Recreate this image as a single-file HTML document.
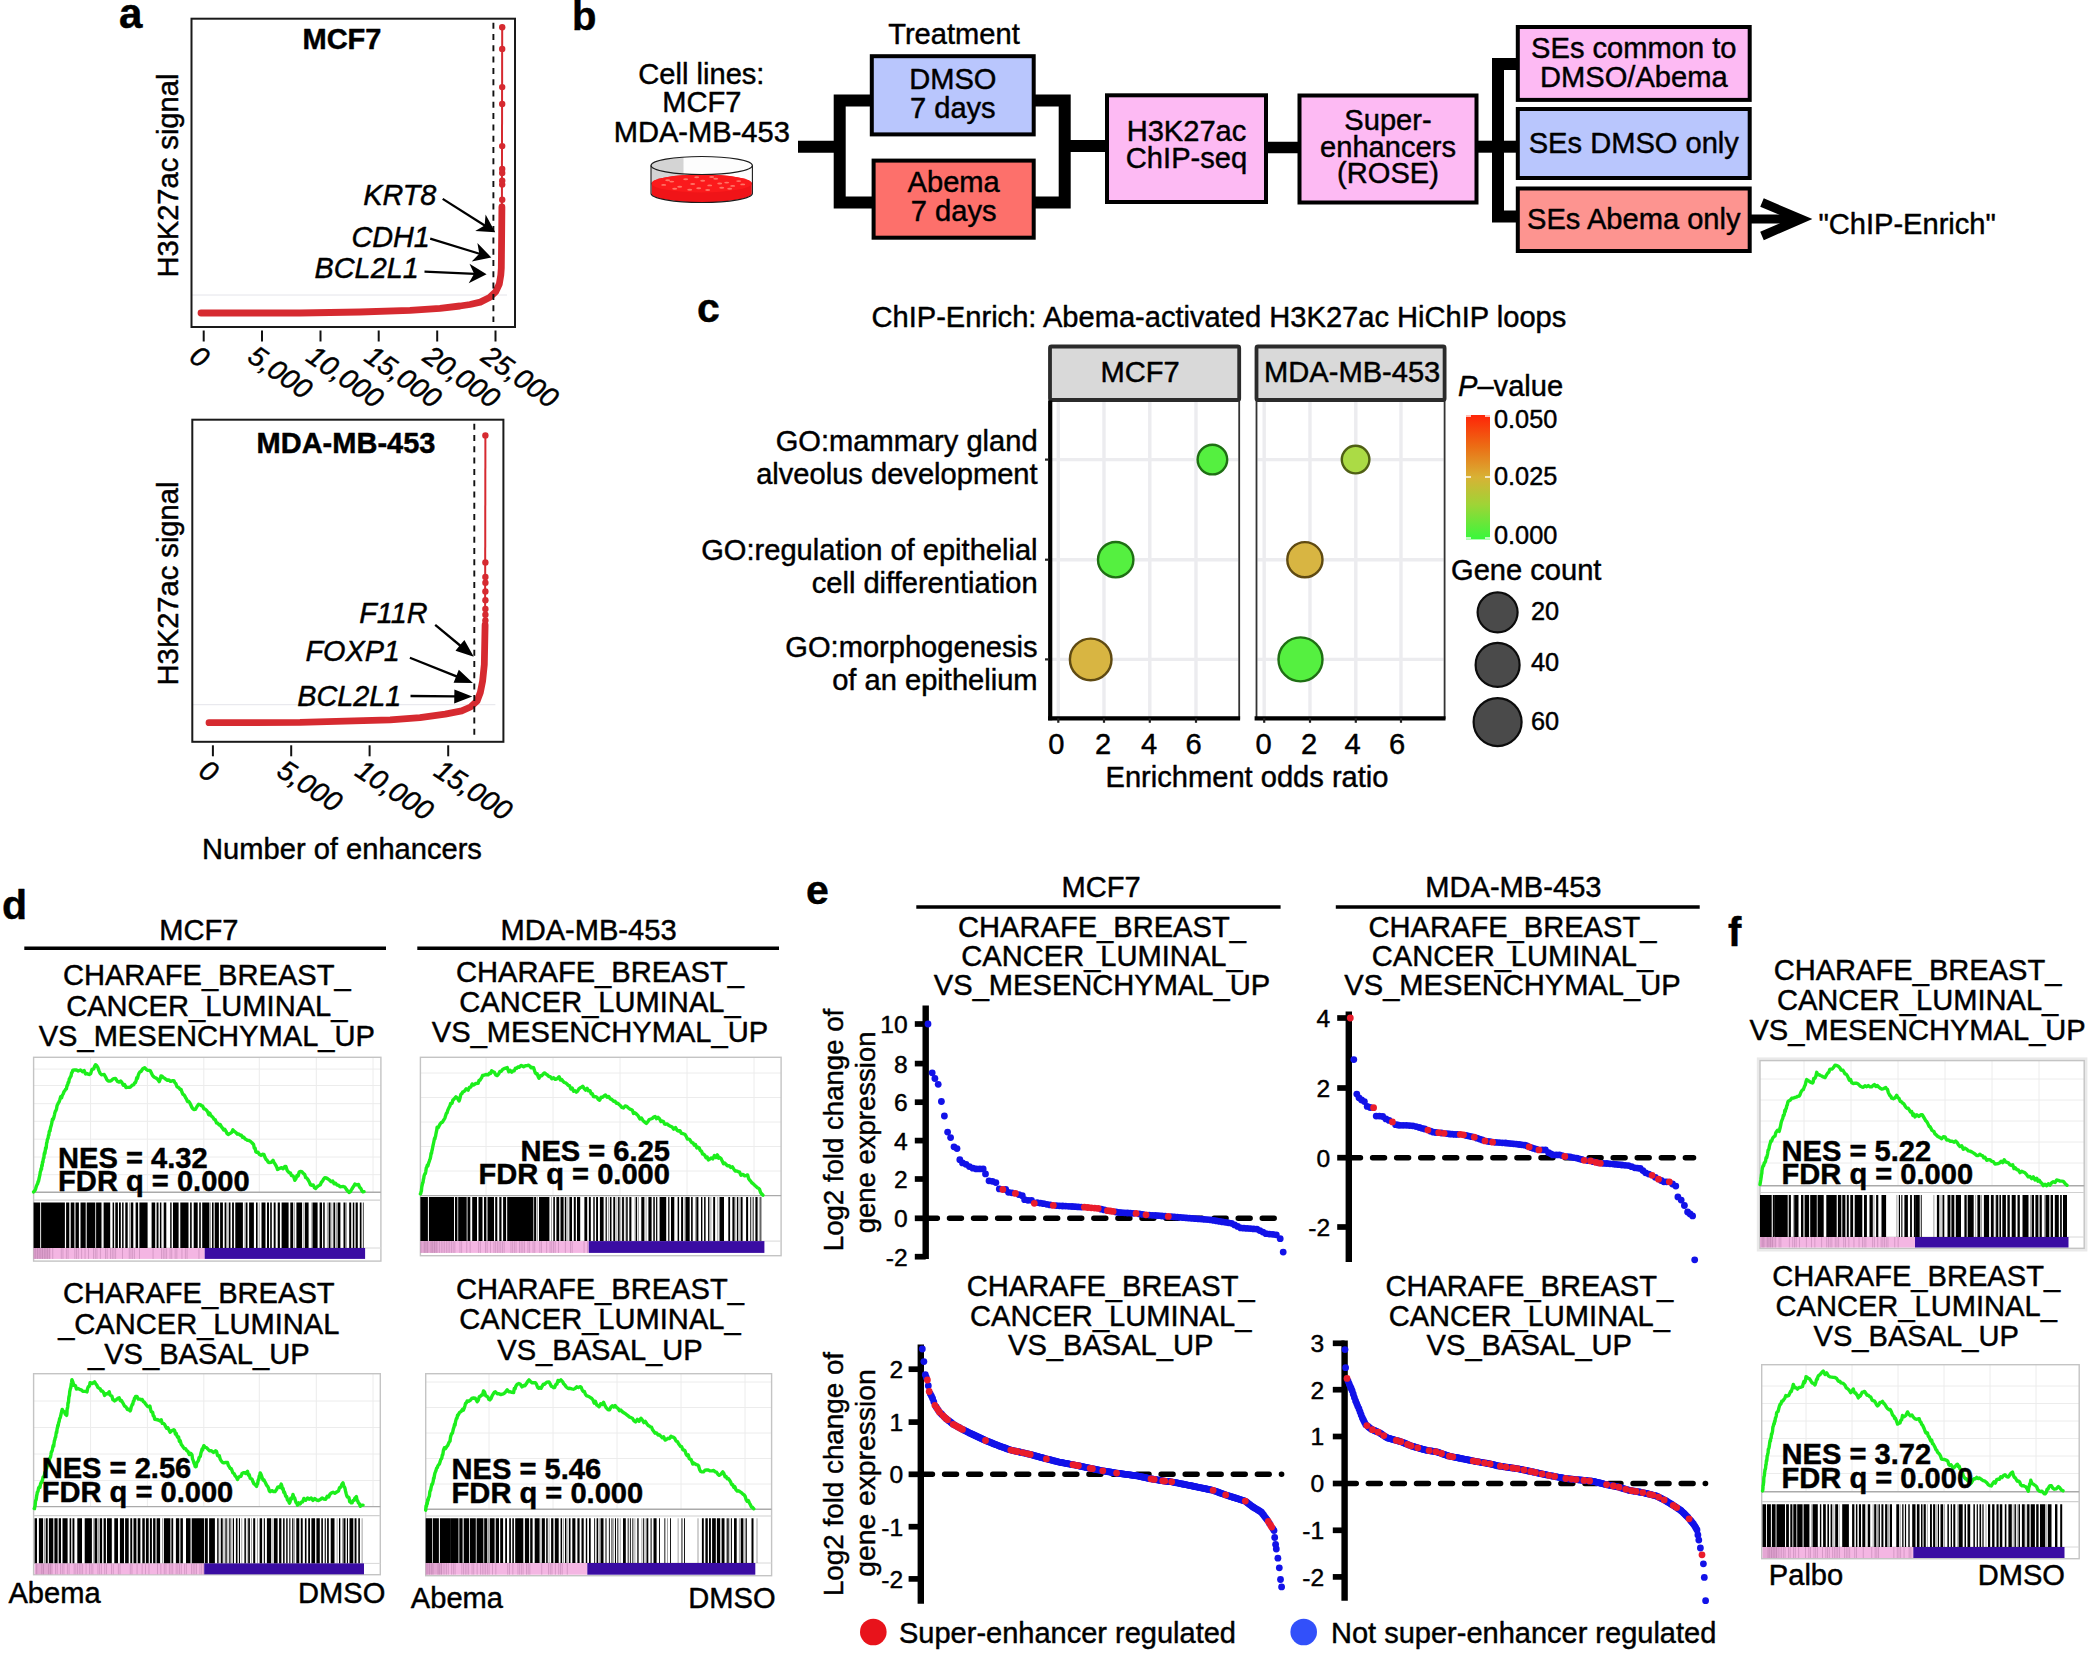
<!DOCTYPE html>
<html><head><meta charset="utf-8"><title>Figure</title>
<style>
html,body{margin:0;padding:0;background:#fff;}
svg{display:block;font-family:"Liberation Sans",sans-serif;}
svg text{fill:#000;stroke:#000;stroke-width:0.45px;stroke-linejoin:round;}
</style></head><body>
<svg width="2088" height="1654" viewBox="0 0 2088 1654">
<rect width="2088" height="1654" fill="#fff"/>
<text x="119.0" y="27.7" font-size="42" font-weight="bold">a</text>
<line x1="191.5" y1="295.0" x2="507.0" y2="295.0" stroke="#e4e4ea" stroke-width="1" />
<polyline points="201.0,313.0 300.0,313.0 360.0,312.0 410.0,310.3 440.0,308.3 460.0,306.0 470.0,304.5 480.3,302.1 489.5,297.5 495.7,291.8 499.3,284.0 500.8,275.0 501.3,268.2 501.5,250.0 501.7,230.0 501.9,207.0" fill="none" stroke="#d62a30" stroke-width="6.8" stroke-linecap="round" stroke-linejoin="round"/>
<line x1="501.9" y1="207.0" x2="502.2" y2="27.3" stroke="#d62a30" stroke-width="2" />
<circle cx="502.2" cy="27.3" r="3.2" fill="#d62a30" />
<circle cx="502.2" cy="48.9" r="3.2" fill="#d62a30" />
<circle cx="502.2" cy="87.1" r="3.2" fill="#d62a30" />
<circle cx="502.2" cy="104.0" r="3.2" fill="#d62a30" />
<circle cx="502.2" cy="146.1" r="3.2" fill="#d62a30" />
<circle cx="502.2" cy="169.0" r="3.2" fill="#d62a30" />
<circle cx="502.2" cy="172.9" r="3.2" fill="#d62a30" />
<circle cx="502.2" cy="180.7" r="3.2" fill="#d62a30" />
<circle cx="502.2" cy="184.6" r="3.2" fill="#d62a30" />
<circle cx="502.2" cy="199.7" r="3.2" fill="#d62a30" />
<line x1="493.4" y1="22.7" x2="493.4" y2="322.0" stroke="#111" stroke-width="1.9" stroke-dasharray="6 5.3"/>
<rect x="191.5" y="18.7" width="323.5" height="308.3" fill="none" stroke="#1a1a1a" stroke-width="2" />
<text x="342.0" y="49.4" font-size="29" text-anchor="middle" font-weight="bold">MCF7</text>
<line x1="203.7" y1="330.5" x2="203.7" y2="341.5" stroke="#111" stroke-width="2" />
<text x="187.7" y="360.0" font-size="28" font-style="italic" transform="rotate(35 187.7 360.0)">0</text>
<line x1="262.0" y1="330.5" x2="262.0" y2="341.5" stroke="#111" stroke-width="2" />
<text x="246.0" y="360.0" font-size="28" font-style="italic" transform="rotate(35 246.0 360.0)">5,000</text>
<line x1="320.5" y1="330.5" x2="320.5" y2="341.5" stroke="#111" stroke-width="2" />
<text x="304.5" y="360.0" font-size="28" font-style="italic" transform="rotate(35 304.5 360.0)">10,000</text>
<line x1="378.7" y1="330.5" x2="378.7" y2="341.5" stroke="#111" stroke-width="2" />
<text x="362.7" y="360.0" font-size="28" font-style="italic" transform="rotate(35 362.7 360.0)">15,000</text>
<line x1="437.2" y1="330.5" x2="437.2" y2="341.5" stroke="#111" stroke-width="2" />
<text x="421.2" y="360.0" font-size="28" font-style="italic" transform="rotate(35 421.2 360.0)">20,000</text>
<line x1="495.5" y1="330.5" x2="495.5" y2="341.5" stroke="#111" stroke-width="2" />
<text x="479.5" y="360.0" font-size="28" font-style="italic" transform="rotate(35 479.5 360.0)">25,000</text>
<text x="436.4" y="205.4" font-size="28.8" text-anchor="end" font-style="italic">KRT8</text>
<line x1="442.7" y1="198.9" x2="485.5" y2="226.0" stroke="#000" stroke-width="2.3" />
<polygon points="495.2,232.2 475.2,231.1 484.6,225.5 485.6,214.6" fill="#000"/>
<text x="429.9" y="247.0" font-size="28.8" text-anchor="end" font-style="italic">CDH1</text>
<line x1="430.2" y1="238.7" x2="480.3" y2="254.0" stroke="#000" stroke-width="2.3" />
<polygon points="491.3,257.4 471.7,261.6 479.3,253.7 477.4,243.0" fill="#000"/>
<text x="418.7" y="278.2" font-size="28.8" text-anchor="end" font-style="italic">BCL2L1</text>
<line x1="424.5" y1="271.7" x2="475.1" y2="273.8" stroke="#000" stroke-width="2.3" />
<polygon points="486.6,274.3 468.7,283.3 474.1,273.8 469.5,263.8" fill="#000"/>
<text x="178.0" y="175.5" font-size="29.1" text-anchor="middle" transform="rotate(-90 178.0 175.5)">H3K27ac signal</text>
<line x1="192.3" y1="704.7" x2="495.4" y2="704.7" stroke="#e4e4ea" stroke-width="1" />
<polyline points="209.0,722.7 300.0,722.4 390.2,719.8 420.0,717.6 445.2,714.2 461.7,710.9 470.5,707.0 477.1,701.0 480.4,692.2 482.6,681.1 484.3,664.6 484.8,640.0 485.1,625.0" fill="none" stroke="#d62a30" stroke-width="6.8" stroke-linecap="round" stroke-linejoin="round"/>
<line x1="485.1" y1="625.0" x2="485.4" y2="435.4" stroke="#d62a30" stroke-width="2" />
<circle cx="485.4" cy="435.4" r="3.2" fill="#d62a30" />
<circle cx="485.4" cy="562.5" r="3.2" fill="#d62a30" />
<circle cx="485.4" cy="577.0" r="3.2" fill="#d62a30" />
<circle cx="485.4" cy="582.8" r="3.2" fill="#d62a30" />
<circle cx="485.4" cy="591.5" r="3.2" fill="#d62a30" />
<circle cx="485.4" cy="600.2" r="3.2" fill="#d62a30" />
<circle cx="485.4" cy="608.9" r="3.2" fill="#d62a30" />
<circle cx="485.4" cy="614.7" r="3.2" fill="#d62a30" />
<circle cx="485.4" cy="620.5" r="3.2" fill="#d62a30" />
<line x1="474.3" y1="423.7" x2="474.3" y2="736.8" stroke="#111" stroke-width="1.9" stroke-dasharray="6 5.3"/>
<rect x="192.3" y="419.7" width="311.1" height="322.1" fill="none" stroke="#1a1a1a" stroke-width="2" />
<text x="346.0" y="453.0" font-size="29" text-anchor="middle" font-weight="bold">MDA-MB-453</text>
<line x1="212.9" y1="745.3" x2="212.9" y2="756.3" stroke="#111" stroke-width="2" />
<text x="196.9" y="774.8" font-size="28" font-style="italic" transform="rotate(33 196.9 774.8)">0</text>
<line x1="291.2" y1="745.3" x2="291.2" y2="756.3" stroke="#111" stroke-width="2" />
<text x="275.2" y="774.8" font-size="28" font-style="italic" transform="rotate(33 275.2 774.8)">5,000</text>
<line x1="369.6" y1="745.3" x2="369.6" y2="756.3" stroke="#111" stroke-width="2" />
<text x="353.6" y="774.8" font-size="28" font-style="italic" transform="rotate(33 353.6 774.8)">10,000</text>
<line x1="448.2" y1="745.3" x2="448.2" y2="756.3" stroke="#111" stroke-width="2" />
<text x="432.2" y="774.8" font-size="28" font-style="italic" transform="rotate(33 432.2 774.8)">15,000</text>
<text x="427.5" y="622.9" font-size="28.8" text-anchor="end" font-style="italic">F11R</text>
<line x1="435.2" y1="624.9" x2="460.7" y2="646.0" stroke="#000" stroke-width="2.3" />
<polygon points="473.8,656.8 455.5,650.7 459.9,645.3 464.4,639.9" fill="#000"/>
<text x="399.9" y="661.2" font-size="28.8" text-anchor="end" font-style="italic">FOXP1</text>
<line x1="409.9" y1="657.7" x2="457.1" y2="676.6" stroke="#000" stroke-width="2.3" />
<polygon points="472.9,682.9 453.6,682.7 456.2,676.2 458.8,669.7" fill="#000"/>
<text x="401.3" y="706.1" font-size="28.8" text-anchor="end" font-style="italic">BCL2L1</text>
<line x1="410.5" y1="696.0" x2="455.3" y2="696.4" stroke="#000" stroke-width="2.3" />
<polygon points="472.3,696.6 454.2,703.4 454.3,696.4 454.4,689.4" fill="#000"/>
<text x="178.0" y="583.5" font-size="29.1" text-anchor="middle" transform="rotate(-90 178.0 583.5)">H3K27ac signal</text>
<text x="342.0" y="858.5" font-size="29.1" text-anchor="middle">Number of enhancers</text>
<text x="572.0" y="29.5" font-size="40" font-weight="bold">b</text>
<text x="954.0" y="43.5" font-size="29.1" text-anchor="middle">Treatment</text>
<text x="701.4" y="83.6" font-size="29.1" text-anchor="middle">Cell lines:</text>
<text x="701.8" y="112.3" font-size="29.1" text-anchor="middle">MCF7</text>
<text x="701.8" y="141.5" font-size="29.1" text-anchor="middle">MDA-MB-453</text>
<g>
<path d="M651.0,165.5 L651.0,193.5 A50.7,9 0 0 0 752.4000000000001,193.5 L752.4000000000001,165.5 A50.7,9 0 0 0 651.0,165.5 Z" fill="#fdfdfd"/>
<path d="M651.0,165.5 A50.7,9 0 0 1 683.5,157.1 L683.5,183.5 L651.0,185.5 Z" fill="#d4d4d4"/>
<path d="M651.6,183.5 L651.6,193.5 A50.1,9 0 0 0 751.8000000000001,193.5 L751.8000000000001,183.5 A50.1,9 0 0 0 651.6,183.5 Z" fill="#f01418"/>
<ellipse cx="701.7" cy="183.5" rx="50.1" ry="9" fill="#fb1a1c"/>
<ellipse cx="663.7" cy="184.9" rx="2.5" ry="0.95" fill="#ff7466"/>
<ellipse cx="671.7" cy="181.6" rx="2.5" ry="0.95" fill="#ff7466"/>
<ellipse cx="679.7" cy="186.8" rx="2.5" ry="0.95" fill="#ff7466"/>
<ellipse cx="685.7" cy="179.2" rx="2.5" ry="0.95" fill="#ff7466"/>
<ellipse cx="692.7" cy="184.0" rx="2.5" ry="0.95" fill="#ff7466"/>
<ellipse cx="698.7" cy="188.2" rx="2.5" ry="0.95" fill="#ff7466"/>
<ellipse cx="702.7" cy="180.7" rx="2.5" ry="0.95" fill="#ff7466"/>
<ellipse cx="709.7" cy="185.4" rx="2.5" ry="0.95" fill="#ff7466"/>
<ellipse cx="715.7" cy="178.8" rx="2.5" ry="0.95" fill="#ff7466"/>
<ellipse cx="721.7" cy="187.8" rx="2.5" ry="0.95" fill="#ff7466"/>
<ellipse cx="726.7" cy="182.6" rx="2.5" ry="0.95" fill="#ff7466"/>
<ellipse cx="732.7" cy="185.9" rx="2.5" ry="0.95" fill="#ff7466"/>
<ellipse cx="738.7" cy="181.1" rx="2.5" ry="0.95" fill="#ff7466"/>
<ellipse cx="674.7" cy="188.7" rx="2.5" ry="0.95" fill="#ff7466"/>
<ellipse cx="689.7" cy="189.7" rx="2.5" ry="0.95" fill="#ff7466"/>
<ellipse cx="707.7" cy="190.0" rx="2.5" ry="0.95" fill="#ff7466"/>
<ellipse cx="719.7" cy="183.5" rx="2.5" ry="0.95" fill="#ff7466"/>
<ellipse cx="667.7" cy="180.2" rx="2.5" ry="0.95" fill="#ff7466"/>
<ellipse cx="696.7" cy="177.3" rx="2.5" ry="0.95" fill="#ff7466"/>
<ellipse cx="729.7" cy="188.7" rx="2.5" ry="0.95" fill="#ff7466"/>
<ellipse cx="711.7" cy="177.0" rx="2.5" ry="0.95" fill="#ff7466"/>
<ellipse cx="742.7" cy="184.4" rx="2.5" ry="0.95" fill="#ff7466"/>
<ellipse cx="701.7" cy="165.5" rx="50.7" ry="9" fill="none" stroke="#1c1c1c" stroke-width="1.1"/>
<path d="M651.0,165.5 L651.0,193.5 A50.7,9 0 0 0 752.4000000000001,193.5 L752.4000000000001,165.5" fill="none" stroke="#1c1c1c" stroke-width="1.1"/>
</g>
<line x1="798.0" y1="146.8" x2="840.0" y2="146.8" stroke="#000" stroke-width="12" />
<path d="M872,100.5 L839.7,100.5 L839.7,202.4 L874,202.4" fill="none" stroke="#000" stroke-width="12"/>
<path d="M1034,100.5 L1064.7,100.5 L1064.7,202.4 L1034,202.4" fill="none" stroke="#000" stroke-width="12"/>
<line x1="1064.0" y1="146.0" x2="1107.0" y2="146.0" stroke="#000" stroke-width="12" />
<line x1="1267.0" y1="147.5" x2="1299.0" y2="147.5" stroke="#000" stroke-width="11.5" />
<line x1="1477.0" y1="146.7" x2="1500.0" y2="146.7" stroke="#000" stroke-width="12" />
<path d="M1518,64 L1498,64 L1498,216.5 L1518,216.5" fill="none" stroke="#000" stroke-width="12"/>
<line x1="1498.0" y1="146.7" x2="1518.0" y2="146.7" stroke="#000" stroke-width="12" />
<line x1="1750.0" y1="219.0" x2="1796.0" y2="219.0" stroke="#000" stroke-width="9" />
<path d="M1762,202.5 L1801,219 L1762,236" fill="none" stroke="#000" stroke-width="9" stroke-linejoin="miter"/>
<rect x="871.8" y="56.2" width="161.9" height="78.2" fill="#b9c6fd" stroke="#000" stroke-width="4" />
<text x="952.8" y="88.5" font-size="29.1" text-anchor="middle">DMSO</text>
<text x="952.8" y="118.0" font-size="29.1" text-anchor="middle">7 days</text>
<rect x="873.6" y="160.6" width="160.1" height="77.1" fill="#fd706b" stroke="#000" stroke-width="4" />
<text x="953.7" y="191.8" font-size="29.1" text-anchor="middle">Abema</text>
<text x="953.7" y="221.3" font-size="29.1" text-anchor="middle">7 days</text>
<rect x="1107.0" y="95.3" width="159.0" height="106.7" fill="#fdbaf3" stroke="#000" stroke-width="4" />
<text x="1186.5" y="141.2" font-size="29.1" text-anchor="middle">H3K27ac</text>
<text x="1186.5" y="167.8" font-size="29.1" text-anchor="middle">ChIP-seq</text>
<rect x="1299.5" y="95.5" width="177.0" height="107.0" fill="#fdbaf3" stroke="#000" stroke-width="4" />
<text x="1388.0" y="130.1" font-size="29.1" text-anchor="middle">Super-</text>
<text x="1388.0" y="156.6" font-size="29.1" text-anchor="middle">enhancers</text>
<text x="1388.0" y="183.2" font-size="29.1" text-anchor="middle">(ROSE)</text>
<rect x="1517.8" y="27.0" width="231.9" height="72.9" fill="#fdbaf3" stroke="#000" stroke-width="4" />
<text x="1633.8" y="57.5" font-size="29.1" text-anchor="middle">SEs common to</text>
<text x="1633.8" y="87.2" font-size="29.1" text-anchor="middle">DMSO/Abema</text>
<rect x="1517.8" y="109.0" width="231.9" height="69.0" fill="#b9c6fd" stroke="#000" stroke-width="4" />
<text x="1633.8" y="152.7" font-size="29.1" text-anchor="middle">SEs DMSO only</text>
<rect x="1517.8" y="188.5" width="231.9" height="62.5" fill="#fd9490" stroke="#000" stroke-width="4" />
<text x="1633.8" y="228.8" font-size="29.1" text-anchor="middle">SEs Abema only</text>
<text x="1818.4" y="234.0" font-size="29.1">"ChIP-Enrich"</text>
<text x="697.0" y="321.8" font-size="41" font-weight="bold">c</text>
<text x="871.5" y="327.0" font-size="29.1">ChIP-Enrich: Abema-activated H3K27ac HiChIP loops</text>
<rect x="1050.0" y="400.5" width="189.2" height="317.8" fill="#fff" />
<line x1="1058.3" y1="400.5" x2="1058.3" y2="718.3" stroke="#ececef" stroke-width="3.4" />
<line x1="1104.0" y1="400.5" x2="1104.0" y2="718.3" stroke="#ececef" stroke-width="3.4" />
<line x1="1149.8" y1="400.5" x2="1149.8" y2="718.3" stroke="#ececef" stroke-width="3.4" />
<line x1="1196.0" y1="400.5" x2="1196.0" y2="718.3" stroke="#ececef" stroke-width="3.4" />
<line x1="1051.0" y1="459.6" x2="1238.2" y2="459.6" stroke="#ececef" stroke-width="3.4" />
<line x1="1051.0" y1="559.7" x2="1238.2" y2="559.7" stroke="#ececef" stroke-width="3.4" />
<line x1="1051.0" y1="659.4" x2="1238.2" y2="659.4" stroke="#ececef" stroke-width="3.4" />
<rect x="1050.0" y="400.5" width="189.2" height="317.8" fill="none" stroke="#333" stroke-width="1.8" />
<rect x="1050.0" y="346.5" width="189.2" height="53.5" fill="#d9d9d9" stroke="#2b2b2b" stroke-width="3.8" rx="1.5"/>
<text x="1140.2" y="382.2" font-size="29.1" text-anchor="middle">MCF7</text>
<line x1="1050.2" y1="400.5" x2="1050.2" y2="720.3" stroke="#000" stroke-width="4.2" />
<line x1="1048.1" y1="718.3" x2="1240.1" y2="718.3" stroke="#000" stroke-width="4.2" />
<line x1="1058.3" y1="718.3" x2="1058.3" y2="722.8" stroke="#222" stroke-width="2.2" />
<text x="1056.4" y="754.4" font-size="29.1" text-anchor="middle">0</text>
<line x1="1104.0" y1="718.3" x2="1104.0" y2="722.8" stroke="#222" stroke-width="2.2" />
<text x="1103.2" y="754.4" font-size="29.1" text-anchor="middle">2</text>
<line x1="1149.8" y1="718.3" x2="1149.8" y2="722.8" stroke="#222" stroke-width="2.2" />
<text x="1149.2" y="754.4" font-size="29.1" text-anchor="middle">4</text>
<line x1="1196.0" y1="718.3" x2="1196.0" y2="722.8" stroke="#222" stroke-width="2.2" />
<text x="1193.7" y="754.4" font-size="29.1" text-anchor="middle">6</text>
<rect x="1256.5" y="400.5" width="188.1" height="317.8" fill="#fff" />
<line x1="1264.2" y1="400.5" x2="1264.2" y2="718.3" stroke="#ececef" stroke-width="3.4" />
<line x1="1310.0" y1="400.5" x2="1310.0" y2="718.3" stroke="#ececef" stroke-width="3.4" />
<line x1="1355.8" y1="400.5" x2="1355.8" y2="718.3" stroke="#ececef" stroke-width="3.4" />
<line x1="1401.0" y1="400.5" x2="1401.0" y2="718.3" stroke="#ececef" stroke-width="3.4" />
<line x1="1257.5" y1="459.6" x2="1443.6" y2="459.6" stroke="#ececef" stroke-width="3.4" />
<line x1="1257.5" y1="559.7" x2="1443.6" y2="559.7" stroke="#ececef" stroke-width="3.4" />
<line x1="1257.5" y1="659.4" x2="1443.6" y2="659.4" stroke="#ececef" stroke-width="3.4" />
<rect x="1256.5" y="400.5" width="188.1" height="317.8" fill="none" stroke="#333" stroke-width="1.8" />
<rect x="1256.5" y="346.5" width="188.1" height="53.5" fill="#d9d9d9" stroke="#2b2b2b" stroke-width="3.8" rx="1.5"/>
<text x="1352.2" y="382.2" font-size="29.1" text-anchor="middle">MDA-MB-453</text>
<line x1="1254.6" y1="718.3" x2="1445.5" y2="718.3" stroke="#000" stroke-width="4.2" />
<line x1="1264.2" y1="718.3" x2="1264.2" y2="722.8" stroke="#222" stroke-width="2.2" />
<text x="1263.6" y="754.4" font-size="29.1" text-anchor="middle">0</text>
<line x1="1310.0" y1="718.3" x2="1310.0" y2="722.8" stroke="#222" stroke-width="2.2" />
<text x="1309.1" y="754.4" font-size="29.1" text-anchor="middle">2</text>
<line x1="1355.8" y1="718.3" x2="1355.8" y2="722.8" stroke="#222" stroke-width="2.2" />
<text x="1352.5" y="754.4" font-size="29.1" text-anchor="middle">4</text>
<line x1="1401.0" y1="718.3" x2="1401.0" y2="722.8" stroke="#222" stroke-width="2.2" />
<text x="1397.0" y="754.4" font-size="29.1" text-anchor="middle">6</text>
<line x1="1045.0" y1="459.6" x2="1048.5" y2="459.6" stroke="#222" stroke-width="2.2" />
<line x1="1045.0" y1="559.7" x2="1048.5" y2="559.7" stroke="#222" stroke-width="2.2" />
<line x1="1045.0" y1="659.4" x2="1048.5" y2="659.4" stroke="#222" stroke-width="2.2" />
<text x="1247.0" y="787.0" font-size="29.1" text-anchor="middle">Enrichment odds ratio</text>
<text x="1037.6" y="451.3" font-size="29.1" text-anchor="end">GO:mammary gland</text>
<text x="1037.6" y="484.3" font-size="29.1" text-anchor="end">alveolus development</text>
<text x="1037.6" y="560.3" font-size="29.1" text-anchor="end">GO:regulation of epithelial</text>
<text x="1037.6" y="593.3" font-size="29.1" text-anchor="end">cell differentiation</text>
<text x="1037.6" y="656.8" font-size="29.1" text-anchor="end">GO:morphogenesis</text>
<text x="1037.6" y="690.3" font-size="29.1" text-anchor="end">of an epithelium</text>
<circle cx="1212.4" cy="459.6" r="14.8" fill="#55f040" stroke="#1f6f14" stroke-width="2.4" />
<circle cx="1115.7" cy="559.7" r="17.7" fill="#55f040" stroke="#1f6f14" stroke-width="2.4" />
<circle cx="1090.7" cy="659.4" r="20.8" fill="#d8b542" stroke="#5f4a12" stroke-width="2.4" />
<circle cx="1355.6" cy="459.6" r="13.8" fill="#abdb45" stroke="#4f5f14" stroke-width="2.4" />
<circle cx="1304.9" cy="559.7" r="17.6" fill="#d8b542" stroke="#5f4a12" stroke-width="2.4" />
<circle cx="1300.5" cy="659.4" r="22" fill="#55f040" stroke="#1f6f14" stroke-width="2.4" />
<defs><linearGradient id="pv" x1="0" y1="0" x2="0" y2="1"><stop offset="0" stop-color="#ff2408"/><stop offset="0.25" stop-color="#ec6c14"/><stop offset="0.5" stop-color="#d8b235"/><stop offset="0.72" stop-color="#9fd436"/><stop offset="1" stop-color="#38f83c"/></linearGradient></defs>
<rect x="1466.0" y="415.0" width="24.0" height="124.4" fill="url(#pv)" />
<line x1="1466.0" y1="416.0" x2="1471.0" y2="416.0" stroke="#fff" stroke-width="1.4" />
<line x1="1485.0" y1="416.0" x2="1490.0" y2="416.0" stroke="#fff" stroke-width="1.4" />
<line x1="1466.0" y1="477.0" x2="1471.0" y2="477.0" stroke="#fff" stroke-width="1.4" />
<line x1="1485.0" y1="477.0" x2="1490.0" y2="477.0" stroke="#fff" stroke-width="1.4" />
<line x1="1466.0" y1="538.0" x2="1471.0" y2="538.0" stroke="#fff" stroke-width="1.4" />
<line x1="1485.0" y1="538.0" x2="1490.0" y2="538.0" stroke="#fff" stroke-width="1.4" />
<text x="1458" y="396.4" font-size="29.1"><tspan font-style="italic">P</tspan>–value</text>
<text x="1494.0" y="428.0" font-size="25.3">0.050</text>
<text x="1494.0" y="485.0" font-size="25.3">0.025</text>
<text x="1494.0" y="544.0" font-size="25.3">0.000</text>
<text x="1451.0" y="580.0" font-size="29.1">Gene count</text>
<circle cx="1497.6" cy="612.3" r="20" fill="#4a4a4a" stroke="#0c0c0c" stroke-width="2.2" />
<text x="1531.0" y="620.0" font-size="25.3">20</text>
<circle cx="1497.6" cy="664.9" r="22" fill="#4a4a4a" stroke="#0c0c0c" stroke-width="2.2" />
<text x="1531.0" y="671.0" font-size="25.3">40</text>
<circle cx="1497.6" cy="722.1" r="24" fill="#4a4a4a" stroke="#0c0c0c" stroke-width="2.2" />
<text x="1531.0" y="729.6" font-size="25.3">60</text>
<text x="2.0" y="919.4" font-size="41" font-weight="bold">d</text>
<text x="198.8" y="939.9" font-size="29.1" text-anchor="middle">MCF7</text>
<line x1="24.3" y1="948.3" x2="386.0" y2="948.3" stroke="#000" stroke-width="3.6" />
<text x="588.5" y="939.9" font-size="29.1" text-anchor="middle">MDA-MB-453</text>
<line x1="417.3" y1="948.3" x2="779.0" y2="948.3" stroke="#000" stroke-width="3.6" />
<text x="206.8" y="985.3" font-size="29.1" text-anchor="middle">CHARAFE_BREAST_</text>
<text x="206.8" y="1015.7" font-size="29.1" text-anchor="middle">CANCER_LUMINAL_</text>
<text x="206.8" y="1046.0" font-size="29.1" text-anchor="middle">VS_MESENCHYMAL_UP</text>
<text x="600.0" y="982.0" font-size="29.1" text-anchor="middle">CHARAFE_BREAST_</text>
<text x="600.0" y="1012.4" font-size="29.1" text-anchor="middle">CANCER_LUMINAL_</text>
<text x="600.0" y="1042.3" font-size="29.1" text-anchor="middle">VS_MESENCHYMAL_UP</text>
<text x="198.8" y="1303.4" font-size="29.1" text-anchor="middle">CHARAFE_BREAST</text>
<text x="198.8" y="1333.8" font-size="29.1" text-anchor="middle">_CANCER_LUMINAL</text>
<text x="198.8" y="1364.2" font-size="29.1" text-anchor="middle">_VS_BASAL_UP</text>
<text x="600.0" y="1298.7" font-size="29.1" text-anchor="middle">CHARAFE_BREAST_</text>
<text x="600.0" y="1329.1" font-size="29.1" text-anchor="middle">CANCER_LUMINAL_</text>
<text x="600.0" y="1359.5" font-size="29.1" text-anchor="middle">VS_BASAL_UP</text>
<line x1="90.6" y1="1057.3" x2="90.6" y2="1192.3" stroke="#ececec" stroke-width="1" />
<line x1="147.4" y1="1057.3" x2="147.4" y2="1192.3" stroke="#ececec" stroke-width="1" />
<line x1="203.8" y1="1057.3" x2="203.8" y2="1192.3" stroke="#ececec" stroke-width="1" />
<line x1="259.3" y1="1057.3" x2="259.3" y2="1192.3" stroke="#ececec" stroke-width="1" />
<line x1="316.3" y1="1057.3" x2="316.3" y2="1192.3" stroke="#ececec" stroke-width="1" />
<line x1="373.0" y1="1057.3" x2="373.0" y2="1192.3" stroke="#ececec" stroke-width="1" />
<line x1="33.6" y1="1069.1" x2="380.9" y2="1069.1" stroke="#ececec" stroke-width="1" />
<line x1="33.6" y1="1085.5" x2="380.9" y2="1085.5" stroke="#ececec" stroke-width="1" />
<line x1="33.6" y1="1103.7" x2="380.9" y2="1103.7" stroke="#ececec" stroke-width="1" />
<line x1="33.6" y1="1121.3" x2="380.9" y2="1121.3" stroke="#ececec" stroke-width="1" />
<line x1="33.6" y1="1139.2" x2="380.9" y2="1139.2" stroke="#ececec" stroke-width="1" />
<line x1="33.6" y1="1157.0" x2="380.9" y2="1157.0" stroke="#ececec" stroke-width="1" />
<line x1="33.6" y1="1174.7" x2="380.9" y2="1174.7" stroke="#ececec" stroke-width="1" />
<rect x="33.6" y="1057.3" width="347.3" height="203.8" fill="none" stroke="#c4c4c4" stroke-width="1.4" />
<line x1="33.6" y1="1192.3" x2="380.9" y2="1192.3" stroke="#aaa" stroke-width="1.4" />
<line x1="33.6" y1="1200.1" x2="380.9" y2="1200.1" stroke="#d0d0d0" stroke-width="1.2" />
<line x1="33.6" y1="1248.0" x2="380.9" y2="1248.0" stroke="#d8d8d8" stroke-width="1" />
<path d="M33.6,1202.5h6.6v45.5h-6.6zM41.1,1202.5h3.6v45.5h-3.6zM44.7,1202.5h20.2v45.5h-20.2zM66.1,1202.5h3.2v45.5h-3.2zM70.7,1202.5h3.7v45.5h-3.7zM75.5,1202.5h3.4v45.5h-3.4zM80.5,1202.5h5.2v45.5h-5.2zM86.7,1202.5h2.6v45.5h-2.6zM89.3,1202.5h6.0v45.5h-6.0zM96.1,1202.5h5.4v45.5h-5.4zM103.9,1202.5h6.3v45.5h-6.3zM112.6,1202.5h1.5v45.5h-1.5zM115.3,1202.5h2.6v45.5h-2.6zM119.0,1202.5h1.8v45.5h-1.8zM122.1,1202.5h1.5v45.5h-1.5zM125.3,1202.5h2.4v45.5h-2.4zM130.7,1202.5h2.6v45.5h-2.6zM135.6,1202.5h2.5v45.5h-2.5zM139.4,1202.5h8.2v45.5h-8.2zM151.6,1202.5h3.6v45.5h-3.6zM156.6,1202.5h1.9v45.5h-1.9zM159.9,1202.5h1.5v45.5h-1.5zM164.0,1202.5h2.3v45.5h-2.3zM170.2,1202.5h1.4v45.5h-1.4zM173.0,1202.5h5.6v45.5h-5.6zM180.3,1202.5h8.2v45.5h-8.2zM190.1,1202.5h1.6v45.5h-1.6zM193.7,1202.5h4.0v45.5h-4.0zM199.2,1202.5h1.6v45.5h-1.6zM202.2,1202.5h7.2v45.5h-7.2zM212.0,1202.5h1.6v45.5h-1.6zM214.7,1202.5h4.2v45.5h-4.2zM220.1,1202.5h2.8v45.5h-2.8zM224.6,1202.5h1.8v45.5h-1.8zM228.9,1202.5h1.6v45.5h-1.6zM232.1,1202.5h1.8v45.5h-1.8zM235.3,1202.5h7.6v45.5h-7.6zM245.7,1202.5h1.8v45.5h-1.8zM249.1,1202.5h4.8v45.5h-4.8zM256.0,1202.5h1.6v45.5h-1.6zM261.5,1202.5h4.0v45.5h-4.0zM267.0,1202.5h2.0v45.5h-2.0zM270.2,1202.5h1.6v45.5h-1.6zM273.7,1202.5h1.9v45.5h-1.9zM277.7,1202.5h2.2v45.5h-2.2zM281.6,1202.5h7.0v45.5h-7.0zM290.3,1202.5h2.9v45.5h-2.9zM296.4,1202.5h5.6v45.5h-5.6zM304.8,1202.5h3.8v45.5h-3.8zM312.5,1202.5h5.1v45.5h-5.1zM319.6,1202.5h2.4v45.5h-2.4zM323.2,1202.5h1.5v45.5h-1.5zM328.6,1202.5h1.9v45.5h-1.9zM333.4,1202.5h1.8v45.5h-1.8zM337.6,1202.5h2.8v45.5h-2.8zM343.5,1202.5h2.0v45.5h-2.0zM349.2,1202.5h2.0v45.5h-2.0zM352.8,1202.5h1.5v45.5h-1.5zM355.6,1202.5h2.2v45.5h-2.2zM359.8,1202.5h1.7v45.5h-1.7zM362.9,1202.5h0.7v45.5h-0.7z" fill="#000"/>
<path d="M102.9,1202.5h0.8v45.5h-0.8zM129.2,1202.5h0.8v45.5h-0.8zM162.9,1202.5h0.8v45.5h-0.8zM210.2,1202.5h0.8v45.5h-0.8zM227.6,1202.5h0.8v45.5h-0.8zM244.5,1202.5h0.8v45.5h-0.8zM258.8,1202.5h0.8v45.5h-0.8zM294.0,1202.5h0.8v45.5h-0.8zM302.8,1202.5h0.8v45.5h-0.8zM311.4,1202.5h0.8v45.5h-0.8zM326.9,1202.5h0.8v45.5h-0.8zM331.5,1202.5h0.8v45.5h-0.8zM336.0,1202.5h0.8v45.5h-0.8zM346.1,1202.5h0.8v45.5h-0.8z" fill="#000" opacity="0.45"/>
<rect x="33.6" y="1248.0" width="171.1" height="10.9" fill="#f4b6e3" />
<rect x="204.7" y="1248.0" width="160.4" height="10.9" fill="#3a0ca3" />
<path d="M33.6,1248.0h0.9v10.9h-0.9zM35.3,1248.0h0.9v10.9h-0.9zM37.0,1248.0h0.9v10.9h-0.9zM38.7,1248.0h0.9v10.9h-0.9zM40.4,1248.0h0.9v10.9h-0.9zM42.1,1248.0h0.9v10.9h-0.9zM43.8,1248.0h0.9v10.9h-0.9zM45.5,1248.0h0.9v10.9h-0.9zM47.2,1248.0h0.9v10.9h-0.9zM48.9,1248.0h0.9v10.9h-0.9zM52.3,1248.0h0.9v10.9h-0.9zM60.8,1248.0h0.9v10.9h-0.9zM62.5,1248.0h0.9v10.9h-0.9zM65.9,1248.0h0.9v10.9h-0.9zM67.6,1248.0h0.9v10.9h-0.9zM74.4,1248.0h0.9v10.9h-0.9zM76.1,1248.0h0.9v10.9h-0.9zM77.8,1248.0h0.9v10.9h-0.9zM81.2,1248.0h0.9v10.9h-0.9zM84.6,1248.0h0.9v10.9h-0.9zM88.0,1248.0h0.9v10.9h-0.9zM93.1,1248.0h0.9v10.9h-0.9zM94.8,1248.0h0.9v10.9h-0.9zM96.5,1248.0h0.9v10.9h-0.9zM99.9,1248.0h0.9v10.9h-0.9zM105.0,1248.0h0.9v10.9h-0.9zM106.7,1248.0h0.9v10.9h-0.9zM110.1,1248.0h0.9v10.9h-0.9zM111.8,1248.0h0.9v10.9h-0.9zM113.5,1248.0h0.9v10.9h-0.9zM115.2,1248.0h0.9v10.9h-0.9zM122.0,1248.0h0.9v10.9h-0.9zM128.8,1248.0h0.9v10.9h-0.9zM130.5,1248.0h0.9v10.9h-0.9zM132.2,1248.0h0.9v10.9h-0.9zM133.9,1248.0h0.9v10.9h-0.9zM139.0,1248.0h0.9v10.9h-0.9zM152.6,1248.0h0.9v10.9h-0.9zM161.1,1248.0h0.9v10.9h-0.9zM162.8,1248.0h0.9v10.9h-0.9zM164.5,1248.0h0.9v10.9h-0.9zM166.2,1248.0h0.9v10.9h-0.9zM169.6,1248.0h0.9v10.9h-0.9zM171.3,1248.0h0.9v10.9h-0.9zM174.7,1248.0h0.9v10.9h-0.9zM176.4,1248.0h0.9v10.9h-0.9zM181.5,1248.0h0.9v10.9h-0.9zM184.9,1248.0h0.9v10.9h-0.9zM186.6,1248.0h0.9v10.9h-0.9zM198.5,1248.0h0.9v10.9h-0.9z" fill="#5a2a55" opacity="0.22"/>
<rect x="33.6" y="1248.0" width="17.1" height="10.9" fill="#7a3a6a" opacity="0.13"/>
<polyline points="33.6,1191.9 34.6,1190.8 35.5,1189.3 36.4,1186.1 37.3,1184.1 37.7,1183.6 38.0,1181.7 38.4,1181.7 38.8,1179.8 39.2,1177.9 39.6,1176.2 39.9,1174.9 40.3,1171.8 40.7,1171.1 41.1,1168.6 41.5,1169.3 41.8,1165.2 42.2,1165.8 42.5,1162.0 42.9,1162.3 43.2,1159.6 43.5,1158.2 43.9,1157.9 44.2,1153.9 44.6,1152.4 44.9,1153.4 45.3,1150.6 45.6,1147.7 45.9,1148.8 46.3,1147.1 46.6,1143.0 47.0,1142.4 47.3,1139.9 47.7,1138.9 48.1,1138.2 48.5,1135.3 48.9,1135.3 49.2,1131.9 49.6,1130.7 50.0,1131.0 50.4,1128.2 50.8,1126.7 51.2,1125.7 51.6,1123.8 52.0,1121.9 52.4,1119.3 52.8,1119.8 53.3,1119.0 53.8,1117.6 54.4,1115.1 54.9,1112.7 55.4,1111.2 55.9,1110.6 56.5,1109.1 57.0,1105.9 57.5,1104.7 58.1,1103.6 58.6,1102.5 59.1,1101.9 59.9,1099.5 60.7,1096.7 61.6,1097.7 62.4,1095.1 63.2,1093.9 64.0,1091.6 64.8,1090.8 65.6,1089.3 66.4,1089.0 67.0,1085.5 67.6,1085.2 68.1,1082.5 68.7,1082.5 69.3,1079.0 69.9,1078.1 70.5,1076.7 71.0,1076.1 71.6,1072.7 72.2,1072.4 72.8,1070.1 74.6,1069.9 76.4,1070.0 78.2,1071.0 80.5,1070.0 82.8,1071.8 84.2,1070.6 85.5,1074.0 86.9,1073.5 88.2,1074.2 89.5,1074.5 90.7,1073.6 91.9,1069.4 92.8,1068.9 93.7,1069.0 94.6,1066.4 95.5,1064.7 96.7,1065.6 97.8,1067.3 98.9,1070.6 100.1,1073.3 101.4,1074.7 102.8,1074.6 104.2,1074.5 105.5,1076.8 106.7,1079.3 107.8,1080.6 108.9,1081.1 110.1,1081.0 111.3,1080.7 112.5,1079.4 113.7,1078.6 115.5,1078.4 117.4,1081.4 119.2,1082.1 120.6,1081.0 121.9,1082.4 123.3,1085.2 124.6,1084.5 126.0,1087.6 127.4,1087.4 129.0,1087.4 130.6,1087.0 132.2,1085.1 133.7,1084.8 134.5,1083.1 135.3,1082.7 136.0,1081.1 136.8,1077.7 137.5,1078.3 138.3,1075.2 139.2,1072.9 140.1,1071.6 141.0,1071.5 142.8,1068.8 144.7,1067.7 146.2,1069.3 147.7,1070.3 149.2,1070.4 150.3,1070.9 151.4,1073.0 152.5,1075.4 153.6,1076.6 154.7,1077.5 156.2,1078.1 157.7,1079.3 159.2,1081.6 160.1,1079.3 161.0,1075.9 162.0,1076.1 163.3,1077.6 164.7,1078.2 166.0,1079.4 167.4,1080.4 169.0,1079.9 170.6,1081.4 172.2,1080.8 173.8,1080.6 174.8,1082.6 175.9,1083.7 177.0,1086.8 178.0,1087.3 179.1,1088.0 180.2,1089.5 181.1,1089.5 182.0,1092.2 182.9,1094.2 183.8,1094.7 184.7,1095.8 185.6,1097.7 186.5,1099.0 187.4,1101.5 188.5,1101.2 189.6,1102.5 190.6,1104.5 191.7,1107.0 192.7,1108.6 193.8,1109.6 195.4,1109.3 197.0,1106.5 198.6,1104.3 200.2,1104.6 201.4,1105.7 202.7,1106.2 204.0,1108.9 205.3,1109.2 206.5,1110.2 207.6,1111.7 208.7,1114.7 209.7,1113.1 210.8,1115.4 211.9,1116.4 212.9,1117.4 214.1,1119.3 215.3,1119.8 216.6,1123.1 217.8,1123.1 219.0,1124.9 220.2,1124.5 221.3,1126.6 222.5,1128.1 223.6,1130.0 224.7,1129.3 225.9,1131.1 227.0,1133.4 228.2,1134.5 229.3,1133.8 230.5,1133.2 231.7,1132.4 232.9,1129.8 234.4,1131.5 235.8,1132.4 237.3,1134.2 238.8,1133.9 240.2,1135.2 241.4,1135.2 242.6,1137.4 243.9,1137.3 245.1,1138.9 246.3,1139.5 247.5,1140.4 249.0,1140.5 250.5,1141.4 252.0,1142.9 252.8,1143.6 253.6,1144.5 254.3,1148.3 255.1,1148.2 255.8,1151.7 256.6,1152.2 258.0,1152.3 259.5,1154.5 261.0,1155.3 262.4,1154.3 263.9,1154.4 265.0,1157.4 266.1,1159.5 267.1,1160.2 268.2,1162.2 269.3,1162.6 271.2,1162.3 273.0,1160.3 273.9,1162.3 274.8,1163.7 275.7,1165.2 276.6,1166.8 277.5,1169.5 278.4,1169.1 280.0,1168.3 281.6,1167.6 283.2,1168.8 284.8,1166.5 285.9,1166.5 287.1,1170.2 288.2,1171.7 289.4,1172.9 290.4,1173.0 291.5,1175.6 292.6,1175.7 293.7,1176.7 294.8,1180.3 295.9,1178.8 297.0,1175.4 298.1,1176.0 299.2,1172.0 300.3,1171.4 301.8,1171.7 303.3,1173.4 304.8,1174.6 305.7,1177.7 306.6,1177.9 307.5,1179.0 308.5,1180.5 309.4,1182.3 310.6,1185.0 311.9,1185.4 313.2,1184.9 314.5,1187.8 315.7,1188.4 316.9,1187.0 318.0,1186.1 319.2,1185.4 320.3,1184.7 321.4,1182.2 322.6,1181.0 323.7,1178.9 324.8,1177.8 326.4,1178.0 328.0,1179.0 329.6,1180.2 331.2,1181.7 332.7,1181.1 334.1,1183.8 335.6,1183.2 337.0,1185.0 338.5,1185.2 340.1,1186.7 341.7,1186.6 343.3,1186.5 344.9,1187.1 346.2,1189.1 347.6,1190.9 349.0,1192.5 350.3,1191.8 351.2,1190.1 352.1,1188.8 353.0,1187.2 354.0,1185.7 354.9,1184.1 356.7,1184.8 358.5,1184.4 359.6,1187.3 360.7,1188.3 361.8,1190.6 362.9,1191.8 364.0,1191.6" fill="none" stroke="#1cee1c" stroke-width="3.4" stroke-linejoin="round" stroke-linecap="round"/>
<text x="58.1" y="1167.9" font-size="29.1" font-weight="bold">NES = 4.32</text>
<text x="58.1" y="1191.0" font-size="29.1" font-weight="bold">FDR q = 0.000</text>
<line x1="486.0" y1="1057.3" x2="486.0" y2="1195.6" stroke="#ececec" stroke-width="1" />
<line x1="553.0" y1="1057.3" x2="553.0" y2="1195.6" stroke="#ececec" stroke-width="1" />
<line x1="620.0" y1="1057.3" x2="620.0" y2="1195.6" stroke="#ececec" stroke-width="1" />
<line x1="687.0" y1="1057.3" x2="687.0" y2="1195.6" stroke="#ececec" stroke-width="1" />
<line x1="754.0" y1="1057.3" x2="754.0" y2="1195.6" stroke="#ececec" stroke-width="1" />
<line x1="420.4" y1="1073.0" x2="781.1" y2="1073.0" stroke="#ececec" stroke-width="1" />
<line x1="420.4" y1="1097.5" x2="781.1" y2="1097.5" stroke="#ececec" stroke-width="1" />
<line x1="420.4" y1="1122.0" x2="781.1" y2="1122.0" stroke="#ececec" stroke-width="1" />
<line x1="420.4" y1="1146.5" x2="781.1" y2="1146.5" stroke="#ececec" stroke-width="1" />
<line x1="420.4" y1="1171.0" x2="781.1" y2="1171.0" stroke="#ececec" stroke-width="1" />
<rect x="420.4" y="1057.3" width="360.7" height="198.4" fill="none" stroke="#c4c4c4" stroke-width="1.4" />
<line x1="420.4" y1="1195.6" x2="781.1" y2="1195.6" stroke="#aaa" stroke-width="1.4" />
<line x1="420.4" y1="1241.1" x2="781.1" y2="1241.1" stroke="#d8d8d8" stroke-width="1" />
<path d="M420.4,1197.0h7.5v44.1h-7.5zM428.9,1197.0h4.6v44.1h-4.6zM433.5,1197.0h20.5v44.1h-20.5zM455.0,1197.0h2.4v44.1h-2.4zM458.2,1197.0h8.5v44.1h-8.5zM467.5,1197.0h2.8v44.1h-2.8zM472.2,1197.0h4.8v44.1h-4.8zM478.5,1197.0h4.0v44.1h-4.0zM484.0,1197.0h2.4v44.1h-2.4zM487.5,1197.0h2.4v44.1h-2.4zM489.9,1197.0h4.1v44.1h-4.1zM495.2,1197.0h2.1v44.1h-2.1zM499.3,1197.0h2.2v44.1h-2.2zM503.1,1197.0h3.0v44.1h-3.0zM507.2,1197.0h6.5v44.1h-6.5zM513.6,1197.0h19.8v44.1h-19.8zM534.1,1197.0h2.1v44.1h-2.1zM539.0,1197.0h10.4v44.1h-10.4zM553.3,1197.0h1.6v44.1h-1.6zM556.4,1197.0h2.8v44.1h-2.8zM560.5,1197.0h3.1v44.1h-3.1zM564.8,1197.0h1.5v44.1h-1.5zM569.4,1197.0h2.6v44.1h-2.6zM573.8,1197.0h2.0v44.1h-2.0zM577.0,1197.0h3.2v44.1h-3.2zM584.4,1197.0h2.8v44.1h-2.8zM588.9,1197.0h1.9v44.1h-1.9zM593.3,1197.0h1.4v44.1h-1.4zM596.1,1197.0h1.9v44.1h-1.9zM599.9,1197.0h3.7v44.1h-3.7zM605.6,1197.0h1.2v44.1h-1.2zM609.9,1197.0h1.6v44.1h-1.6zM613.3,1197.0h1.9v44.1h-1.9zM618.1,1197.0h1.5v44.1h-1.5zM622.1,1197.0h1.8v44.1h-1.8zM626.2,1197.0h1.5v44.1h-1.5zM629.3,1197.0h2.1v44.1h-2.1zM635.7,1197.0h1.4v44.1h-1.4zM641.3,1197.0h3.1v44.1h-3.1zM648.4,1197.0h3.2v44.1h-3.2zM653.3,1197.0h1.5v44.1h-1.5zM656.1,1197.0h1.2v44.1h-1.2zM659.6,1197.0h6.6v44.1h-6.6zM668.2,1197.0h1.2v44.1h-1.2zM671.0,1197.0h3.3v44.1h-3.3zM677.6,1197.0h1.5v44.1h-1.5zM681.1,1197.0h2.0v44.1h-2.0zM685.5,1197.0h4.2v44.1h-4.2zM691.1,1197.0h1.6v44.1h-1.6zM696.3,1197.0h2.1v44.1h-2.1zM701.0,1197.0h1.4v44.1h-1.4zM704.1,1197.0h1.5v44.1h-1.5zM708.1,1197.0h1.3v44.1h-1.3zM713.2,1197.0h1.9v44.1h-1.9zM719.5,1197.0h4.5v44.1h-4.5zM728.3,1197.0h1.8v44.1h-1.8zM732.4,1197.0h2.2v44.1h-2.2zM737.0,1197.0h1.3v44.1h-1.3zM740.7,1197.0h1.9v44.1h-1.9zM746.1,1197.0h2.0v44.1h-2.0zM750.3,1197.0h0.9v44.1h-0.9zM752.7,1197.0h0.9v44.1h-0.9zM755.4,1197.0h2.2v44.1h-2.2zM760.4,1197.0h0.9v44.1h-0.9z" fill="#000"/>
<path d="M537.0,1197.0h0.8v44.1h-0.8zM551.0,1197.0h0.8v44.1h-0.8zM567.5,1197.0h0.8v44.1h-0.8zM608.2,1197.0h0.8v44.1h-0.8zM616.5,1197.0h0.8v44.1h-0.8zM620.4,1197.0h0.8v44.1h-0.8zM624.8,1197.0h0.8v44.1h-0.8zM634.6,1197.0h0.8v44.1h-0.8zM638.2,1197.0h0.8v44.1h-0.8zM645.7,1197.0h0.8v44.1h-0.8zM684.5,1197.0h0.8v44.1h-0.8zM695.2,1197.0h0.8v44.1h-0.8zM710.5,1197.0h0.8v44.1h-0.8zM717.4,1197.0h0.8v44.1h-0.8zM735.5,1197.0h0.8v44.1h-0.8zM739.5,1197.0h0.8v44.1h-0.8zM758.9,1197.0h0.8v44.1h-0.8z" fill="#000" opacity="0.45"/>
<rect x="420.4" y="1241.1" width="168.3" height="11.8" fill="#f4b6e3" />
<rect x="588.7" y="1241.1" width="175.7" height="11.8" fill="#3a0ca3" />
<path d="M420.4,1241.1h0.9v11.8h-0.9zM423.8,1241.1h0.9v11.8h-0.9zM425.5,1241.1h0.9v11.8h-0.9zM427.2,1241.1h0.9v11.8h-0.9zM430.6,1241.1h0.9v11.8h-0.9zM432.3,1241.1h0.9v11.8h-0.9zM434.0,1241.1h0.9v11.8h-0.9zM435.7,1241.1h0.9v11.8h-0.9zM437.4,1241.1h0.9v11.8h-0.9zM439.1,1241.1h0.9v11.8h-0.9zM440.8,1241.1h0.9v11.8h-0.9zM442.5,1241.1h0.9v11.8h-0.9zM444.2,1241.1h0.9v11.8h-0.9zM445.9,1241.1h0.9v11.8h-0.9zM447.6,1241.1h0.9v11.8h-0.9zM449.3,1241.1h0.9v11.8h-0.9zM451.0,1241.1h0.9v11.8h-0.9zM452.7,1241.1h0.9v11.8h-0.9zM454.4,1241.1h0.9v11.8h-0.9zM459.5,1241.1h0.9v11.8h-0.9zM461.2,1241.1h0.9v11.8h-0.9zM466.3,1241.1h0.9v11.8h-0.9zM469.7,1241.1h0.9v11.8h-0.9zM478.2,1241.1h0.9v11.8h-0.9zM479.9,1241.1h0.9v11.8h-0.9zM485.0,1241.1h0.9v11.8h-0.9zM486.7,1241.1h0.9v11.8h-0.9zM490.1,1241.1h0.9v11.8h-0.9zM493.5,1241.1h0.9v11.8h-0.9zM495.2,1241.1h0.9v11.8h-0.9zM496.9,1241.1h0.9v11.8h-0.9zM498.6,1241.1h0.9v11.8h-0.9zM500.3,1241.1h0.9v11.8h-0.9zM502.0,1241.1h0.9v11.8h-0.9zM503.7,1241.1h0.9v11.8h-0.9zM510.5,1241.1h0.9v11.8h-0.9zM512.2,1241.1h0.9v11.8h-0.9zM513.9,1241.1h0.9v11.8h-0.9zM515.6,1241.1h0.9v11.8h-0.9zM519.0,1241.1h0.9v11.8h-0.9zM520.7,1241.1h0.9v11.8h-0.9zM522.4,1241.1h0.9v11.8h-0.9zM524.1,1241.1h0.9v11.8h-0.9zM527.5,1241.1h0.9v11.8h-0.9zM529.2,1241.1h0.9v11.8h-0.9zM532.6,1241.1h0.9v11.8h-0.9zM534.3,1241.1h0.9v11.8h-0.9zM539.4,1241.1h0.9v11.8h-0.9zM541.1,1241.1h0.9v11.8h-0.9zM546.2,1241.1h0.9v11.8h-0.9zM549.6,1241.1h0.9v11.8h-0.9zM551.3,1241.1h0.9v11.8h-0.9zM553.0,1241.1h0.9v11.8h-0.9zM554.7,1241.1h0.9v11.8h-0.9zM558.1,1241.1h0.9v11.8h-0.9zM564.9,1241.1h0.9v11.8h-0.9zM570.0,1241.1h0.9v11.8h-0.9zM571.7,1241.1h0.9v11.8h-0.9zM583.6,1241.1h0.9v11.8h-0.9zM587.0,1241.1h0.9v11.8h-0.9z" fill="#5a2a55" opacity="0.22"/>
<rect x="420.4" y="1241.1" width="16.8" height="11.8" fill="#7a3a6a" opacity="0.13"/>
<polyline points="420.4,1194.0 420.7,1193.6 421.0,1192.1 421.4,1191.0 421.7,1187.4 422.0,1185.9 422.4,1184.1 422.7,1182.7 423.0,1182.6 423.4,1179.2 423.7,1178.9 424.0,1176.3 424.4,1175.0 424.9,1173.8 425.4,1173.5 425.8,1171.3 426.3,1168.0 426.8,1167.2 427.3,1165.3 427.8,1165.9 428.3,1164.2 428.8,1162.6 429.3,1161.2 429.8,1159.4 430.3,1158.4 430.7,1156.4 431.1,1153.2 431.5,1153.4 431.9,1150.7 432.2,1149.9 432.6,1147.7 433.0,1145.7 433.4,1143.9 433.7,1142.5 434.1,1140.5 434.5,1138.4 434.9,1138.9 435.2,1137.2 435.6,1136.1 436.0,1133.6 436.4,1131.6 436.7,1130.6 437.1,1127.2 438.2,1127.6 439.2,1125.7 440.3,1123.6 441.4,1122.5 442.4,1122.3 443.5,1120.2 444.2,1119.2 444.9,1118.1 445.6,1115.8 446.3,1113.4 447.0,1112.9 447.7,1110.5 448.4,1108.9 449.2,1107.1 449.9,1106.0 450.6,1103.6 451.4,1103.8 452.1,1103.2 452.9,1100.0 453.7,1099.5 454.4,1098.6 455.9,1096.9 457.4,1098.1 459.0,1101.0 459.6,1099.5 460.2,1097.4 460.8,1094.5 461.4,1093.7 462.0,1093.6 462.6,1092.1 464.4,1091.3 466.2,1088.8 468.1,1090.2 469.4,1087.4 470.8,1087.0 472.2,1083.9 473.5,1085.1 475.8,1083.5 478.1,1083.4 479.0,1080.5 479.9,1080.4 480.8,1078.9 481.7,1077.6 482.6,1075.5 483.5,1075.3 485.8,1074.5 488.1,1074.9 489.3,1073.3 490.5,1073.6 491.7,1070.7 493.1,1071.9 494.4,1072.4 495.8,1075.0 497.2,1075.6 498.5,1074.2 499.9,1071.4 501.3,1071.2 502.6,1069.5 504.9,1068.3 507.2,1067.6 508.7,1071.8 510.2,1070.4 511.7,1072.2 512.9,1071.0 514.2,1070.9 515.4,1068.3 516.6,1068.4 517.8,1067.0 519.0,1067.4 521.3,1065.4 523.6,1066.8 525.4,1065.7 527.2,1065.6 528.5,1065.2 529.8,1066.1 531.0,1067.7 532.3,1067.5 533.6,1067.7 534.5,1070.5 535.4,1073.1 536.3,1073.9 537.2,1073.8 538.1,1076.5 539.0,1078.3 540.4,1075.7 541.8,1075.7 543.1,1074.1 544.5,1072.9 546.0,1074.1 547.4,1075.0 548.9,1076.5 550.3,1076.6 551.8,1078.8 553.6,1077.7 555.4,1079.4 557.2,1078.7 559.1,1076.7 560.4,1080.1 561.7,1079.4 563.0,1081.3 564.3,1082.5 565.6,1082.9 566.9,1083.8 568.2,1085.3 569.5,1085.6 570.9,1089.0 572.2,1088.0 573.6,1091.3 575.0,1090.7 576.3,1092.2 577.6,1091.2 578.9,1088.8 580.2,1087.8 581.4,1087.3 582.7,1086.2 584.2,1088.6 585.6,1090.1 587.1,1088.3 588.5,1090.9 590.0,1090.7 591.2,1093.9 592.3,1093.7 593.5,1096.5 594.7,1096.7 595.8,1096.6 597.0,1097.4 598.2,1099.3 599.6,1100.2 601.1,1097.2 602.6,1097.3 604.0,1096.0 605.5,1095.0 607.1,1097.3 608.7,1096.5 610.4,1098.9 612.0,1099.6 613.7,1101.4 615.0,1101.2 616.4,1103.4 617.7,1103.1 619.1,1104.5 620.5,1105.7 621.8,1107.4 623.5,1108.0 625.1,1106.0 626.8,1106.4 628.4,1108.0 630.0,1109.2 631.2,1109.6 632.4,1110.2 633.5,1113.5 634.7,1112.8 635.9,1113.5 637.1,1114.7 638.2,1115.9 639.9,1118.9 641.5,1118.0 643.1,1120.7 644.8,1122.1 646.4,1123.4 647.9,1121.7 649.3,1119.5 650.8,1119.0 652.2,1118.5 653.7,1117.1 655.1,1116.5 656.6,1118.7 658.1,1117.4 659.5,1118.8 661.0,1121.6 662.2,1121.0 663.4,1121.5 664.6,1124.1 665.8,1124.2 667.0,1123.9 668.3,1125.0 670.1,1126.2 671.9,1126.8 673.7,1129.1 675.5,1127.5 677.0,1130.2 678.4,1131.1 679.9,1130.7 681.4,1133.4 682.8,1133.6 683.9,1134.0 685.1,1134.6 686.2,1136.4 687.4,1139.0 688.5,1139.2 689.6,1139.4 690.8,1141.2 691.9,1142.7 693.1,1143.0 694.3,1145.2 695.5,1144.6 696.8,1148.0 698.0,1147.2 699.2,1148.0 700.3,1150.7 701.5,1151.1 702.6,1154.1 703.7,1154.2 704.9,1155.5 706.0,1157.7 707.2,1157.1 708.3,1159.9 709.8,1159.1 711.3,1157.9 712.8,1158.9 714.4,1155.6 715.9,1157.6 717.4,1154.9 718.6,1158.2 719.8,1157.5 721.0,1158.5 722.2,1161.1 723.5,1163.7 724.7,1163.0 726.2,1164.6 727.7,1165.9 729.2,1165.7 730.7,1167.5 732.3,1166.8 733.8,1169.1 735.2,1171.1 736.7,1170.9 738.1,1171.6 739.6,1172.2 741.0,1175.3 742.9,1174.4 744.7,1175.9 746.5,1175.4 747.6,1174.9 748.7,1178.8 749.8,1180.3 750.9,1181.4 752.0,1182.9 753.3,1183.9 754.7,1185.3 756.1,1186.5 757.4,1187.7 758.5,1188.2 759.6,1189.4 760.7,1192.8 761.8,1194.0 762.9,1195.2" fill="none" stroke="#1cee1c" stroke-width="3.4" stroke-linejoin="round" stroke-linecap="round"/>
<text x="670.0" y="1160.5" font-size="29.1" text-anchor="end" font-weight="bold">NES = 6.25</text>
<text x="670.0" y="1184.3" font-size="29.1" text-anchor="end" font-weight="bold">FDR q = 0.000</text>
<line x1="90.6" y1="1373.7" x2="90.6" y2="1506.6" stroke="#ececec" stroke-width="1" />
<line x1="147.4" y1="1373.7" x2="147.4" y2="1506.6" stroke="#ececec" stroke-width="1" />
<line x1="203.8" y1="1373.7" x2="203.8" y2="1506.6" stroke="#ececec" stroke-width="1" />
<line x1="259.3" y1="1373.7" x2="259.3" y2="1506.6" stroke="#ececec" stroke-width="1" />
<line x1="316.3" y1="1373.7" x2="316.3" y2="1506.6" stroke="#ececec" stroke-width="1" />
<line x1="373.0" y1="1373.7" x2="373.0" y2="1506.6" stroke="#ececec" stroke-width="1" />
<line x1="33.6" y1="1401.0" x2="380.3" y2="1401.0" stroke="#ececec" stroke-width="1" />
<line x1="33.6" y1="1427.5" x2="380.3" y2="1427.5" stroke="#ececec" stroke-width="1" />
<line x1="33.6" y1="1454.0" x2="380.3" y2="1454.0" stroke="#ececec" stroke-width="1" />
<line x1="33.6" y1="1480.5" x2="380.3" y2="1480.5" stroke="#ececec" stroke-width="1" />
<rect x="33.6" y="1373.7" width="346.7" height="201.0" fill="none" stroke="#c4c4c4" stroke-width="1.4" />
<line x1="33.6" y1="1506.6" x2="380.3" y2="1506.6" stroke="#aaa" stroke-width="1.4" />
<line x1="33.6" y1="1515.7" x2="380.3" y2="1515.7" stroke="#d0d0d0" stroke-width="1.2" />
<line x1="33.6" y1="1563.4" x2="380.3" y2="1563.4" stroke="#d8d8d8" stroke-width="1" />
<path d="M34.6,1518.2h2.4v45.2h-2.4zM38.9,1518.2h4.2v45.2h-4.2zM45.7,1518.2h2.0v45.2h-2.0zM48.9,1518.2h4.4v45.2h-4.4zM54.4,1518.2h3.2v45.2h-3.2zM58.7,1518.2h2.3v45.2h-2.3zM62.5,1518.2h5.1v45.2h-5.1zM69.6,1518.2h1.6v45.2h-1.6zM72.5,1518.2h1.9v45.2h-1.9zM77.3,1518.2h4.7v45.2h-4.7zM84.7,1518.2h7.2v45.2h-7.2zM94.5,1518.2h2.8v45.2h-2.8zM99.7,1518.2h2.4v45.2h-2.4zM103.6,1518.2h2.3v45.2h-2.3zM107.0,1518.2h4.8v45.2h-4.8zM114.3,1518.2h3.7v45.2h-3.7zM119.9,1518.2h4.1v45.2h-4.1zM125.1,1518.2h3.6v45.2h-3.6zM130.3,1518.2h1.9v45.2h-1.9zM133.5,1518.2h2.9v45.2h-2.9zM137.7,1518.2h2.7v45.2h-2.7zM142.3,1518.2h2.5v45.2h-2.5zM145.9,1518.2h2.8v45.2h-2.8zM149.9,1518.2h2.0v45.2h-2.0zM153.1,1518.2h2.4v45.2h-2.4zM156.6,1518.2h3.5v45.2h-3.5zM163.9,1518.2h6.5v45.2h-6.5zM171.4,1518.2h1.8v45.2h-1.8zM175.9,1518.2h3.4v45.2h-3.4zM180.4,1518.2h2.5v45.2h-2.5zM186.0,1518.2h4.5v45.2h-4.5zM191.7,1518.2h5.0v45.2h-5.0zM196.7,1518.2h7.5v45.2h-7.5zM205.0,1518.2h2.8v45.2h-2.8zM209.1,1518.2h5.8v45.2h-5.8zM217.2,1518.2h1.4v45.2h-1.4zM221.0,1518.2h1.7v45.2h-1.7zM225.4,1518.2h1.3v45.2h-1.3zM229.3,1518.2h1.2v45.2h-1.2zM232.9,1518.2h1.1v45.2h-1.1zM235.9,1518.2h1.6v45.2h-1.6zM238.9,1518.2h1.1v45.2h-1.1zM244.4,1518.2h1.5v45.2h-1.5zM248.2,1518.2h1.7v45.2h-1.7zM253.2,1518.2h2.0v45.2h-2.0zM259.6,1518.2h2.5v45.2h-2.5zM263.8,1518.2h1.1v45.2h-1.1zM266.9,1518.2h4.3v45.2h-4.3zM274.0,1518.2h3.6v45.2h-3.6zM279.1,1518.2h2.3v45.2h-2.3zM283.1,1518.2h1.5v45.2h-1.5zM286.2,1518.2h1.4v45.2h-1.4zM289.3,1518.2h1.1v45.2h-1.1zM292.2,1518.2h1.2v45.2h-1.2zM296.3,1518.2h3.0v45.2h-3.0zM300.8,1518.2h1.9v45.2h-1.9zM304.9,1518.2h1.6v45.2h-1.6zM308.2,1518.2h1.8v45.2h-1.8zM311.4,1518.2h3.7v45.2h-3.7zM316.4,1518.2h3.4v45.2h-3.4zM321.3,1518.2h1.6v45.2h-1.6zM324.7,1518.2h1.1v45.2h-1.1zM327.1,1518.2h1.7v45.2h-1.7zM330.7,1518.2h3.8v45.2h-3.8zM339.0,1518.2h1.3v45.2h-1.3zM343.4,1518.2h2.1v45.2h-2.1zM346.9,1518.2h1.1v45.2h-1.1zM349.5,1518.2h3.8v45.2h-3.8zM354.6,1518.2h1.9v45.2h-1.9zM358.3,1518.2h1.6v45.2h-1.6z" fill="#000"/>
<path d="M44.0,1518.2h0.8v45.2h-0.8zM93.3,1518.2h0.8v45.2h-0.8zM98.2,1518.2h0.8v45.2h-0.8zM162.2,1518.2h0.8v45.2h-0.8zM219.7,1518.2h0.8v45.2h-0.8zM223.6,1518.2h0.8v45.2h-0.8zM227.5,1518.2h0.8v45.2h-0.8zM231.5,1518.2h0.8v45.2h-0.8zM241.4,1518.2h0.8v45.2h-0.8zM246.8,1518.2h0.8v45.2h-0.8zM251.0,1518.2h0.8v45.2h-0.8zM257.1,1518.2h0.8v45.2h-0.8zM272.6,1518.2h0.8v45.2h-0.8zM294.0,1518.2h0.8v45.2h-0.8zM336.7,1518.2h0.8v45.2h-0.8zM342.2,1518.2h0.8v45.2h-0.8zM361.7,1518.2h0.8v45.2h-0.8z" fill="#000" opacity="0.45"/>
<rect x="34.6" y="1563.4" width="169.6" height="10.9" fill="#f4b6e3" />
<rect x="204.2" y="1563.4" width="159.8" height="10.9" fill="#3a0ca3" />
<path d="M36.3,1563.4h0.9v10.9h-0.9zM41.4,1563.4h0.9v10.9h-0.9zM43.1,1563.4h0.9v10.9h-0.9zM48.2,1563.4h0.9v10.9h-0.9zM49.9,1563.4h0.9v10.9h-0.9zM51.6,1563.4h0.9v10.9h-0.9zM55.0,1563.4h0.9v10.9h-0.9zM56.7,1563.4h0.9v10.9h-0.9zM60.1,1563.4h0.9v10.9h-0.9zM61.8,1563.4h0.9v10.9h-0.9zM63.5,1563.4h0.9v10.9h-0.9zM66.9,1563.4h0.9v10.9h-0.9zM68.6,1563.4h0.9v10.9h-0.9zM73.7,1563.4h0.9v10.9h-0.9zM75.4,1563.4h0.9v10.9h-0.9zM77.1,1563.4h0.9v10.9h-0.9zM78.8,1563.4h0.9v10.9h-0.9zM80.5,1563.4h0.9v10.9h-0.9zM82.2,1563.4h0.9v10.9h-0.9zM85.6,1563.4h0.9v10.9h-0.9zM89.0,1563.4h0.9v10.9h-0.9zM90.7,1563.4h0.9v10.9h-0.9zM92.4,1563.4h0.9v10.9h-0.9zM97.5,1563.4h0.9v10.9h-0.9zM99.2,1563.4h0.9v10.9h-0.9zM100.9,1563.4h0.9v10.9h-0.9zM104.3,1563.4h0.9v10.9h-0.9zM106.0,1563.4h0.9v10.9h-0.9zM111.1,1563.4h0.9v10.9h-0.9zM112.8,1563.4h0.9v10.9h-0.9zM117.9,1563.4h0.9v10.9h-0.9zM119.6,1563.4h0.9v10.9h-0.9zM129.8,1563.4h0.9v10.9h-0.9zM131.5,1563.4h0.9v10.9h-0.9zM136.6,1563.4h0.9v10.9h-0.9zM141.7,1563.4h0.9v10.9h-0.9zM145.1,1563.4h0.9v10.9h-0.9zM148.5,1563.4h0.9v10.9h-0.9zM157.0,1563.4h0.9v10.9h-0.9zM160.4,1563.4h0.9v10.9h-0.9zM163.8,1563.4h0.9v10.9h-0.9zM165.5,1563.4h0.9v10.9h-0.9zM168.9,1563.4h0.9v10.9h-0.9zM170.6,1563.4h0.9v10.9h-0.9zM172.3,1563.4h0.9v10.9h-0.9zM175.7,1563.4h0.9v10.9h-0.9zM177.4,1563.4h0.9v10.9h-0.9zM179.1,1563.4h0.9v10.9h-0.9zM180.8,1563.4h0.9v10.9h-0.9zM184.2,1563.4h0.9v10.9h-0.9zM185.9,1563.4h0.9v10.9h-0.9zM191.0,1563.4h0.9v10.9h-0.9zM192.7,1563.4h0.9v10.9h-0.9zM194.4,1563.4h0.9v10.9h-0.9zM196.1,1563.4h0.9v10.9h-0.9zM199.5,1563.4h0.9v10.9h-0.9zM201.2,1563.4h0.9v10.9h-0.9zM202.9,1563.4h0.9v10.9h-0.9z" fill="#5a2a55" opacity="0.22"/>
<rect x="34.6" y="1563.4" width="17.0" height="10.9" fill="#7a3a6a" opacity="0.13"/>
<polyline points="34.2,1508.5 34.5,1508.6 34.8,1506.7 35.1,1505.8 35.4,1502.1 35.7,1500.3 36.1,1500.0 36.4,1498.1 36.7,1495.3 37.0,1494.7 37.3,1492.1 37.9,1491.7 38.6,1488.1 39.2,1486.9 39.9,1487.4 40.5,1484.2 41.2,1482.3 41.8,1482.4 42.4,1480.3 43.1,1477.2 43.7,1476.8 44.3,1475.5 44.9,1472.4 45.5,1472.2 46.1,1469.0 46.7,1468.0 47.3,1465.7 47.8,1464.5 48.2,1465.2 48.7,1461.9 49.1,1462.1 49.6,1458.9 50.0,1457.9 50.5,1457.1 50.9,1455.0 51.4,1451.7 51.8,1451.6 52.3,1450.2 52.8,1447.2 53.2,1445.4 53.7,1446.2 54.0,1443.5 54.4,1440.8 54.8,1439.9 55.2,1437.6 55.6,1437.6 55.9,1435.1 56.3,1432.2 56.7,1432.7 57.1,1428.8 57.5,1427.7 57.8,1425.3 58.2,1425.8 58.7,1422.2 59.1,1421.7 59.6,1418.7 60.0,1418.1 60.4,1417.0 60.9,1414.8 61.3,1412.9 61.8,1411.3 62.2,1409.4 63.3,1411.5 64.3,1411.6 65.4,1414.3 66.4,1415.2 66.6,1415.4 66.9,1413.9 67.1,1409.7 67.3,1408.2 67.5,1408.2 67.8,1406.2 68.0,1402.8 68.2,1403.2 68.5,1402.3 68.7,1399.0 68.9,1397.1 69.1,1396.1 69.4,1395.6 69.7,1391.9 70.0,1390.4 70.4,1388.4 70.7,1388.0 71.0,1385.9 71.3,1383.6 71.6,1382.3 71.9,1379.6 72.8,1381.8 73.7,1385.2 74.6,1385.3 75.5,1385.8 76.4,1389.1 78.0,1388.5 79.6,1389.3 81.2,1389.8 82.8,1391.2 84.6,1391.4 86.4,1391.5 87.0,1391.9 87.6,1388.6 88.2,1387.0 88.9,1386.5 89.5,1386.0 90.1,1382.6 92.3,1383.5 94.6,1381.9 95.7,1383.7 96.8,1385.1 97.9,1387.4 99.0,1388.2 100.1,1388.7 101.2,1391.0 102.4,1391.0 103.5,1392.4 104.6,1395.5 106.1,1393.7 107.7,1393.7 109.2,1391.7 110.1,1395.1 111.0,1395.7 111.9,1396.1 112.8,1399.7 113.7,1399.8 114.6,1400.9 116.2,1399.8 117.7,1398.4 119.2,1397.8 120.3,1400.7 121.4,1400.5 122.5,1402.3 123.6,1404.3 124.6,1406.1 126.0,1407.0 127.4,1409.5 128.7,1409.3 130.1,1411.0 130.7,1409.6 131.2,1407.2 131.7,1405.9 132.3,1404.2 132.8,1404.3 133.4,1401.1 133.9,1401.1 134.5,1398.2 135.0,1397.9 135.6,1396.4 136.9,1396.4 138.3,1399.1 139.7,1399.1 141.0,1399.8 142.2,1399.4 143.3,1401.6 144.4,1402.3 145.6,1404.0 147.4,1406.3 149.2,1407.0 149.9,1406.1 150.6,1409.4 151.3,1411.7 151.9,1412.0 152.6,1412.1 153.3,1415.9 154.0,1416.1 154.7,1419.2 156.5,1419.5 158.3,1420.0 160.1,1420.9 161.2,1419.8 162.3,1423.4 163.4,1423.4 164.5,1424.3 165.6,1426.5 166.7,1428.3 167.9,1427.7 169.0,1430.1 170.1,1432.3 172.0,1430.5 173.8,1429.7 174.6,1430.5 175.4,1434.0 176.2,1433.3 177.0,1436.1 177.8,1437.4 178.6,1437.0 179.4,1441.4 180.2,1440.6 181.2,1444.4 182.3,1445.8 183.3,1447.2 184.4,1448.6 185.5,1448.7 186.5,1450.4 187.9,1451.4 189.3,1454.6 190.6,1453.2 192.0,1454.9 192.5,1458.9 193.0,1460.0 193.5,1461.3 194.1,1463.6 194.6,1463.9 195.1,1466.4 195.6,1466.7 196.2,1466.6 196.8,1462.6 197.4,1462.2 198.0,1461.2 198.5,1460.3 199.1,1457.7 199.7,1457.0 200.3,1456.4 200.9,1453.2 201.5,1451.1 202.1,1449.1 202.6,1450.1 203.2,1447.4 203.8,1445.7 205.2,1447.4 206.5,1447.6 207.9,1449.2 209.3,1450.7 211.4,1450.7 213.5,1452.5 215.6,1450.7 216.6,1451.6 217.5,1455.4 218.4,1455.9 219.3,1455.8 220.2,1459.1 221.1,1460.6 222.0,1461.9 223.8,1462.9 225.7,1462.4 227.5,1462.5 228.4,1465.5 229.3,1466.7 230.2,1468.4 231.1,1468.4 232.0,1470.5 232.9,1472.9 234.1,1473.6 235.2,1475.9 236.3,1477.1 237.5,1479.5 238.6,1477.2 239.8,1476.5 240.9,1476.3 242.0,1473.6 243.9,1472.6 245.7,1473.4 247.5,1471.3 248.4,1475.0 249.3,1474.8 250.2,1478.3 251.1,1478.7 252.0,1479.1 253.0,1481.8 253.9,1483.8 255.2,1484.6 256.6,1486.4 257.1,1483.9 257.6,1484.0 258.2,1480.0 258.7,1480.2 259.2,1476.1 259.7,1475.9 260.2,1472.9 261.1,1474.6 262.1,1477.5 263.0,1480.0 263.9,1479.7 264.8,1481.5 265.7,1483.2 266.6,1485.2 267.5,1486.1 268.4,1487.8 269.3,1490.9 270.2,1491.7 271.8,1490.6 273.4,1491.5 275.0,1491.6 276.6,1489.5 277.7,1487.1 278.9,1486.8 280.0,1487.4 281.2,1484.1 281.8,1485.8 282.5,1489.1 283.1,1488.6 283.8,1492.4 284.4,1492.1 285.1,1494.1 285.7,1496.3 286.6,1496.5 287.5,1500.0 288.4,1500.6 289.4,1503.2 290.1,1501.7 290.8,1498.2 291.5,1499.0 292.3,1497.5 293.0,1494.4 293.7,1497.1 294.5,1497.6 295.3,1500.2 296.0,1502.6 296.8,1503.1 297.5,1505.2 298.8,1502.9 300.1,1504.0 301.4,1502.2 302.6,1501.8 303.9,1498.4 305.7,1500.2 307.5,1498.0 309.4,1499.2 311.2,1498.0 313.0,1500.4 314.8,1498.5 316.6,1500.0 318.5,1500.5 320.3,1499.6 322.1,1497.9 323.9,1499.0 325.7,1499.3 327.2,1496.3 328.7,1496.9 330.1,1494.1 331.6,1492.8 333.0,1492.3 334.8,1493.2 336.7,1492.0 338.5,1491.0 339.6,1487.6 340.8,1487.2 341.9,1484.3 343.0,1482.9 343.6,1485.5 344.3,1486.8 344.9,1488.0 345.5,1490.9 346.1,1493.4 346.7,1495.5 347.4,1497.0 348.2,1497.0 349.0,1497.8 349.7,1501.7 350.5,1501.6 351.2,1502.8 352.1,1502.8 353.0,1500.6 354.0,1500.3 354.9,1498.1 355.8,1497.4 356.4,1496.6 357.1,1500.5 357.7,1500.8 358.4,1502.9 359.0,1503.2 359.7,1504.6 360.3,1506.3 361.7,1505.1 363.1,1505.1" fill="none" stroke="#1cee1c" stroke-width="3.4" stroke-linejoin="round" stroke-linecap="round"/>
<text x="41.7" y="1477.8" font-size="29.1" font-weight="bold">NES = 2.56</text>
<text x="41.7" y="1501.5" font-size="29.1" font-weight="bold">FDR q = 0.000</text>
<line x1="489.0" y1="1373.7" x2="489.0" y2="1509.3" stroke="#ececec" stroke-width="1" />
<line x1="553.0" y1="1373.7" x2="553.0" y2="1509.3" stroke="#ececec" stroke-width="1" />
<line x1="617.0" y1="1373.7" x2="617.0" y2="1509.3" stroke="#ececec" stroke-width="1" />
<line x1="681.0" y1="1373.7" x2="681.0" y2="1509.3" stroke="#ececec" stroke-width="1" />
<line x1="745.0" y1="1373.7" x2="745.0" y2="1509.3" stroke="#ececec" stroke-width="1" />
<line x1="425.7" y1="1382.0" x2="771.6" y2="1382.0" stroke="#ececec" stroke-width="1" />
<line x1="425.7" y1="1407.5" x2="771.6" y2="1407.5" stroke="#ececec" stroke-width="1" />
<line x1="425.7" y1="1433.0" x2="771.6" y2="1433.0" stroke="#ececec" stroke-width="1" />
<line x1="425.7" y1="1458.5" x2="771.6" y2="1458.5" stroke="#ececec" stroke-width="1" />
<line x1="425.7" y1="1484.0" x2="771.6" y2="1484.0" stroke="#ececec" stroke-width="1" />
<rect x="425.7" y="1373.7" width="345.9" height="202.0" fill="none" stroke="#c4c4c4" stroke-width="1.4" />
<line x1="425.7" y1="1509.3" x2="771.6" y2="1509.3" stroke="#aaa" stroke-width="1.4" />
<line x1="425.7" y1="1516.0" x2="771.6" y2="1516.0" stroke="#d0d0d0" stroke-width="1.2" />
<line x1="425.7" y1="1563.0" x2="771.6" y2="1563.0" stroke="#d8d8d8" stroke-width="1" />
<path d="M425.7,1518.2h6.6v44.8h-6.6zM433.0,1518.2h5.9v44.8h-5.9zM439.9,1518.2h10.6v44.8h-10.6zM450.6,1518.2h7.9v44.8h-7.9zM459.3,1518.2h3.3v44.8h-3.3zM463.7,1518.2h5.5v44.8h-5.5zM470.0,1518.2h5.8v44.8h-5.8zM476.6,1518.2h6.8v44.8h-6.8zM484.2,1518.2h3.1v44.8h-3.1zM489.7,1518.2h4.9v44.8h-4.9zM495.7,1518.2h3.3v44.8h-3.3zM500.2,1518.2h2.9v44.8h-2.9zM505.2,1518.2h1.8v44.8h-1.8zM509.2,1518.2h1.7v44.8h-1.7zM512.3,1518.2h1.6v44.8h-1.6zM515.2,1518.2h8.1v44.8h-8.1zM524.9,1518.2h4.2v44.8h-4.2zM530.2,1518.2h2.4v44.8h-2.4zM534.7,1518.2h4.9v44.8h-4.9zM541.9,1518.2h3.0v44.8h-3.0zM546.2,1518.2h1.5v44.8h-1.5zM551.1,1518.2h2.3v44.8h-2.3zM554.8,1518.2h3.9v44.8h-3.9zM560.6,1518.2h1.5v44.8h-1.5zM565.0,1518.2h1.4v44.8h-1.4zM569.0,1518.2h1.5v44.8h-1.5zM572.3,1518.2h3.1v44.8h-3.1zM577.4,1518.2h2.2v44.8h-2.2zM581.5,1518.2h2.2v44.8h-2.2zM585.8,1518.2h1.4v44.8h-1.4zM589.0,1518.2h1.7v44.8h-1.7zM594.2,1518.2h0.9v44.8h-0.9zM596.6,1518.2h1.6v44.8h-1.6zM600.6,1518.2h2.9v44.8h-2.9zM605.5,1518.2h1.0v44.8h-1.0zM608.9,1518.2h0.9v44.8h-0.9zM611.5,1518.2h0.9v44.8h-0.9zM615.0,1518.2h1.0v44.8h-1.0zM617.4,1518.2h0.9v44.8h-0.9zM623.0,1518.2h2.8v44.8h-2.8zM627.7,1518.2h0.9v44.8h-0.9zM629.9,1518.2h0.9v44.8h-0.9zM632.4,1518.2h0.9v44.8h-0.9zM637.3,1518.2h1.3v44.8h-1.3zM643.2,1518.2h1.0v44.8h-1.0zM646.6,1518.2h1.7v44.8h-1.7zM650.6,1518.2h1.0v44.8h-1.0zM653.5,1518.2h3.1v44.8h-3.1zM659.0,1518.2h0.9v44.8h-0.9zM664.4,1518.2h0.9v44.8h-0.9zM670.0,1518.2h0.9v44.8h-0.9zM681.5,1518.2h0.9v44.8h-0.9zM684.1,1518.2h0.9v44.8h-0.9zM701.9,1518.2h1.9v44.8h-1.9zM705.4,1518.2h2.4v44.8h-2.4zM709.0,1518.2h1.9v44.8h-1.9zM712.1,1518.2h3.7v44.8h-3.7zM716.9,1518.2h3.3v44.8h-3.3zM721.6,1518.2h2.9v44.8h-2.9zM727.2,1518.2h1.5v44.8h-1.5zM731.0,1518.2h0.9v44.8h-0.9zM734.0,1518.2h2.7v44.8h-2.7zM740.7,1518.2h2.7v44.8h-2.7zM745.7,1518.2h1.1v44.8h-1.1zM751.5,1518.2h2.0v44.8h-2.0z" fill="#000"/>
<path d="M488.1,1518.2h0.8v44.8h-0.8zM540.6,1518.2h0.8v44.8h-0.8zM548.7,1518.2h0.8v44.8h-0.8zM563.1,1518.2h0.8v44.8h-0.8zM567.5,1518.2h0.8v44.8h-0.8zM599.4,1518.2h0.8v44.8h-0.8zM613.3,1518.2h0.8v44.8h-0.8zM619.8,1518.2h0.8v44.8h-0.8zM634.5,1518.2h0.8v44.8h-0.8zM641.5,1518.2h0.8v44.8h-0.8zM645.6,1518.2h0.8v44.8h-0.8zM667.0,1518.2h0.8v44.8h-0.8zM677.7,1518.2h0.8v44.8h-0.8zM697.6,1518.2h0.8v44.8h-0.8zM726.1,1518.2h0.8v44.8h-0.8zM729.5,1518.2h0.8v44.8h-0.8zM738.9,1518.2h0.8v44.8h-0.8zM744.6,1518.2h0.8v44.8h-0.8zM756.6,1518.2h0.8v44.8h-0.8z" fill="#000" opacity="0.45"/>
<rect x="425.7" y="1563.0" width="161.6" height="11.7" fill="#f4b6e3" />
<rect x="587.3" y="1563.0" width="168.0" height="11.7" fill="#3a0ca3" />
<path d="M425.7,1563.0h0.9v11.7h-0.9zM427.4,1563.0h0.9v11.7h-0.9zM429.1,1563.0h0.9v11.7h-0.9zM430.8,1563.0h0.9v11.7h-0.9zM432.5,1563.0h0.9v11.7h-0.9zM437.6,1563.0h0.9v11.7h-0.9zM439.3,1563.0h0.9v11.7h-0.9zM441.0,1563.0h0.9v11.7h-0.9zM442.7,1563.0h0.9v11.7h-0.9zM444.4,1563.0h0.9v11.7h-0.9zM446.1,1563.0h0.9v11.7h-0.9zM447.8,1563.0h0.9v11.7h-0.9zM451.2,1563.0h0.9v11.7h-0.9zM452.9,1563.0h0.9v11.7h-0.9zM454.6,1563.0h0.9v11.7h-0.9zM461.4,1563.0h0.9v11.7h-0.9zM463.1,1563.0h0.9v11.7h-0.9zM464.8,1563.0h0.9v11.7h-0.9zM466.5,1563.0h0.9v11.7h-0.9zM468.2,1563.0h0.9v11.7h-0.9zM471.6,1563.0h0.9v11.7h-0.9zM473.3,1563.0h0.9v11.7h-0.9zM476.7,1563.0h0.9v11.7h-0.9zM480.1,1563.0h0.9v11.7h-0.9zM481.8,1563.0h0.9v11.7h-0.9zM483.5,1563.0h0.9v11.7h-0.9zM485.2,1563.0h0.9v11.7h-0.9zM486.9,1563.0h0.9v11.7h-0.9zM488.6,1563.0h0.9v11.7h-0.9zM492.0,1563.0h0.9v11.7h-0.9zM495.4,1563.0h0.9v11.7h-0.9zM507.3,1563.0h0.9v11.7h-0.9zM509.0,1563.0h0.9v11.7h-0.9zM512.4,1563.0h0.9v11.7h-0.9zM517.5,1563.0h0.9v11.7h-0.9zM519.2,1563.0h0.9v11.7h-0.9zM520.9,1563.0h0.9v11.7h-0.9zM522.6,1563.0h0.9v11.7h-0.9zM526.0,1563.0h0.9v11.7h-0.9zM527.7,1563.0h0.9v11.7h-0.9zM529.4,1563.0h0.9v11.7h-0.9zM541.3,1563.0h0.9v11.7h-0.9zM548.1,1563.0h0.9v11.7h-0.9zM549.8,1563.0h0.9v11.7h-0.9zM551.5,1563.0h0.9v11.7h-0.9zM554.9,1563.0h0.9v11.7h-0.9zM558.3,1563.0h0.9v11.7h-0.9zM560.0,1563.0h0.9v11.7h-0.9zM561.7,1563.0h0.9v11.7h-0.9zM566.8,1563.0h0.9v11.7h-0.9z" fill="#5a2a55" opacity="0.22"/>
<rect x="425.7" y="1563.0" width="16.2" height="11.7" fill="#7a3a6a" opacity="0.13"/>
<polyline points="425.7,1510.2 426.1,1505.7 426.5,1506.3 426.9,1503.0 427.3,1503.9 427.7,1499.4 428.1,1500.4 428.5,1498.2 428.9,1497.1 429.4,1496.0 429.8,1492.1 430.2,1490.8 430.6,1490.4 431.1,1487.5 431.5,1485.9 431.9,1484.2 432.3,1484.5 432.8,1483.0 433.2,1481.2 433.6,1477.9 434.0,1478.4 434.4,1475.6 434.9,1473.1 435.3,1472.2 436.0,1470.5 436.7,1467.9 437.3,1467.8 438.0,1465.6 438.7,1464.6 439.4,1464.1 440.1,1461.7 440.8,1459.4 441.3,1459.2 441.8,1458.0 442.3,1454.9 442.8,1454.7 443.4,1450.4 443.9,1449.2 444.4,1447.7 445.5,1448.7 446.7,1446.6 447.8,1445.3 448.9,1442.6 449.5,1441.6 450.0,1441.2 450.5,1437.2 451.0,1435.6 451.5,1433.8 452.0,1433.5 452.5,1433.0 453.0,1430.5 453.5,1428.4 454.0,1427.1 454.5,1424.5 455.0,1425.2 455.5,1421.8 456.0,1419.8 456.5,1418.4 457.0,1418.3 457.5,1415.2 458.0,1415.4 459.6,1412.4 461.1,1411.5 462.6,1409.2 463.4,1410.2 464.1,1408.4 464.9,1405.9 465.6,1403.3 466.4,1402.9 467.1,1401.0 468.7,1401.2 470.2,1400.3 471.7,1398.5 473.5,1398.0 475.3,1398.2 477.2,1401.7 478.2,1400.5 479.3,1396.7 480.3,1396.4 481.4,1395.0 482.5,1395.1 483.5,1390.9 484.6,1392.2 485.7,1395.8 486.7,1396.1 487.8,1397.0 488.8,1399.2 489.9,1399.9 491.0,1398.7 492.1,1395.9 493.2,1394.0 494.3,1392.3 495.4,1391.8 497.2,1393.7 499.0,1393.8 500.8,1394.6 502.4,1394.2 504.0,1393.4 505.6,1391.9 507.2,1389.9 508.8,1391.7 510.4,1391.8 512.0,1392.3 513.6,1392.6 514.3,1388.5 515.0,1389.0 515.7,1386.6 516.5,1385.2 517.2,1384.2 518.8,1383.5 520.4,1384.3 522.0,1386.9 523.6,1385.4 524.9,1385.8 526.3,1383.8 527.7,1381.3 529.0,1379.9 530.6,1381.7 532.2,1382.9 533.8,1382.7 535.4,1382.8 536.5,1384.3 537.7,1387.5 538.8,1388.2 539.9,1387.5 541.1,1388.3 542.2,1386.2 543.4,1384.1 544.5,1384.4 546.8,1382.1 549.0,1382.0 550.2,1383.9 551.3,1386.2 552.5,1386.8 553.6,1387.7 554.7,1387.5 555.8,1384.5 556.9,1384.2 558.0,1380.4 559.1,1381.3 560.9,1379.9 562.7,1381.8 563.6,1383.8 564.5,1384.6 565.4,1385.7 566.3,1387.0 568.2,1388.5 570.0,1388.3 571.8,1388.8 573.4,1389.2 575.1,1388.5 576.7,1386.8 578.3,1387.5 580.0,1386.7 581.1,1387.1 582.2,1390.0 583.3,1391.5 584.4,1391.5 585.4,1394.3 586.7,1395.9 588.0,1396.2 589.3,1396.8 590.5,1397.6 591.8,1398.5 593.0,1400.0 594.2,1403.2 595.5,1401.4 596.7,1405.1 597.9,1405.5 599.1,1406.8 600.6,1403.8 602.1,1404.6 603.6,1402.3 604.8,1405.3 605.9,1407.3 607.1,1408.7 608.2,1409.7 609.6,1409.8 610.9,1407.0 612.3,1405.8 613.7,1407.0 615.1,1405.5 616.6,1407.5 618.0,1408.4 619.5,1410.7 620.9,1410.1 622.4,1411.8 623.8,1412.7 625.3,1413.7 626.8,1414.8 628.2,1415.9 629.7,1417.2 631.1,1417.6 632.6,1418.5 634.0,1420.9 635.5,1421.9 637.3,1419.4 639.1,1421.2 641.0,1418.2 642.4,1420.0 643.9,1422.6 645.3,1421.3 646.8,1423.7 648.2,1425.6 649.3,1425.9 650.4,1426.9 651.5,1427.1 652.6,1429.8 653.7,1431.3 655.1,1433.2 656.6,1432.9 658.1,1435.1 659.5,1434.8 661.0,1436.4 662.3,1437.7 663.7,1436.8 665.1,1440.1 666.4,1439.5 667.9,1438.3 669.5,1438.6 671.0,1436.2 672.3,1437.1 673.5,1437.3 674.8,1438.4 676.1,1441.1 677.4,1441.5 678.4,1443.4 679.5,1444.9 680.6,1446.4 681.7,1446.7 682.8,1449.8 683.9,1450.0 685.0,1450.7 686.1,1454.2 687.2,1455.7 688.3,1454.9 689.2,1458.5 690.1,1459.3 691.0,1459.4 691.9,1461.7 692.8,1464.1 693.7,1463.1 696.5,1464.7 697.6,1464.9 698.6,1466.0 699.7,1469.9 700.8,1471.5 701.9,1471.9 703.5,1471.9 705.1,1470.2 706.7,1469.9 708.3,1470.0 710.1,1470.9 711.9,1470.9 713.7,1470.5 715.1,1471.8 716.5,1472.1 717.8,1474.2 719.2,1475.3 721.0,1474.1 722.8,1471.8 723.9,1473.5 725.0,1476.7 726.1,1476.4 727.2,1478.7 728.3,1478.4 729.4,1480.0 730.5,1481.7 731.6,1484.5 732.7,1484.7 733.8,1487.4 734.9,1486.8 736.0,1489.8 737.2,1491.0 738.3,1490.8 739.8,1491.6 741.4,1492.6 742.9,1494.2 744.0,1494.7 745.1,1496.3 746.1,1499.5 747.2,1501.3 748.3,1500.5 749.4,1503.0 750.5,1504.9 751.6,1507.2 752.7,1507.5 753.8,1508.8" fill="none" stroke="#1cee1c" stroke-width="3.4" stroke-linejoin="round" stroke-linecap="round"/>
<text x="451.6" y="1479.3" font-size="29.1" font-weight="bold">NES = 5.46</text>
<text x="451.6" y="1502.8" font-size="29.1" font-weight="bold">FDR q = 0.000</text>
<text x="8.4" y="1602.8" font-size="29.1">Abema</text>
<text x="385.4" y="1602.8" font-size="29.1" text-anchor="end">DMSO</text>
<text x="410.8" y="1607.5" font-size="29.1">Abema</text>
<text x="775.6" y="1607.5" font-size="29.1" text-anchor="end">DMSO</text>
<text x="806.0" y="904.2" font-size="41" font-weight="bold">e</text>
<text x="1101.0" y="897.4" font-size="29.1" text-anchor="middle">MCF7</text>
<line x1="916.3" y1="907.0" x2="1280.6" y2="907.0" stroke="#000" stroke-width="3.6" />
<text x="1513.4" y="897.4" font-size="29.1" text-anchor="middle">MDA-MB-453</text>
<line x1="1335.8" y1="907.0" x2="1699.7" y2="907.0" stroke="#000" stroke-width="3.6" />
<text x="1102.0" y="936.8" font-size="29.1" text-anchor="middle">CHARAFE_BREAST_</text>
<text x="1102.0" y="965.6" font-size="29.1" text-anchor="middle">CANCER_LUMINAL_</text>
<text x="1102.0" y="995.4" font-size="29.1" text-anchor="middle">VS_MESENCHYMAL_UP</text>
<text x="1512.5" y="936.8" font-size="29.1" text-anchor="middle">CHARAFE_BREAST_</text>
<text x="1512.5" y="965.6" font-size="29.1" text-anchor="middle">CANCER_LUMINAL_</text>
<text x="1512.5" y="995.4" font-size="29.1" text-anchor="middle">VS_MESENCHYMAL_UP</text>
<text x="1110.7" y="1295.9" font-size="29.1" text-anchor="middle">CHARAFE_BREAST_</text>
<text x="1110.7" y="1325.7" font-size="29.1" text-anchor="middle">CANCER_LUMINAL_</text>
<text x="1110.7" y="1355.4" font-size="29.1" text-anchor="middle">VS_BASAL_UP</text>
<text x="1529.3" y="1295.9" font-size="29.1" text-anchor="middle">CHARAFE_BREAST_</text>
<text x="1529.3" y="1325.7" font-size="29.1" text-anchor="middle">CANCER_LUMINAL_</text>
<text x="1529.3" y="1355.4" font-size="29.1" text-anchor="middle">VS_BASAL_UP</text>
<text x="843.0" y="1130.0" font-size="27.6" text-anchor="middle" transform="rotate(-90 843.0 1130.0)">Log2 fold change of</text>
<text x="875.0" y="1132.4" font-size="27.5" text-anchor="middle" transform="rotate(-90 875.0 1132.4)">gene expression</text>
<text x="843.0" y="1474.0" font-size="27.8" text-anchor="middle" transform="rotate(-90 843.0 1474.0)">Log2 fold change of</text>
<text x="875.0" y="1473.0" font-size="28.3" text-anchor="middle" transform="rotate(-90 875.0 1473.0)">gene expression</text>
<line x1="925.7" y1="1005.6" x2="925.7" y2="1259.0" stroke="#000" stroke-width="6.4" />
<line x1="914.8" y1="1024.0" x2="925.7" y2="1024.0" stroke="#000" stroke-width="5.7" />
<text x="907.7" y="1032.9" font-size="24.6" text-anchor="end">10</text>
<line x1="914.8" y1="1063.6" x2="925.7" y2="1063.6" stroke="#000" stroke-width="5.7" />
<text x="907.7" y="1072.5" font-size="24.6" text-anchor="end">8</text>
<line x1="914.8" y1="1102.2" x2="925.7" y2="1102.2" stroke="#000" stroke-width="5.7" />
<text x="907.7" y="1111.1" font-size="24.6" text-anchor="end">6</text>
<line x1="914.8" y1="1140.6" x2="925.7" y2="1140.6" stroke="#000" stroke-width="5.7" />
<text x="907.7" y="1149.5" font-size="24.6" text-anchor="end">4</text>
<line x1="914.8" y1="1179.0" x2="925.7" y2="1179.0" stroke="#000" stroke-width="5.7" />
<text x="907.7" y="1187.9" font-size="24.6" text-anchor="end">2</text>
<line x1="914.8" y1="1218.3" x2="925.7" y2="1218.3" stroke="#000" stroke-width="5.7" />
<text x="907.7" y="1227.2" font-size="24.6" text-anchor="end">0</text>
<line x1="914.8" y1="1256.7" x2="925.7" y2="1256.7" stroke="#000" stroke-width="5.7" />
<text x="907.7" y="1265.6" font-size="24.6" text-anchor="end">-2</text>
<line x1="925.4" y1="1218.3" x2="1276.3" y2="1218.3" stroke="#000" stroke-width="5.4" stroke-dasharray="12 12.06" stroke-linecap="round"/>
<line x1="1348.8" y1="1011.6" x2="1348.8" y2="1262.0" stroke="#000" stroke-width="6.4" />
<line x1="1337.2" y1="1018.0" x2="1348.8" y2="1018.0" stroke="#000" stroke-width="5.7" />
<text x="1330.2" y="1026.9" font-size="24.6" text-anchor="end">4</text>
<line x1="1337.2" y1="1088.0" x2="1348.8" y2="1088.0" stroke="#000" stroke-width="5.7" />
<text x="1330.2" y="1096.9" font-size="24.6" text-anchor="end">2</text>
<line x1="1337.2" y1="1157.7" x2="1348.8" y2="1157.7" stroke="#000" stroke-width="5.7" />
<text x="1330.2" y="1166.6" font-size="24.6" text-anchor="end">0</text>
<line x1="1337.2" y1="1227.0" x2="1348.8" y2="1227.0" stroke="#000" stroke-width="5.7" />
<text x="1330.2" y="1235.9" font-size="24.6" text-anchor="end">-2</text>
<line x1="1348.5" y1="1157.7" x2="1693.6" y2="1157.7" stroke="#000" stroke-width="5.4" stroke-dasharray="12 12.06" stroke-linecap="round"/>
<line x1="920.8" y1="1344.4" x2="920.8" y2="1603.7" stroke="#000" stroke-width="6.4" />
<line x1="908.6" y1="1369.2" x2="920.8" y2="1369.2" stroke="#000" stroke-width="5.7" />
<text x="903.1" y="1378.1" font-size="24.6" text-anchor="end">2</text>
<line x1="908.6" y1="1422.1" x2="920.8" y2="1422.1" stroke="#000" stroke-width="5.7" />
<text x="903.1" y="1431.0" font-size="24.6" text-anchor="end">1</text>
<line x1="908.6" y1="1474.3" x2="920.8" y2="1474.3" stroke="#000" stroke-width="5.7" />
<text x="903.1" y="1483.2" font-size="24.6" text-anchor="end">0</text>
<line x1="908.6" y1="1526.7" x2="920.8" y2="1526.7" stroke="#000" stroke-width="5.7" />
<text x="903.1" y="1535.6" font-size="24.6" text-anchor="end">-1</text>
<line x1="908.6" y1="1578.9" x2="920.8" y2="1578.9" stroke="#000" stroke-width="5.7" />
<text x="903.1" y="1587.8" font-size="24.6" text-anchor="end">-2</text>
<line x1="920.5" y1="1474.3" x2="1281.7" y2="1474.3" stroke="#000" stroke-width="5.4" stroke-dasharray="12 12.06" stroke-linecap="round"/>
<line x1="1344.6" y1="1340.6" x2="1344.6" y2="1600.7" stroke="#000" stroke-width="6.4" />
<line x1="1332.8" y1="1343.3" x2="1344.6" y2="1343.3" stroke="#000" stroke-width="5.7" />
<text x="1324.2" y="1352.2" font-size="24.6" text-anchor="end">3</text>
<line x1="1332.8" y1="1389.7" x2="1344.6" y2="1389.7" stroke="#000" stroke-width="5.7" />
<text x="1324.2" y="1398.6" font-size="24.6" text-anchor="end">2</text>
<line x1="1332.8" y1="1436.5" x2="1344.6" y2="1436.5" stroke="#000" stroke-width="5.7" />
<text x="1324.2" y="1445.4" font-size="24.6" text-anchor="end">1</text>
<line x1="1332.8" y1="1483.5" x2="1344.6" y2="1483.5" stroke="#000" stroke-width="5.7" />
<text x="1324.2" y="1492.4" font-size="24.6" text-anchor="end">0</text>
<line x1="1332.8" y1="1530.3" x2="1344.6" y2="1530.3" stroke="#000" stroke-width="5.7" />
<text x="1324.2" y="1539.2" font-size="24.6" text-anchor="end">-1</text>
<line x1="1332.8" y1="1576.9" x2="1344.6" y2="1576.9" stroke="#000" stroke-width="5.7" />
<text x="1324.2" y="1585.8" font-size="24.6" text-anchor="end">-2</text>
<line x1="1344.3" y1="1483.5" x2="1705.6" y2="1483.5" stroke="#000" stroke-width="5.4" stroke-dasharray="12 12.06" stroke-linecap="round"/>
<g fill="#1212e8"><circle cx="928.0" cy="1024.0" r="3.4"/><circle cx="932.2" cy="1072.8" r="3.4"/><circle cx="934.9" cy="1078.5" r="3.4"/><circle cx="938.2" cy="1084.3" r="3.4"/><circle cx="941.4" cy="1101.5" r="3.4"/><circle cx="944.4" cy="1116.0" r="3.4"/><circle cx="947.6" cy="1132.1" r="3.4"/><circle cx="950.6" cy="1137.6" r="3.4"/><circle cx="954.0" cy="1146.8" r="3.4"/><circle cx="957.0" cy="1148.6" r="3.4"/><circle cx="959.8" cy="1159.7" r="3.4"/><circle cx="962.5" cy="1162.9" r="3.4"/><circle cx="966.0" cy="1164.3" r="3.4"/><circle cx="969.4" cy="1166.6" r="3.4"/><circle cx="972.9" cy="1168.2" r="3.4"/><circle cx="976.3" cy="1168.9" r="3.4"/><circle cx="979.8" cy="1168.9" r="3.4"/><circle cx="983.2" cy="1168.9" r="3.4"/><circle cx="985.5" cy="1173.9" r="3.4"/><circle cx="989.0" cy="1180.8" r="3.4"/><circle cx="992.4" cy="1181.3" r="3.4"/><circle cx="995.9" cy="1182.6" r="3.4"/><circle cx="999.3" cy="1188.9" r="3.4"/><circle cx="1005.7" cy="1189.5" r="3.4"/><circle cx="1008.5" cy="1192.3" r="3.4"/><circle cx="1012.0" cy="1192.8" r="3.4"/><circle cx="1018.9" cy="1194.6" r="3.4"/><circle cx="1022.3" cy="1195.7" r="3.4"/><circle cx="1024.6" cy="1199.7" r="3.4"/><circle cx="1028.0" cy="1200.3" r="3.4"/><circle cx="1031.5" cy="1200.3" r="3.4"/><circle cx="1037.2" cy="1202.6" r="3.4"/><circle cx="1040.5" cy="1203.2" r="3.4"/><circle cx="1043.7" cy="1203.7" r="3.4"/><circle cx="1046.9" cy="1204.3" r="3.4"/><circle cx="1050.1" cy="1204.9" r="3.4"/><circle cx="1056.4" cy="1205.6" r="3.4"/><circle cx="1059.5" cy="1205.8" r="3.4"/><circle cx="1062.6" cy="1206.0" r="3.4"/><circle cx="1065.7" cy="1206.1" r="3.4"/><circle cx="1068.9" cy="1206.3" r="3.4"/><circle cx="1072.0" cy="1206.5" r="3.4"/><circle cx="1075.1" cy="1206.7" r="3.4"/><circle cx="1078.2" cy="1206.9" r="3.4"/><circle cx="1081.3" cy="1207.1" r="3.4"/><circle cx="1101.2" cy="1209.2" r="3.4"/><circle cx="1104.3" cy="1209.9" r="3.4"/><circle cx="1116.0" cy="1212.0" r="3.4"/><circle cx="1118.9" cy="1212.5" r="3.4"/><circle cx="1121.7" cy="1212.7" r="3.4"/><circle cx="1124.6" cy="1212.8" r="3.4"/><circle cx="1127.5" cy="1213.0" r="3.4"/><circle cx="1130.3" cy="1213.1" r="3.4"/><circle cx="1133.2" cy="1213.3" r="3.4"/><circle cx="1139.4" cy="1213.9" r="3.4"/><circle cx="1142.7" cy="1214.4" r="3.4"/><circle cx="1149.2" cy="1215.1" r="3.4"/><circle cx="1152.3" cy="1215.3" r="3.4"/><circle cx="1155.5" cy="1215.5" r="3.4"/><circle cx="1158.7" cy="1215.7" r="3.4"/><circle cx="1161.9" cy="1216.0" r="3.4"/><circle cx="1165.1" cy="1216.2" r="3.4"/><circle cx="1171.3" cy="1216.7" r="3.4"/><circle cx="1174.4" cy="1216.9" r="3.4"/><circle cx="1177.4" cy="1217.2" r="3.4"/><circle cx="1180.4" cy="1217.4" r="3.4"/><circle cx="1183.5" cy="1217.7" r="3.4"/><circle cx="1186.5" cy="1217.9" r="3.4"/><circle cx="1189.5" cy="1218.2" r="3.4"/><circle cx="1192.6" cy="1218.4" r="3.4"/><circle cx="1195.6" cy="1218.7" r="3.4"/><circle cx="1198.7" cy="1218.9" r="3.4"/><circle cx="1201.7" cy="1219.1" r="3.4"/><circle cx="1204.7" cy="1219.4" r="3.4"/><circle cx="1207.8" cy="1219.6" r="3.4"/><circle cx="1210.8" cy="1219.9" r="3.4"/><circle cx="1213.8" cy="1220.4" r="3.4"/><circle cx="1216.7" cy="1220.9" r="3.4"/><circle cx="1219.7" cy="1221.4" r="3.4"/><circle cx="1222.6" cy="1221.9" r="3.4"/><circle cx="1225.6" cy="1222.3" r="3.4"/><circle cx="1228.5" cy="1222.8" r="3.4"/><circle cx="1231.5" cy="1223.3" r="3.4"/><circle cx="1234.6" cy="1224.9" r="3.4"/><circle cx="1237.6" cy="1226.4" r="3.4"/><circle cx="1240.7" cy="1227.9" r="3.4"/><circle cx="1243.9" cy="1228.2" r="3.4"/><circle cx="1247.1" cy="1228.4" r="3.4"/><circle cx="1250.3" cy="1228.6" r="3.4"/><circle cx="1253.6" cy="1228.9" r="3.4"/><circle cx="1256.8" cy="1229.1" r="3.4"/><circle cx="1259.8" cy="1230.6" r="3.4"/><circle cx="1262.9" cy="1232.1" r="3.4"/><circle cx="1266.0" cy="1233.7" r="3.4"/><circle cx="1269.4" cy="1234.1" r="3.4"/><circle cx="1272.9" cy="1234.4" r="3.4"/><circle cx="1276.3" cy="1234.8" r="3.4"/><circle cx="1280.2" cy="1238.7" r="3.4"/><circle cx="1283.2" cy="1252.1" r="3.4"/></g>
<g fill="#ea1c2c"><circle cx="1002.8" cy="1189.5" r="3.4"/><circle cx="1015.4" cy="1193.4" r="3.4"/><circle cx="1034.3" cy="1203.3" r="3.4"/><circle cx="1053.3" cy="1205.4" r="3.4"/><circle cx="1084.4" cy="1207.2" r="3.4"/><circle cx="1087.8" cy="1207.5" r="3.4"/><circle cx="1091.3" cy="1207.8" r="3.4"/><circle cx="1094.7" cy="1208.1" r="3.4"/><circle cx="1098.2" cy="1208.4" r="3.4"/><circle cx="1107.4" cy="1210.7" r="3.4"/><circle cx="1110.2" cy="1211.0" r="3.4"/><circle cx="1113.1" cy="1211.4" r="3.4"/><circle cx="1136.1" cy="1213.4" r="3.4"/><circle cx="1146.0" cy="1214.8" r="3.4"/><circle cx="1168.3" cy="1216.4" r="3.4"/></g>
<g fill="#1212e8"><circle cx="1353.8" cy="1059.6" r="3.4"/><circle cx="1356.8" cy="1094.1" r="3.4"/><circle cx="1359.0" cy="1097.8" r="3.4"/><circle cx="1361.6" cy="1099.9" r="3.4"/><circle cx="1364.4" cy="1101.6" r="3.4"/><circle cx="1367.2" cy="1106.4" r="3.4"/><circle cx="1370.2" cy="1107.5" r="3.4"/><circle cx="1376.2" cy="1116.1" r="3.4"/><circle cx="1379.4" cy="1116.1" r="3.4"/><circle cx="1382.7" cy="1116.5" r="3.4"/><circle cx="1385.9" cy="1118.9" r="3.4"/><circle cx="1389.1" cy="1120.4" r="3.4"/><circle cx="1395.6" cy="1124.7" r="3.4"/><circle cx="1397.8" cy="1125.0" r="3.4"/><circle cx="1399.9" cy="1125.3" r="3.4"/><circle cx="1403.1" cy="1125.3" r="3.4"/><circle cx="1406.4" cy="1125.3" r="3.4"/><circle cx="1409.6" cy="1125.6" r="3.4"/><circle cx="1412.8" cy="1125.8" r="3.4"/><circle cx="1416.1" cy="1126.6" r="3.4"/><circle cx="1419.3" cy="1127.5" r="3.4"/><circle cx="1422.0" cy="1128.3" r="3.4"/><circle cx="1424.7" cy="1129.0" r="3.4"/><circle cx="1430.6" cy="1131.2" r="3.4"/><circle cx="1433.3" cy="1132.2" r="3.4"/><circle cx="1436.0" cy="1132.5" r="3.4"/><circle cx="1441.4" cy="1133.0" r="3.4"/><circle cx="1446.8" cy="1133.6" r="3.4"/><circle cx="1449.5" cy="1134.0" r="3.4"/><circle cx="1452.2" cy="1134.2" r="3.4"/><circle cx="1454.9" cy="1134.4" r="3.4"/><circle cx="1457.6" cy="1134.4" r="3.4"/><circle cx="1466.2" cy="1135.5" r="3.4"/><circle cx="1468.9" cy="1136.1" r="3.4"/><circle cx="1471.6" cy="1136.7" r="3.4"/><circle cx="1477.0" cy="1138.2" r="3.4"/><circle cx="1479.7" cy="1139.1" r="3.4"/><circle cx="1482.3" cy="1140.0" r="3.4"/><circle cx="1487.6" cy="1141.3" r="3.4"/><circle cx="1490.1" cy="1141.7" r="3.4"/><circle cx="1495.8" cy="1142.4" r="3.4"/><circle cx="1499.1" cy="1142.6" r="3.4"/><circle cx="1502.3" cy="1142.8" r="3.4"/><circle cx="1505.5" cy="1143.0" r="3.4"/><circle cx="1508.2" cy="1143.3" r="3.4"/><circle cx="1510.9" cy="1143.6" r="3.4"/><circle cx="1513.6" cy="1143.8" r="3.4"/><circle cx="1516.3" cy="1144.1" r="3.4"/><circle cx="1519.2" cy="1144.5" r="3.4"/><circle cx="1522.0" cy="1144.8" r="3.4"/><circle cx="1524.9" cy="1145.2" r="3.4"/><circle cx="1527.1" cy="1146.0" r="3.4"/><circle cx="1531.4" cy="1147.7" r="3.4"/><circle cx="1533.5" cy="1148.4" r="3.4"/><circle cx="1536.2" cy="1149.2" r="3.4"/><circle cx="1542.2" cy="1149.9" r="3.4"/><circle cx="1545.4" cy="1149.9" r="3.4"/><circle cx="1548.6" cy="1152.7" r="3.4"/><circle cx="1550.8" cy="1153.8" r="3.4"/><circle cx="1552.9" cy="1154.9" r="3.4"/><circle cx="1556.2" cy="1154.9" r="3.4"/><circle cx="1559.4" cy="1154.9" r="3.4"/><circle cx="1562.1" cy="1155.6" r="3.4"/><circle cx="1567.5" cy="1156.7" r="3.4"/><circle cx="1570.2" cy="1157.0" r="3.4"/><circle cx="1573.4" cy="1157.6" r="3.4"/><circle cx="1576.6" cy="1158.1" r="3.4"/><circle cx="1579.2" cy="1158.8" r="3.4"/><circle cx="1581.7" cy="1159.5" r="3.4"/><circle cx="1587.4" cy="1160.6" r="3.4"/><circle cx="1593.3" cy="1161.7" r="3.4"/><circle cx="1598.2" cy="1162.8" r="3.4"/><circle cx="1603.6" cy="1163.4" r="3.4"/><circle cx="1606.8" cy="1163.5" r="3.4"/><circle cx="1610.0" cy="1163.8" r="3.4"/><circle cx="1613.3" cy="1164.1" r="3.4"/><circle cx="1616.1" cy="1164.4" r="3.4"/><circle cx="1619.0" cy="1164.7" r="3.4"/><circle cx="1621.9" cy="1165.0" r="3.4"/><circle cx="1625.1" cy="1165.3" r="3.4"/><circle cx="1628.4" cy="1165.6" r="3.4"/><circle cx="1631.6" cy="1166.7" r="3.4"/><circle cx="1634.8" cy="1167.8" r="3.4"/><circle cx="1637.5" cy="1168.1" r="3.4"/><circle cx="1640.2" cy="1168.4" r="3.4"/><circle cx="1642.9" cy="1170.6" r="3.4"/><circle cx="1645.6" cy="1172.8" r="3.4"/><circle cx="1648.8" cy="1174.1" r="3.4"/><circle cx="1655.3" cy="1177.3" r="3.4"/><circle cx="1661.2" cy="1180.5" r="3.4"/><circle cx="1663.9" cy="1181.8" r="3.4"/><circle cx="1666.6" cy="1181.8" r="3.4"/><circle cx="1672.5" cy="1184.0" r="3.4"/><circle cx="1675.8" cy="1186.1" r="3.4"/><circle cx="1677.9" cy="1196.9" r="3.4"/><circle cx="1681.2" cy="1200.1" r="3.4"/><circle cx="1684.4" cy="1205.5" r="3.4"/><circle cx="1687.6" cy="1212.0" r="3.4"/><circle cx="1690.1" cy="1213.9" r="3.4"/><circle cx="1692.6" cy="1215.9" r="3.4"/><circle cx="1694.7" cy="1259.8" r="3.4"/></g>
<g fill="#ea1c2c"><circle cx="1350.3" cy="1018.0" r="3.4"/><circle cx="1373.6" cy="1107.7" r="3.4"/><circle cx="1392.4" cy="1121.9" r="3.4"/><circle cx="1427.9" cy="1130.1" r="3.4"/><circle cx="1438.7" cy="1132.7" r="3.4"/><circle cx="1444.1" cy="1133.3" r="3.4"/><circle cx="1460.3" cy="1134.4" r="3.4"/><circle cx="1463.5" cy="1134.8" r="3.4"/><circle cx="1474.3" cy="1137.2" r="3.4"/><circle cx="1485.0" cy="1140.9" r="3.4"/><circle cx="1492.6" cy="1142.2" r="3.4"/><circle cx="1529.2" cy="1146.9" r="3.4"/><circle cx="1538.9" cy="1149.9" r="3.4"/><circle cx="1564.8" cy="1156.4" r="3.4"/><circle cx="1584.2" cy="1160.3" r="3.4"/><circle cx="1590.6" cy="1160.9" r="3.4"/><circle cx="1596.0" cy="1162.4" r="3.4"/><circle cx="1600.3" cy="1163.3" r="3.4"/><circle cx="1652.1" cy="1175.3" r="3.4"/><circle cx="1658.5" cy="1179.2" r="3.4"/><circle cx="1669.3" cy="1181.8" r="3.4"/></g>
<g fill="#1212e8"><circle cx="922.3" cy="1349.0" r="3.4"/><circle cx="923.9" cy="1361.6" r="3.4"/><circle cx="925.3" cy="1374.7" r="3.4"/><circle cx="926.3" cy="1377.4" r="3.4"/><circle cx="928.3" cy="1385.7" r="3.4"/><circle cx="930.3" cy="1393.8" r="3.4"/><circle cx="931.5" cy="1396.1" r="3.4"/><circle cx="932.6" cy="1398.4" r="3.4"/><circle cx="933.8" cy="1401.8" r="3.4"/><circle cx="936.1" cy="1407.0" r="3.4"/><circle cx="938.4" cy="1410.5" r="3.4"/><circle cx="940.7" cy="1413.3" r="3.4"/><circle cx="941.8" cy="1414.5" r="3.4"/><circle cx="944.1" cy="1416.8" r="3.4"/><circle cx="946.4" cy="1418.9" r="3.4"/><circle cx="948.7" cy="1420.7" r="3.4"/><circle cx="949.9" cy="1421.6" r="3.4"/><circle cx="951.0" cy="1422.5" r="3.4"/><circle cx="952.2" cy="1423.4" r="3.4"/><circle cx="954.5" cy="1425.0" r="3.4"/><circle cx="956.8" cy="1426.3" r="3.4"/><circle cx="959.1" cy="1427.5" r="3.4"/><circle cx="961.4" cy="1428.8" r="3.4"/><circle cx="963.7" cy="1430.0" r="3.4"/><circle cx="964.8" cy="1430.6" r="3.4"/><circle cx="966.0" cy="1431.1" r="3.4"/><circle cx="967.1" cy="1431.7" r="3.4"/><circle cx="968.3" cy="1432.3" r="3.4"/><circle cx="969.4" cy="1432.9" r="3.4"/><circle cx="970.6" cy="1433.4" r="3.4"/><circle cx="971.7" cy="1434.0" r="3.4"/><circle cx="972.8" cy="1434.5" r="3.4"/><circle cx="973.8" cy="1435.0" r="3.4"/><circle cx="974.9" cy="1435.5" r="3.4"/><circle cx="976.0" cy="1436.0" r="3.4"/><circle cx="977.0" cy="1436.5" r="3.4"/><circle cx="978.1" cy="1437.0" r="3.4"/><circle cx="979.2" cy="1437.5" r="3.4"/><circle cx="980.2" cy="1438.0" r="3.4"/><circle cx="981.3" cy="1438.5" r="3.4"/><circle cx="982.3" cy="1439.0" r="3.4"/><circle cx="983.4" cy="1439.5" r="3.4"/><circle cx="984.5" cy="1440.0" r="3.4"/><circle cx="986.6" cy="1440.9" r="3.4"/><circle cx="987.6" cy="1441.3" r="3.4"/><circle cx="988.7" cy="1441.7" r="3.4"/><circle cx="989.8" cy="1442.2" r="3.4"/><circle cx="990.8" cy="1442.6" r="3.4"/><circle cx="991.9" cy="1443.0" r="3.4"/><circle cx="992.9" cy="1443.4" r="3.4"/><circle cx="994.0" cy="1443.9" r="3.4"/><circle cx="995.1" cy="1444.3" r="3.4"/><circle cx="996.1" cy="1444.7" r="3.4"/><circle cx="997.2" cy="1445.1" r="3.4"/><circle cx="998.2" cy="1445.6" r="3.4"/><circle cx="999.3" cy="1446.0" r="3.4"/><circle cx="1000.5" cy="1446.4" r="3.4"/><circle cx="1001.6" cy="1446.8" r="3.4"/><circle cx="1002.8" cy="1447.2" r="3.4"/><circle cx="1003.9" cy="1447.6" r="3.4"/><circle cx="1005.1" cy="1448.0" r="3.4"/><circle cx="1006.2" cy="1448.5" r="3.4"/><circle cx="1007.4" cy="1448.9" r="3.4"/><circle cx="1008.5" cy="1449.3" r="3.4"/><circle cx="1009.7" cy="1449.7" r="3.4"/><circle cx="1011.9" cy="1450.3" r="3.4"/><circle cx="1013.0" cy="1450.6" r="3.4"/><circle cx="1015.1" cy="1451.0" r="3.4"/><circle cx="1016.2" cy="1451.3" r="3.4"/><circle cx="1018.3" cy="1451.7" r="3.4"/><circle cx="1019.4" cy="1452.0" r="3.4"/><circle cx="1020.5" cy="1452.2" r="3.4"/><circle cx="1021.5" cy="1452.4" r="3.4"/><circle cx="1023.7" cy="1452.9" r="3.4"/><circle cx="1024.8" cy="1453.1" r="3.4"/><circle cx="1025.8" cy="1453.3" r="3.4"/><circle cx="1028.0" cy="1453.9" r="3.4"/><circle cx="1029.1" cy="1454.2" r="3.4"/><circle cx="1031.2" cy="1454.7" r="3.4"/><circle cx="1032.3" cy="1455.0" r="3.4"/><circle cx="1033.4" cy="1455.3" r="3.4"/><circle cx="1034.5" cy="1455.6" r="3.4"/><circle cx="1035.6" cy="1455.9" r="3.4"/><circle cx="1036.7" cy="1456.2" r="3.4"/><circle cx="1037.8" cy="1456.5" r="3.4"/><circle cx="1038.8" cy="1456.8" r="3.4"/><circle cx="1039.9" cy="1457.1" r="3.4"/><circle cx="1041.0" cy="1457.4" r="3.4"/><circle cx="1042.1" cy="1457.7" r="3.4"/><circle cx="1043.2" cy="1458.0" r="3.4"/><circle cx="1044.3" cy="1458.3" r="3.4"/><circle cx="1045.4" cy="1458.6" r="3.4"/><circle cx="1047.6" cy="1459.1" r="3.4"/><circle cx="1048.7" cy="1459.4" r="3.4"/><circle cx="1049.9" cy="1459.7" r="3.4"/><circle cx="1051.0" cy="1460.0" r="3.4"/><circle cx="1052.2" cy="1460.3" r="3.4"/><circle cx="1053.3" cy="1460.6" r="3.4"/><circle cx="1054.5" cy="1460.9" r="3.4"/><circle cx="1055.6" cy="1461.2" r="3.4"/><circle cx="1056.8" cy="1461.5" r="3.4"/><circle cx="1057.9" cy="1461.8" r="3.4"/><circle cx="1059.1" cy="1462.1" r="3.4"/><circle cx="1060.2" cy="1462.3" r="3.4"/><circle cx="1061.2" cy="1462.5" r="3.4"/><circle cx="1062.3" cy="1462.7" r="3.4"/><circle cx="1063.4" cy="1462.9" r="3.4"/><circle cx="1064.4" cy="1463.1" r="3.4"/><circle cx="1065.5" cy="1463.3" r="3.4"/><circle cx="1066.6" cy="1463.5" r="3.4"/><circle cx="1067.7" cy="1463.7" r="3.4"/><circle cx="1068.7" cy="1463.9" r="3.4"/><circle cx="1069.8" cy="1464.1" r="3.4"/><circle cx="1070.9" cy="1464.3" r="3.4"/><circle cx="1072.0" cy="1464.5" r="3.4"/><circle cx="1074.1" cy="1464.9" r="3.4"/><circle cx="1076.2" cy="1465.3" r="3.4"/><circle cx="1077.3" cy="1465.5" r="3.4"/><circle cx="1079.5" cy="1466.0" r="3.4"/><circle cx="1080.5" cy="1466.2" r="3.4"/><circle cx="1081.6" cy="1466.4" r="3.4"/><circle cx="1082.7" cy="1466.7" r="3.4"/><circle cx="1083.8" cy="1466.9" r="3.4"/><circle cx="1084.8" cy="1467.1" r="3.4"/><circle cx="1085.9" cy="1467.4" r="3.4"/><circle cx="1087.0" cy="1467.6" r="3.4"/><circle cx="1088.0" cy="1467.8" r="3.4"/><circle cx="1089.1" cy="1468.0" r="3.4"/><circle cx="1091.3" cy="1468.5" r="3.4"/><circle cx="1093.6" cy="1469.0" r="3.4"/><circle cx="1094.7" cy="1469.2" r="3.4"/><circle cx="1095.9" cy="1469.4" r="3.4"/><circle cx="1097.0" cy="1469.7" r="3.4"/><circle cx="1098.2" cy="1469.9" r="3.4"/><circle cx="1099.3" cy="1470.1" r="3.4"/><circle cx="1100.5" cy="1470.3" r="3.4"/><circle cx="1101.6" cy="1470.6" r="3.4"/><circle cx="1103.8" cy="1471.0" r="3.4"/><circle cx="1104.9" cy="1471.2" r="3.4"/><circle cx="1105.9" cy="1471.3" r="3.4"/><circle cx="1107.0" cy="1471.5" r="3.4"/><circle cx="1108.1" cy="1471.7" r="3.4"/><circle cx="1109.1" cy="1471.9" r="3.4"/><circle cx="1110.2" cy="1472.0" r="3.4"/><circle cx="1111.2" cy="1472.2" r="3.4"/><circle cx="1112.3" cy="1472.4" r="3.4"/><circle cx="1113.4" cy="1472.6" r="3.4"/><circle cx="1114.4" cy="1472.7" r="3.4"/><circle cx="1115.5" cy="1472.9" r="3.4"/><circle cx="1117.6" cy="1473.2" r="3.4"/><circle cx="1118.7" cy="1473.4" r="3.4"/><circle cx="1119.8" cy="1473.5" r="3.4"/><circle cx="1120.9" cy="1473.7" r="3.4"/><circle cx="1122.0" cy="1473.8" r="3.4"/><circle cx="1123.1" cy="1474.0" r="3.4"/><circle cx="1124.2" cy="1474.1" r="3.4"/><circle cx="1125.3" cy="1474.3" r="3.4"/><circle cx="1126.4" cy="1474.4" r="3.4"/><circle cx="1127.4" cy="1474.6" r="3.4"/><circle cx="1128.5" cy="1474.7" r="3.4"/><circle cx="1129.6" cy="1474.8" r="3.4"/><circle cx="1130.7" cy="1475.0" r="3.4"/><circle cx="1131.8" cy="1475.1" r="3.4"/><circle cx="1132.9" cy="1475.3" r="3.4"/><circle cx="1134.0" cy="1475.4" r="3.4"/><circle cx="1135.1" cy="1475.6" r="3.4"/><circle cx="1136.2" cy="1475.7" r="3.4"/><circle cx="1137.2" cy="1475.9" r="3.4"/><circle cx="1138.3" cy="1476.1" r="3.4"/><circle cx="1139.4" cy="1476.3" r="3.4"/><circle cx="1140.4" cy="1476.6" r="3.4"/><circle cx="1141.5" cy="1476.8" r="3.4"/><circle cx="1142.5" cy="1477.0" r="3.4"/><circle cx="1143.6" cy="1477.2" r="3.4"/><circle cx="1144.7" cy="1477.5" r="3.4"/><circle cx="1145.7" cy="1477.7" r="3.4"/><circle cx="1146.8" cy="1477.9" r="3.4"/><circle cx="1147.9" cy="1478.2" r="3.4"/><circle cx="1148.9" cy="1478.4" r="3.4"/><circle cx="1150.0" cy="1478.6" r="3.4"/><circle cx="1152.1" cy="1479.0" r="3.4"/><circle cx="1153.2" cy="1479.2" r="3.4"/><circle cx="1155.3" cy="1479.6" r="3.4"/><circle cx="1156.3" cy="1479.7" r="3.4"/><circle cx="1157.4" cy="1479.9" r="3.4"/><circle cx="1158.5" cy="1480.1" r="3.4"/><circle cx="1159.5" cy="1480.3" r="3.4"/><circle cx="1160.6" cy="1480.4" r="3.4"/><circle cx="1161.6" cy="1480.6" r="3.4"/><circle cx="1163.8" cy="1481.0" r="3.4"/><circle cx="1166.0" cy="1481.3" r="3.4"/><circle cx="1167.1" cy="1481.4" r="3.4"/><circle cx="1168.3" cy="1481.5" r="3.4"/><circle cx="1169.4" cy="1481.6" r="3.4"/><circle cx="1170.6" cy="1481.7" r="3.4"/><circle cx="1172.8" cy="1482.1" r="3.4"/><circle cx="1173.9" cy="1482.3" r="3.4"/><circle cx="1174.9" cy="1482.5" r="3.4"/><circle cx="1176.0" cy="1482.7" r="3.4"/><circle cx="1177.1" cy="1482.9" r="3.4"/><circle cx="1178.2" cy="1483.1" r="3.4"/><circle cx="1179.2" cy="1483.3" r="3.4"/><circle cx="1180.3" cy="1483.6" r="3.4"/><circle cx="1181.4" cy="1483.8" r="3.4"/><circle cx="1182.5" cy="1484.0" r="3.4"/><circle cx="1183.5" cy="1484.2" r="3.4"/><circle cx="1184.6" cy="1484.4" r="3.4"/><circle cx="1185.7" cy="1484.6" r="3.4"/><circle cx="1186.7" cy="1484.8" r="3.4"/><circle cx="1187.8" cy="1485.1" r="3.4"/><circle cx="1188.9" cy="1485.3" r="3.4"/><circle cx="1190.0" cy="1485.5" r="3.4"/><circle cx="1191.1" cy="1485.7" r="3.4"/><circle cx="1192.2" cy="1486.0" r="3.4"/><circle cx="1193.3" cy="1486.2" r="3.4"/><circle cx="1194.4" cy="1486.4" r="3.4"/><circle cx="1195.5" cy="1486.7" r="3.4"/><circle cx="1196.6" cy="1486.9" r="3.4"/><circle cx="1197.7" cy="1487.1" r="3.4"/><circle cx="1198.8" cy="1487.4" r="3.4"/><circle cx="1199.9" cy="1487.6" r="3.4"/><circle cx="1201.0" cy="1487.8" r="3.4"/><circle cx="1202.1" cy="1488.0" r="3.4"/><circle cx="1203.2" cy="1488.3" r="3.4"/><circle cx="1204.3" cy="1488.5" r="3.4"/><circle cx="1205.4" cy="1488.7" r="3.4"/><circle cx="1206.5" cy="1489.0" r="3.4"/><circle cx="1207.6" cy="1489.2" r="3.4"/><circle cx="1208.7" cy="1489.4" r="3.4"/><circle cx="1209.8" cy="1489.7" r="3.4"/><circle cx="1210.9" cy="1489.9" r="3.4"/><circle cx="1212.0" cy="1490.1" r="3.4"/><circle cx="1214.3" cy="1490.8" r="3.4"/><circle cx="1215.4" cy="1491.2" r="3.4"/><circle cx="1216.6" cy="1491.6" r="3.4"/><circle cx="1217.7" cy="1492.0" r="3.4"/><circle cx="1218.9" cy="1492.4" r="3.4"/><circle cx="1220.0" cy="1492.9" r="3.4"/><circle cx="1221.1" cy="1493.3" r="3.4"/><circle cx="1222.3" cy="1493.7" r="3.4"/><circle cx="1223.4" cy="1494.1" r="3.4"/><circle cx="1224.6" cy="1494.5" r="3.4"/><circle cx="1226.8" cy="1495.3" r="3.4"/><circle cx="1227.9" cy="1495.6" r="3.4"/><circle cx="1229.0" cy="1496.0" r="3.4"/><circle cx="1230.1" cy="1496.3" r="3.4"/><circle cx="1231.2" cy="1496.7" r="3.4"/><circle cx="1232.3" cy="1497.0" r="3.4"/><circle cx="1233.3" cy="1497.4" r="3.4"/><circle cx="1234.4" cy="1497.7" r="3.4"/><circle cx="1235.5" cy="1498.0" r="3.4"/><circle cx="1236.6" cy="1498.4" r="3.4"/><circle cx="1237.7" cy="1498.7" r="3.4"/><circle cx="1238.8" cy="1499.1" r="3.4"/><circle cx="1239.9" cy="1499.4" r="3.4"/><circle cx="1240.9" cy="1499.8" r="3.4"/><circle cx="1242.0" cy="1500.1" r="3.4"/><circle cx="1243.1" cy="1500.5" r="3.4"/><circle cx="1244.2" cy="1500.8" r="3.4"/><circle cx="1246.4" cy="1502.0" r="3.4"/><circle cx="1247.6" cy="1502.9" r="3.4"/><circle cx="1248.7" cy="1503.8" r="3.4"/><circle cx="1249.9" cy="1504.7" r="3.4"/><circle cx="1251.0" cy="1505.6" r="3.4"/><circle cx="1252.2" cy="1506.4" r="3.4"/><circle cx="1253.3" cy="1507.2" r="3.4"/><circle cx="1254.5" cy="1507.9" r="3.4"/><circle cx="1255.6" cy="1508.6" r="3.4"/><circle cx="1256.8" cy="1509.3" r="3.4"/><circle cx="1257.9" cy="1510.0" r="3.4"/><circle cx="1259.1" cy="1510.7" r="3.4"/><circle cx="1260.2" cy="1511.5" r="3.4"/><circle cx="1261.4" cy="1512.2" r="3.4"/><circle cx="1262.5" cy="1513.7" r="3.4"/><circle cx="1263.7" cy="1515.2" r="3.4"/><circle cx="1264.8" cy="1516.8" r="3.4"/><circle cx="1266.0" cy="1518.3" r="3.4"/><circle cx="1267.1" cy="1519.8" r="3.4"/><circle cx="1269.4" cy="1523.3" r="3.4"/><circle cx="1272.9" cy="1528.9" r="3.4"/><circle cx="1274.0" cy="1530.6" r="3.4"/><circle cx="1274.7" cy="1537.5" r="3.4"/><circle cx="1275.6" cy="1544.4" r="3.4"/><circle cx="1276.3" cy="1549.0" r="3.4"/><circle cx="1277.9" cy="1558.2" r="3.4"/><circle cx="1279.3" cy="1567.8" r="3.4"/><circle cx="1280.5" cy="1579.5" r="3.4"/><circle cx="1281.6" cy="1586.9" r="3.4"/></g>
<g fill="#ea1c2c"><circle cx="927.4" cy="1380.0" r="3.4"/><circle cx="929.2" cy="1391.5" r="3.4"/><circle cx="934.9" cy="1405.3" r="3.4"/><circle cx="937.2" cy="1408.7" r="3.4"/><circle cx="939.5" cy="1412.2" r="3.4"/><circle cx="943.0" cy="1415.6" r="3.4"/><circle cx="945.3" cy="1417.9" r="3.4"/><circle cx="947.6" cy="1419.8" r="3.4"/><circle cx="953.3" cy="1424.4" r="3.4"/><circle cx="955.6" cy="1425.6" r="3.4"/><circle cx="957.9" cy="1426.9" r="3.4"/><circle cx="960.2" cy="1428.2" r="3.4"/><circle cx="962.5" cy="1429.4" r="3.4"/><circle cx="985.5" cy="1440.5" r="3.4"/><circle cx="1010.8" cy="1450.1" r="3.4"/><circle cx="1014.0" cy="1450.8" r="3.4"/><circle cx="1017.2" cy="1451.5" r="3.4"/><circle cx="1022.6" cy="1452.6" r="3.4"/><circle cx="1026.9" cy="1453.6" r="3.4"/><circle cx="1030.2" cy="1454.4" r="3.4"/><circle cx="1046.4" cy="1458.9" r="3.4"/><circle cx="1073.0" cy="1464.7" r="3.4"/><circle cx="1075.2" cy="1465.1" r="3.4"/><circle cx="1078.4" cy="1465.7" r="3.4"/><circle cx="1090.2" cy="1468.3" r="3.4"/><circle cx="1092.4" cy="1468.7" r="3.4"/><circle cx="1102.8" cy="1470.8" r="3.4"/><circle cx="1116.6" cy="1473.1" r="3.4"/><circle cx="1151.0" cy="1478.9" r="3.4"/><circle cx="1154.2" cy="1479.4" r="3.4"/><circle cx="1162.7" cy="1480.8" r="3.4"/><circle cx="1164.8" cy="1481.1" r="3.4"/><circle cx="1171.7" cy="1481.8" r="3.4"/><circle cx="1213.1" cy="1490.3" r="3.4"/><circle cx="1225.7" cy="1494.9" r="3.4"/><circle cx="1245.3" cy="1501.1" r="3.4"/><circle cx="1268.3" cy="1521.4" r="3.4"/><circle cx="1270.6" cy="1525.2" r="3.4"/><circle cx="1271.7" cy="1527.1" r="3.4"/></g>
<g fill="#1212e8"><circle cx="1345.0" cy="1349.6" r="3.4"/><circle cx="1345.6" cy="1367.7" r="3.4"/><circle cx="1348.1" cy="1381.2" r="3.4"/><circle cx="1349.2" cy="1384.0" r="3.4"/><circle cx="1350.2" cy="1386.3" r="3.4"/><circle cx="1351.2" cy="1388.5" r="3.4"/><circle cx="1352.2" cy="1390.8" r="3.4"/><circle cx="1353.3" cy="1394.2" r="3.4"/><circle cx="1354.4" cy="1397.6" r="3.4"/><circle cx="1355.6" cy="1401.0" r="3.4"/><circle cx="1356.7" cy="1403.6" r="3.4"/><circle cx="1357.8" cy="1406.3" r="3.4"/><circle cx="1359.0" cy="1408.9" r="3.4"/><circle cx="1360.1" cy="1411.9" r="3.4"/><circle cx="1361.2" cy="1414.9" r="3.4"/><circle cx="1362.4" cy="1417.9" r="3.4"/><circle cx="1363.5" cy="1420.2" r="3.4"/><circle cx="1364.6" cy="1422.5" r="3.4"/><circle cx="1365.8" cy="1424.7" r="3.4"/><circle cx="1368.0" cy="1426.5" r="3.4"/><circle cx="1369.1" cy="1427.4" r="3.4"/><circle cx="1370.3" cy="1428.3" r="3.4"/><circle cx="1371.4" cy="1429.2" r="3.4"/><circle cx="1373.7" cy="1430.2" r="3.4"/><circle cx="1374.8" cy="1430.7" r="3.4"/><circle cx="1375.9" cy="1431.2" r="3.4"/><circle cx="1377.1" cy="1431.7" r="3.4"/><circle cx="1379.3" cy="1432.6" r="3.4"/><circle cx="1380.5" cy="1433.4" r="3.4"/><circle cx="1381.6" cy="1434.1" r="3.4"/><circle cx="1382.7" cy="1434.9" r="3.4"/><circle cx="1385.0" cy="1436.4" r="3.4"/><circle cx="1386.1" cy="1437.1" r="3.4"/><circle cx="1387.2" cy="1437.8" r="3.4"/><circle cx="1388.4" cy="1438.2" r="3.4"/><circle cx="1389.5" cy="1438.5" r="3.4"/><circle cx="1390.6" cy="1438.8" r="3.4"/><circle cx="1391.8" cy="1439.1" r="3.4"/><circle cx="1392.9" cy="1439.4" r="3.4"/><circle cx="1394.0" cy="1439.8" r="3.4"/><circle cx="1395.2" cy="1440.1" r="3.4"/><circle cx="1397.4" cy="1440.7" r="3.4"/><circle cx="1398.5" cy="1441.0" r="3.4"/><circle cx="1399.7" cy="1441.4" r="3.4"/><circle cx="1401.9" cy="1442.1" r="3.4"/><circle cx="1403.1" cy="1442.6" r="3.4"/><circle cx="1404.2" cy="1443.0" r="3.4"/><circle cx="1405.3" cy="1443.5" r="3.4"/><circle cx="1406.5" cy="1443.9" r="3.4"/><circle cx="1408.7" cy="1444.9" r="3.4"/><circle cx="1409.8" cy="1445.3" r="3.4"/><circle cx="1412.1" cy="1446.2" r="3.4"/><circle cx="1413.2" cy="1446.5" r="3.4"/><circle cx="1414.4" cy="1446.8" r="3.4"/><circle cx="1415.5" cy="1447.2" r="3.4"/><circle cx="1416.6" cy="1447.5" r="3.4"/><circle cx="1418.9" cy="1448.1" r="3.4"/><circle cx="1420.0" cy="1448.4" r="3.4"/><circle cx="1421.2" cy="1448.8" r="3.4"/><circle cx="1422.3" cy="1449.1" r="3.4"/><circle cx="1423.4" cy="1449.4" r="3.4"/><circle cx="1424.5" cy="1449.7" r="3.4"/><circle cx="1425.7" cy="1450.1" r="3.4"/><circle cx="1426.8" cy="1450.2" r="3.4"/><circle cx="1427.9" cy="1450.4" r="3.4"/><circle cx="1430.2" cy="1450.8" r="3.4"/><circle cx="1431.3" cy="1451.0" r="3.4"/><circle cx="1432.5" cy="1451.1" r="3.4"/><circle cx="1433.6" cy="1451.3" r="3.4"/><circle cx="1434.7" cy="1451.5" r="3.4"/><circle cx="1437.0" cy="1451.9" r="3.4"/><circle cx="1438.1" cy="1452.3" r="3.4"/><circle cx="1439.2" cy="1452.7" r="3.4"/><circle cx="1440.4" cy="1453.1" r="3.4"/><circle cx="1442.6" cy="1453.9" r="3.4"/><circle cx="1443.8" cy="1454.3" r="3.4"/><circle cx="1444.9" cy="1454.7" r="3.4"/><circle cx="1446.0" cy="1455.1" r="3.4"/><circle cx="1447.2" cy="1455.5" r="3.4"/><circle cx="1448.3" cy="1455.9" r="3.4"/><circle cx="1450.6" cy="1456.4" r="3.4"/><circle cx="1451.7" cy="1456.6" r="3.4"/><circle cx="1453.9" cy="1457.1" r="3.4"/><circle cx="1455.1" cy="1457.3" r="3.4"/><circle cx="1456.2" cy="1457.5" r="3.4"/><circle cx="1457.3" cy="1457.7" r="3.4"/><circle cx="1458.5" cy="1458.0" r="3.4"/><circle cx="1459.6" cy="1458.2" r="3.4"/><circle cx="1460.7" cy="1458.4" r="3.4"/><circle cx="1461.9" cy="1458.6" r="3.4"/><circle cx="1463.0" cy="1458.9" r="3.4"/><circle cx="1464.1" cy="1459.1" r="3.4"/><circle cx="1465.3" cy="1459.3" r="3.4"/><circle cx="1466.4" cy="1459.5" r="3.4"/><circle cx="1467.5" cy="1459.8" r="3.4"/><circle cx="1468.6" cy="1460.0" r="3.4"/><circle cx="1469.8" cy="1460.2" r="3.4"/><circle cx="1470.9" cy="1460.5" r="3.4"/><circle cx="1472.0" cy="1460.7" r="3.4"/><circle cx="1474.3" cy="1461.1" r="3.4"/><circle cx="1475.4" cy="1461.4" r="3.4"/><circle cx="1476.6" cy="1461.5" r="3.4"/><circle cx="1478.8" cy="1461.9" r="3.4"/><circle cx="1480.0" cy="1462.1" r="3.4"/><circle cx="1481.1" cy="1462.3" r="3.4"/><circle cx="1482.2" cy="1462.5" r="3.4"/><circle cx="1483.3" cy="1462.7" r="3.4"/><circle cx="1485.6" cy="1463.1" r="3.4"/><circle cx="1486.7" cy="1463.2" r="3.4"/><circle cx="1487.9" cy="1463.4" r="3.4"/><circle cx="1489.0" cy="1463.6" r="3.4"/><circle cx="1491.3" cy="1464.2" r="3.4"/><circle cx="1492.4" cy="1464.5" r="3.4"/><circle cx="1493.5" cy="1464.7" r="3.4"/><circle cx="1494.6" cy="1465.0" r="3.4"/><circle cx="1495.8" cy="1465.3" r="3.4"/><circle cx="1496.9" cy="1465.6" r="3.4"/><circle cx="1498.0" cy="1465.9" r="3.4"/><circle cx="1499.2" cy="1466.0" r="3.4"/><circle cx="1501.4" cy="1466.4" r="3.4"/><circle cx="1502.6" cy="1466.6" r="3.4"/><circle cx="1503.7" cy="1466.7" r="3.4"/><circle cx="1504.8" cy="1466.9" r="3.4"/><circle cx="1507.1" cy="1467.2" r="3.4"/><circle cx="1508.2" cy="1467.4" r="3.4"/><circle cx="1509.3" cy="1467.6" r="3.4"/><circle cx="1510.5" cy="1467.7" r="3.4"/><circle cx="1511.6" cy="1467.9" r="3.4"/><circle cx="1513.9" cy="1468.2" r="3.4"/><circle cx="1515.0" cy="1468.3" r="3.4"/><circle cx="1516.1" cy="1468.5" r="3.4"/><circle cx="1518.4" cy="1468.8" r="3.4"/><circle cx="1519.5" cy="1469.1" r="3.4"/><circle cx="1520.7" cy="1469.3" r="3.4"/><circle cx="1521.8" cy="1469.5" r="3.4"/><circle cx="1522.9" cy="1469.8" r="3.4"/><circle cx="1525.2" cy="1470.3" r="3.4"/><circle cx="1526.3" cy="1470.5" r="3.4"/><circle cx="1527.4" cy="1470.8" r="3.4"/><circle cx="1528.6" cy="1471.0" r="3.4"/><circle cx="1529.7" cy="1471.2" r="3.4"/><circle cx="1532.0" cy="1471.7" r="3.4"/><circle cx="1533.1" cy="1472.0" r="3.4"/><circle cx="1534.2" cy="1472.2" r="3.4"/><circle cx="1536.5" cy="1472.7" r="3.4"/><circle cx="1537.6" cy="1472.9" r="3.4"/><circle cx="1538.7" cy="1473.2" r="3.4"/><circle cx="1539.9" cy="1473.4" r="3.4"/><circle cx="1541.0" cy="1473.7" r="3.4"/><circle cx="1543.3" cy="1474.2" r="3.4"/><circle cx="1544.4" cy="1474.4" r="3.4"/><circle cx="1545.5" cy="1474.6" r="3.4"/><circle cx="1546.7" cy="1474.9" r="3.4"/><circle cx="1547.8" cy="1475.1" r="3.4"/><circle cx="1550.1" cy="1475.6" r="3.4"/><circle cx="1551.2" cy="1475.8" r="3.4"/><circle cx="1552.3" cy="1476.0" r="3.4"/><circle cx="1553.4" cy="1476.2" r="3.4"/><circle cx="1555.7" cy="1476.7" r="3.4"/><circle cx="1556.8" cy="1476.9" r="3.4"/><circle cx="1558.0" cy="1477.1" r="3.4"/><circle cx="1559.1" cy="1477.3" r="3.4"/><circle cx="1560.2" cy="1477.5" r="3.4"/><circle cx="1561.4" cy="1477.7" r="3.4"/><circle cx="1562.5" cy="1477.9" r="3.4"/><circle cx="1563.6" cy="1478.1" r="3.4"/><circle cx="1564.8" cy="1478.3" r="3.4"/><circle cx="1567.0" cy="1478.7" r="3.4"/><circle cx="1568.1" cy="1478.8" r="3.4"/><circle cx="1569.3" cy="1478.9" r="3.4"/><circle cx="1570.4" cy="1479.0" r="3.4"/><circle cx="1572.7" cy="1479.2" r="3.4"/><circle cx="1573.8" cy="1479.3" r="3.4"/><circle cx="1574.9" cy="1479.4" r="3.4"/><circle cx="1577.2" cy="1479.7" r="3.4"/><circle cx="1578.3" cy="1479.8" r="3.4"/><circle cx="1579.4" cy="1479.9" r="3.4"/><circle cx="1580.6" cy="1480.0" r="3.4"/><circle cx="1581.7" cy="1480.1" r="3.4"/><circle cx="1582.8" cy="1480.2" r="3.4"/><circle cx="1585.1" cy="1480.5" r="3.4"/><circle cx="1586.2" cy="1480.6" r="3.4"/><circle cx="1587.4" cy="1480.7" r="3.4"/><circle cx="1588.5" cy="1480.8" r="3.4"/><circle cx="1590.8" cy="1481.0" r="3.4"/><circle cx="1591.9" cy="1481.1" r="3.4"/><circle cx="1593.0" cy="1481.3" r="3.4"/><circle cx="1594.1" cy="1481.5" r="3.4"/><circle cx="1595.3" cy="1481.8" r="3.4"/><circle cx="1596.4" cy="1482.1" r="3.4"/><circle cx="1597.5" cy="1482.4" r="3.4"/><circle cx="1598.7" cy="1482.7" r="3.4"/><circle cx="1599.8" cy="1483.0" r="3.4"/><circle cx="1600.9" cy="1483.2" r="3.4"/><circle cx="1602.1" cy="1483.5" r="3.4"/><circle cx="1603.2" cy="1483.8" r="3.4"/><circle cx="1604.3" cy="1484.1" r="3.4"/><circle cx="1605.5" cy="1484.4" r="3.4"/><circle cx="1607.7" cy="1484.9" r="3.4"/><circle cx="1608.8" cy="1485.1" r="3.4"/><circle cx="1610.0" cy="1485.3" r="3.4"/><circle cx="1611.1" cy="1485.6" r="3.4"/><circle cx="1612.2" cy="1485.8" r="3.4"/><circle cx="1614.5" cy="1486.2" r="3.4"/><circle cx="1615.6" cy="1486.5" r="3.4"/><circle cx="1616.8" cy="1486.7" r="3.4"/><circle cx="1617.9" cy="1486.9" r="3.4"/><circle cx="1620.2" cy="1487.6" r="3.4"/><circle cx="1621.3" cy="1487.9" r="3.4"/><circle cx="1622.4" cy="1488.3" r="3.4"/><circle cx="1623.5" cy="1488.6" r="3.4"/><circle cx="1624.7" cy="1488.9" r="3.4"/><circle cx="1626.9" cy="1489.6" r="3.4"/><circle cx="1628.1" cy="1490.0" r="3.4"/><circle cx="1629.2" cy="1490.3" r="3.4"/><circle cx="1630.3" cy="1490.5" r="3.4"/><circle cx="1632.6" cy="1490.9" r="3.4"/><circle cx="1633.7" cy="1491.1" r="3.4"/><circle cx="1634.9" cy="1491.2" r="3.4"/><circle cx="1637.1" cy="1491.6" r="3.4"/><circle cx="1638.2" cy="1491.8" r="3.4"/><circle cx="1639.4" cy="1492.0" r="3.4"/><circle cx="1640.5" cy="1492.2" r="3.4"/><circle cx="1641.6" cy="1492.4" r="3.4"/><circle cx="1643.9" cy="1492.8" r="3.4"/><circle cx="1645.0" cy="1493.1" r="3.4"/><circle cx="1646.2" cy="1493.4" r="3.4"/><circle cx="1647.3" cy="1493.7" r="3.4"/><circle cx="1648.4" cy="1494.0" r="3.4"/><circle cx="1650.7" cy="1494.5" r="3.4"/><circle cx="1651.8" cy="1494.8" r="3.4"/><circle cx="1654.1" cy="1495.4" r="3.4"/><circle cx="1655.2" cy="1495.7" r="3.4"/><circle cx="1656.3" cy="1496.0" r="3.4"/><circle cx="1657.5" cy="1496.5" r="3.4"/><circle cx="1659.7" cy="1497.7" r="3.4"/><circle cx="1660.9" cy="1498.2" r="3.4"/><circle cx="1662.0" cy="1498.8" r="3.4"/><circle cx="1663.1" cy="1499.3" r="3.4"/><circle cx="1665.4" cy="1500.5" r="3.4"/><circle cx="1666.5" cy="1501.2" r="3.4"/><circle cx="1667.6" cy="1501.9" r="3.4"/><circle cx="1668.8" cy="1502.6" r="3.4"/><circle cx="1669.9" cy="1503.3" r="3.4"/><circle cx="1671.0" cy="1504.0" r="3.4"/><circle cx="1672.2" cy="1504.7" r="3.4"/><circle cx="1674.4" cy="1506.1" r="3.4"/><circle cx="1675.6" cy="1506.9" r="3.4"/><circle cx="1677.8" cy="1508.4" r="3.4"/><circle cx="1678.9" cy="1509.1" r="3.4"/><circle cx="1680.1" cy="1509.9" r="3.4"/><circle cx="1681.2" cy="1510.7" r="3.4"/><circle cx="1682.3" cy="1511.8" r="3.4"/><circle cx="1683.5" cy="1512.9" r="3.4"/><circle cx="1684.6" cy="1514.0" r="3.4"/><circle cx="1685.7" cy="1515.2" r="3.4"/><circle cx="1686.9" cy="1516.3" r="3.4"/><circle cx="1688.0" cy="1517.4" r="3.4"/><circle cx="1690.3" cy="1520.2" r="3.4"/><circle cx="1691.4" cy="1521.5" r="3.4"/><circle cx="1692.5" cy="1522.9" r="3.4"/><circle cx="1693.6" cy="1524.2" r="3.4"/><circle cx="1694.8" cy="1526.1" r="3.4"/><circle cx="1695.9" cy="1528.0" r="3.4"/><circle cx="1697.0" cy="1529.9" r="3.4"/><circle cx="1697.9" cy="1535.0" r="3.4"/><circle cx="1698.8" cy="1540.1" r="3.4"/><circle cx="1700.4" cy="1548.0" r="3.4"/><circle cx="1703.4" cy="1563.8" r="3.4"/><circle cx="1704.3" cy="1577.4" r="3.4"/><circle cx="1705.6" cy="1600.7" r="3.4"/></g>
<g fill="#ea1c2c"><circle cx="1347.0" cy="1378.4" r="3.4"/><circle cx="1366.9" cy="1425.6" r="3.4"/><circle cx="1372.5" cy="1429.7" r="3.4"/><circle cx="1378.2" cy="1432.2" r="3.4"/><circle cx="1383.8" cy="1435.6" r="3.4"/><circle cx="1396.3" cy="1440.4" r="3.4"/><circle cx="1400.8" cy="1441.7" r="3.4"/><circle cx="1407.6" cy="1444.4" r="3.4"/><circle cx="1411.0" cy="1445.8" r="3.4"/><circle cx="1417.8" cy="1447.8" r="3.4"/><circle cx="1429.1" cy="1450.6" r="3.4"/><circle cx="1435.9" cy="1451.7" r="3.4"/><circle cx="1441.5" cy="1453.5" r="3.4"/><circle cx="1449.4" cy="1456.2" r="3.4"/><circle cx="1452.8" cy="1456.8" r="3.4"/><circle cx="1473.2" cy="1460.9" r="3.4"/><circle cx="1477.7" cy="1461.7" r="3.4"/><circle cx="1484.5" cy="1462.9" r="3.4"/><circle cx="1490.1" cy="1463.9" r="3.4"/><circle cx="1500.3" cy="1466.2" r="3.4"/><circle cx="1506.0" cy="1467.1" r="3.4"/><circle cx="1512.7" cy="1468.0" r="3.4"/><circle cx="1517.3" cy="1468.7" r="3.4"/><circle cx="1524.0" cy="1470.0" r="3.4"/><circle cx="1530.8" cy="1471.5" r="3.4"/><circle cx="1535.4" cy="1472.5" r="3.4"/><circle cx="1542.1" cy="1473.9" r="3.4"/><circle cx="1548.9" cy="1475.4" r="3.4"/><circle cx="1554.6" cy="1476.4" r="3.4"/><circle cx="1565.9" cy="1478.5" r="3.4"/><circle cx="1571.5" cy="1479.1" r="3.4"/><circle cx="1576.1" cy="1479.6" r="3.4"/><circle cx="1584.0" cy="1480.4" r="3.4"/><circle cx="1589.6" cy="1480.9" r="3.4"/><circle cx="1606.6" cy="1484.6" r="3.4"/><circle cx="1613.4" cy="1486.0" r="3.4"/><circle cx="1619.0" cy="1487.2" r="3.4"/><circle cx="1625.8" cy="1489.3" r="3.4"/><circle cx="1631.5" cy="1490.7" r="3.4"/><circle cx="1636.0" cy="1491.4" r="3.4"/><circle cx="1642.8" cy="1492.6" r="3.4"/><circle cx="1649.5" cy="1494.3" r="3.4"/><circle cx="1652.9" cy="1495.1" r="3.4"/><circle cx="1658.6" cy="1497.1" r="3.4"/><circle cx="1664.2" cy="1499.9" r="3.4"/><circle cx="1673.3" cy="1505.4" r="3.4"/><circle cx="1676.7" cy="1507.6" r="3.4"/><circle cx="1689.1" cy="1518.8" r="3.4"/><circle cx="1702.0" cy="1554.8" r="3.4"/></g>
<circle cx="873.3" cy="1632.0" r="13.3" fill="#e8131b" />
<text x="899.0" y="1642.5" font-size="29">Super-enhancer regulated</text>
<circle cx="1303.7" cy="1632.0" r="13.3" fill="#3250fa" />
<text x="1331.0" y="1642.5" font-size="29">Not super-enhancer regulated</text>
<text x="1728.0" y="945.5" font-size="40" font-weight="bold">f</text>
<text x="1917.6" y="979.6" font-size="29.1" text-anchor="middle">CHARAFE_BREAST_</text>
<text x="1917.6" y="1010.0" font-size="29.1" text-anchor="middle">CANCER_LUMINAL_</text>
<text x="1917.6" y="1039.5" font-size="29.1" text-anchor="middle">VS_MESENCHYMAL_UP</text>
<text x="1916.2" y="1286.2" font-size="29.1" text-anchor="middle">CHARAFE_BREAST_</text>
<text x="1916.2" y="1316.1" font-size="29.1" text-anchor="middle">CANCER_LUMINAL_</text>
<text x="1916.2" y="1345.6" font-size="29.1" text-anchor="middle">VS_BASAL_UP</text>
<line x1="1804.0" y1="1060.6" x2="1804.0" y2="1185.8" stroke="#ececec" stroke-width="1" />
<line x1="1851.0" y1="1060.6" x2="1851.0" y2="1185.8" stroke="#ececec" stroke-width="1" />
<line x1="1898.0" y1="1060.6" x2="1898.0" y2="1185.8" stroke="#ececec" stroke-width="1" />
<line x1="1945.0" y1="1060.6" x2="1945.0" y2="1185.8" stroke="#ececec" stroke-width="1" />
<line x1="1992.0" y1="1060.6" x2="1992.0" y2="1185.8" stroke="#ececec" stroke-width="1" />
<line x1="2039.0" y1="1060.6" x2="2039.0" y2="1185.8" stroke="#ececec" stroke-width="1" />
<line x1="1760.0" y1="1079.0" x2="2084.2" y2="1079.0" stroke="#ececec" stroke-width="1" />
<line x1="1760.0" y1="1100.0" x2="2084.2" y2="1100.0" stroke="#ececec" stroke-width="1" />
<line x1="1760.0" y1="1121.0" x2="2084.2" y2="1121.0" stroke="#ececec" stroke-width="1" />
<line x1="1760.0" y1="1142.0" x2="2084.2" y2="1142.0" stroke="#ececec" stroke-width="1" />
<line x1="1760.0" y1="1163.0" x2="2084.2" y2="1163.0" stroke="#ececec" stroke-width="1" />
<rect x="1758.4" y="1059.0" width="327.4" height="190.9" fill="none" stroke="#e9e9e9" stroke-width="3.2" />
<rect x="1760.0" y="1060.6" width="324.2" height="187.7" fill="none" stroke="#c4c4c4" stroke-width="1.4" />
<line x1="1760.0" y1="1185.8" x2="2084.2" y2="1185.8" stroke="#aaa" stroke-width="1.4" />
<line x1="1760.0" y1="1192.5" x2="2084.2" y2="1192.5" stroke="#d0d0d0" stroke-width="1.2" />
<line x1="1760.0" y1="1237.0" x2="2084.2" y2="1237.0" stroke="#d8d8d8" stroke-width="1" />
<path d="M1760.0,1195.0h11.7v42.0h-11.7zM1772.8,1195.0h1.8v42.0h-1.8zM1774.7,1195.0h13.0v42.0h-13.0zM1788.7,1195.0h2.2v42.0h-2.2zM1794.2,1195.0h4.3v42.0h-4.3zM1801.0,1195.0h2.4v42.0h-2.4zM1804.6,1195.0h4.5v42.0h-4.5zM1810.2,1195.0h2.5v42.0h-2.5zM1812.7,1195.0h4.1v42.0h-4.1zM1817.6,1195.0h6.1v42.0h-6.1zM1826.3,1195.0h2.3v42.0h-2.3zM1828.6,1195.0h8.1v42.0h-8.1zM1837.9,1195.0h3.4v42.0h-3.4zM1842.3,1195.0h3.1v42.0h-3.1zM1846.8,1195.0h2.0v42.0h-2.0zM1850.3,1195.0h2.8v42.0h-2.8zM1854.7,1195.0h7.6v42.0h-7.6zM1864.0,1195.0h2.9v42.0h-2.9zM1869.5,1195.0h3.3v42.0h-3.3zM1876.1,1195.0h2.2v42.0h-2.2zM1881.5,1195.0h4.6v42.0h-4.6zM1898.8,1195.0h1.2v42.0h-1.2zM1901.3,1195.0h1.1v42.0h-1.1zM1904.4,1195.0h3.5v42.0h-3.5zM1910.1,1195.0h1.8v42.0h-1.8zM1913.9,1195.0h1.2v42.0h-1.2zM1915.2,1195.0h4.5v42.0h-4.5zM1920.8,1195.0h0.9v42.0h-0.9zM1936.9,1195.0h2.4v42.0h-2.4zM1942.5,1195.0h1.8v42.0h-1.8zM1947.5,1195.0h2.9v42.0h-2.9zM1951.4,1195.0h2.9v42.0h-2.9zM1955.8,1195.0h5.2v42.0h-5.2zM1964.4,1195.0h2.3v42.0h-2.3zM1967.7,1195.0h6.0v42.0h-6.0zM1977.4,1195.0h2.9v42.0h-2.9zM1983.9,1195.0h5.2v42.0h-5.2zM1990.9,1195.0h2.8v42.0h-2.8zM1996.1,1195.0h2.2v42.0h-2.2zM1999.4,1195.0h1.6v42.0h-1.6zM2002.3,1195.0h3.6v42.0h-3.6zM2007.4,1195.0h2.4v42.0h-2.4zM2011.7,1195.0h4.0v42.0h-4.0zM2017.5,1195.0h2.3v42.0h-2.3zM2022.5,1195.0h6.0v42.0h-6.0zM2031.6,1195.0h2.4v42.0h-2.4zM2035.4,1195.0h3.0v42.0h-3.0zM2039.6,1195.0h2.2v42.0h-2.2zM2045.4,1195.0h3.9v42.0h-3.9zM2050.6,1195.0h2.4v42.0h-2.4zM2054.8,1195.0h4.0v42.0h-4.0zM2060.1,1195.0h1.7v42.0h-1.7zM2063.0,1195.0h4.0v42.0h-4.0z" fill="#000"/>
<path d="M1793.0,1195.0h0.8v42.0h-0.8zM1873.6,1195.0h0.8v42.0h-0.8zM1896.5,1195.0h0.8v42.0h-0.8zM1933.5,1195.0h0.8v42.0h-0.8zM1940.6,1195.0h0.8v42.0h-0.8zM1975.3,1195.0h0.8v42.0h-0.8zM1981.0,1195.0h0.8v42.0h-0.8zM1994.9,1195.0h0.8v42.0h-0.8zM2030.1,1195.0h0.8v42.0h-0.8zM2044.2,1195.0h0.8v42.0h-0.8z" fill="#000" opacity="0.45"/>
<rect x="1760.0" y="1237.0" width="155.0" height="10.5" fill="#f4b6e3" />
<rect x="1915.0" y="1237.0" width="153.5" height="10.5" fill="#3a0ca3" />
<path d="M1761.7,1237.0h0.9v10.5h-0.9zM1763.4,1237.0h0.9v10.5h-0.9zM1766.8,1237.0h0.9v10.5h-0.9zM1768.5,1237.0h0.9v10.5h-0.9zM1770.2,1237.0h0.9v10.5h-0.9zM1771.9,1237.0h0.9v10.5h-0.9zM1775.3,1237.0h0.9v10.5h-0.9zM1778.7,1237.0h0.9v10.5h-0.9zM1780.4,1237.0h0.9v10.5h-0.9zM1788.9,1237.0h0.9v10.5h-0.9zM1792.3,1237.0h0.9v10.5h-0.9zM1794.0,1237.0h0.9v10.5h-0.9zM1795.7,1237.0h0.9v10.5h-0.9zM1799.1,1237.0h0.9v10.5h-0.9zM1805.9,1237.0h0.9v10.5h-0.9zM1811.0,1237.0h0.9v10.5h-0.9zM1814.4,1237.0h0.9v10.5h-0.9zM1821.2,1237.0h0.9v10.5h-0.9zM1826.3,1237.0h0.9v10.5h-0.9zM1828.0,1237.0h0.9v10.5h-0.9zM1829.7,1237.0h0.9v10.5h-0.9zM1831.4,1237.0h0.9v10.5h-0.9zM1834.8,1237.0h0.9v10.5h-0.9zM1836.5,1237.0h0.9v10.5h-0.9zM1838.2,1237.0h0.9v10.5h-0.9zM1843.3,1237.0h0.9v10.5h-0.9zM1845.0,1237.0h0.9v10.5h-0.9zM1848.4,1237.0h0.9v10.5h-0.9zM1853.5,1237.0h0.9v10.5h-0.9zM1858.6,1237.0h0.9v10.5h-0.9zM1862.0,1237.0h0.9v10.5h-0.9zM1863.7,1237.0h0.9v10.5h-0.9zM1865.4,1237.0h0.9v10.5h-0.9zM1872.2,1237.0h0.9v10.5h-0.9zM1873.9,1237.0h0.9v10.5h-0.9zM1877.3,1237.0h0.9v10.5h-0.9zM1880.7,1237.0h0.9v10.5h-0.9zM1882.4,1237.0h0.9v10.5h-0.9zM1884.1,1237.0h0.9v10.5h-0.9zM1885.8,1237.0h0.9v10.5h-0.9zM1887.5,1237.0h0.9v10.5h-0.9zM1894.3,1237.0h0.9v10.5h-0.9zM1897.7,1237.0h0.9v10.5h-0.9z" fill="#5a2a55" opacity="0.22"/>
<rect x="1760.0" y="1237.0" width="15.5" height="10.5" fill="#7a3a6a" opacity="0.13"/>
<polyline points="1760.0,1184.6 1760.2,1183.3 1760.5,1181.4 1760.8,1179.8 1761.0,1178.1 1761.2,1177.1 1761.5,1174.3 1761.8,1173.7 1762.0,1170.2 1762.2,1169.4 1762.5,1167.8 1763.1,1165.6 1763.7,1165.7 1764.3,1162.8 1764.9,1162.5 1765.5,1161.4 1766.1,1157.6 1766.7,1157.8 1767.1,1155.9 1767.6,1153.8 1768.1,1150.2 1768.5,1149.9 1769.0,1148.7 1769.4,1146.1 1769.9,1144.2 1770.4,1142.8 1770.8,1140.9 1771.7,1141.1 1772.5,1138.4 1773.3,1137.3 1774.2,1136.5 1775.0,1136.1 1775.8,1132.7 1777.5,1130.3 1779.2,1131.4 1779.7,1129.3 1780.2,1127.5 1780.7,1125.1 1781.2,1122.5 1781.8,1120.6 1782.3,1119.4 1782.8,1118.2 1783.3,1115.4 1783.8,1115.7 1784.3,1114.2 1784.8,1110.5 1785.3,1111.4 1785.8,1108.7 1786.3,1108.4 1786.8,1105.5 1787.3,1104.9 1787.8,1102.3 1788.3,1101.2 1790.0,1100.3 1791.7,1098.3 1793.3,1098.1 1794.8,1097.5 1796.2,1097.2 1797.7,1096.3 1799.2,1096.0 1800.0,1094.8 1800.8,1092.5 1801.7,1090.8 1802.5,1089.9 1803.3,1089.7 1804.0,1087.7 1804.7,1085.8 1805.3,1084.8 1806.0,1081.5 1806.7,1079.6 1808.3,1080.7 1810.0,1081.9 1811.7,1082.7 1812.4,1083.0 1813.1,1082.3 1813.8,1078.4 1814.5,1078.5 1815.2,1077.8 1816.0,1075.7 1816.7,1072.3 1817.9,1074.8 1819.2,1074.7 1820.4,1075.5 1821.7,1076.0 1823.3,1077.0 1825.0,1077.6 1826.7,1074.6 1827.7,1073.1 1828.8,1072.2 1829.8,1069.4 1830.8,1069.1 1832.2,1069.0 1833.6,1067.4 1835.0,1065.3 1836.7,1065.5 1838.3,1066.3 1840.0,1068.0 1841.0,1070.1 1842.0,1070.2 1843.0,1070.3 1844.0,1072.0 1845.0,1073.9 1846.1,1074.2 1847.2,1075.5 1848.3,1077.7 1849.4,1080.2 1850.6,1079.6 1851.7,1082.8 1853.3,1083.6 1855.0,1083.1 1856.7,1083.3 1858.3,1084.1 1860.0,1085.9 1861.7,1086.8 1863.3,1087.3 1865.0,1085.8 1866.7,1086.7 1868.3,1085.6 1870.0,1086.7 1871.7,1086.9 1873.1,1085.5 1874.4,1084.6 1875.8,1086.5 1877.3,1085.5 1878.8,1087.1 1880.2,1088.2 1881.7,1089.1 1883.8,1088.6 1885.8,1087.5 1886.7,1089.0 1887.5,1089.3 1888.3,1092.5 1889.2,1094.2 1890.0,1095.9 1890.8,1096.2 1891.7,1098.2 1893.3,1098.7 1895.0,1097.9 1896.7,1095.3 1897.8,1097.5 1899.0,1098.3 1900.2,1101.3 1901.3,1101.7 1902.5,1103.0 1903.7,1103.7 1904.8,1105.5 1906.0,1107.5 1907.2,1108.4 1908.3,1108.3 1909.4,1110.1 1910.6,1112.0 1911.7,1111.6 1912.8,1115.4 1913.9,1114.0 1915.0,1117.0 1916.9,1114.8 1918.9,1116.4 1920.8,1114.7 1922.2,1114.7 1923.6,1117.0 1925.0,1119.4 1925.8,1120.8 1926.7,1121.6 1927.5,1122.9 1928.3,1124.6 1929.2,1126.5 1930.0,1126.7 1931.0,1128.4 1931.9,1130.3 1932.9,1130.9 1933.9,1131.4 1934.9,1133.9 1935.8,1134.5 1937.8,1136.5 1939.7,1137.4 1941.7,1138.7 1943.3,1136.7 1945.0,1136.9 1946.7,1140.0 1948.3,1139.9 1950.3,1141.2 1952.2,1141.2 1954.2,1142.2 1955.6,1141.0 1957.1,1142.4 1958.5,1144.9 1960.0,1146.6 1961.7,1145.7 1963.3,1149.3 1965.0,1148.1 1966.7,1149.1 1968.3,1150.9 1970.0,1151.1 1971.7,1151.9 1973.3,1152.9 1975.0,1154.0 1976.7,1155.6 1978.3,1155.5 1980.0,1154.2 1981.2,1155.4 1982.5,1155.6 1983.8,1157.8 1985.0,1157.2 1986.7,1160.3 1988.3,1159.7 1990.0,1159.7 1991.7,1161.3 1993.3,1161.6 1995.0,1164.1 1996.7,1163.8 1998.3,1163.6 1999.8,1162.8 2001.2,1161.2 2002.7,1162.6 2004.2,1159.7 2005.6,1161.9 2007.1,1162.4 2008.5,1162.9 2010.0,1164.9 2011.3,1165.3 2012.7,1164.8 2014.0,1168.6 2015.3,1167.7 2016.7,1169.6 2018.3,1170.0 2020.0,1172.6 2021.7,1171.3 2023.3,1172.0 2025.0,1172.8 2026.7,1174.7 2028.3,1176.9 2030.0,1176.5 2031.7,1178.6 2033.3,1176.8 2035.0,1179.9 2036.7,1178.2 2038.0,1181.3 2039.3,1180.3 2040.7,1182.4 2042.0,1183.5 2043.3,1185.6 2045.0,1184.2 2046.7,1185.7 2048.3,1183.7 2050.0,1185.1 2051.7,1182.8 2053.3,1181.8 2055.0,1182.5 2056.7,1180.0 2058.3,1180.3 2060.0,1181.1 2061.7,1181.1 2063.3,1181.4 2065.2,1183.7 2067.0,1185.3" fill="none" stroke="#1cee1c" stroke-width="3.4" stroke-linejoin="round" stroke-linecap="round"/>
<text x="1781.5" y="1160.8" font-size="29.1" font-weight="bold">NES = 5.22</text>
<text x="1781.5" y="1184.2" font-size="29.1" font-weight="bold">FDR q = 0.000</text>
<line x1="1806.0" y1="1364.7" x2="1806.0" y2="1491.7" stroke="#ececec" stroke-width="1" />
<line x1="1852.0" y1="1364.7" x2="1852.0" y2="1491.7" stroke="#ececec" stroke-width="1" />
<line x1="1898.0" y1="1364.7" x2="1898.0" y2="1491.7" stroke="#ececec" stroke-width="1" />
<line x1="1944.0" y1="1364.7" x2="1944.0" y2="1491.7" stroke="#ececec" stroke-width="1" />
<line x1="1990.0" y1="1364.7" x2="1990.0" y2="1491.7" stroke="#ececec" stroke-width="1" />
<line x1="2036.0" y1="1364.7" x2="2036.0" y2="1491.7" stroke="#ececec" stroke-width="1" />
<line x1="1761.7" y1="1386.0" x2="2079.2" y2="1386.0" stroke="#ececec" stroke-width="1" />
<line x1="1761.7" y1="1403.5" x2="2079.2" y2="1403.5" stroke="#ececec" stroke-width="1" />
<line x1="1761.7" y1="1421.0" x2="2079.2" y2="1421.0" stroke="#ececec" stroke-width="1" />
<line x1="1761.7" y1="1438.5" x2="2079.2" y2="1438.5" stroke="#ececec" stroke-width="1" />
<line x1="1761.7" y1="1456.0" x2="2079.2" y2="1456.0" stroke="#ececec" stroke-width="1" />
<line x1="1761.7" y1="1473.5" x2="2079.2" y2="1473.5" stroke="#ececec" stroke-width="1" />
<rect x="1761.7" y="1364.7" width="317.5" height="194.0" fill="none" stroke="#c4c4c4" stroke-width="1.4" />
<line x1="1761.7" y1="1491.7" x2="2079.2" y2="1491.7" stroke="#aaa" stroke-width="1.4" />
<line x1="1761.7" y1="1501.7" x2="2079.2" y2="1501.7" stroke="#d0d0d0" stroke-width="1.2" />
<line x1="1761.7" y1="1547.0" x2="2079.2" y2="1547.0" stroke="#d8d8d8" stroke-width="1" />
<path d="M1762.5,1504.2h3.6v42.8h-3.6zM1767.0,1504.2h3.9v42.8h-3.9zM1771.9,1504.2h3.7v42.8h-3.7zM1776.5,1504.2h8.5v42.8h-8.5zM1786.1,1504.2h2.8v42.8h-2.8zM1790.3,1504.2h2.1v42.8h-2.1zM1793.3,1504.2h3.1v42.8h-3.1zM1797.2,1504.2h5.4v42.8h-5.4zM1803.6,1504.2h5.8v42.8h-5.8zM1812.6,1504.2h5.2v42.8h-5.2zM1819.9,1504.2h1.4v42.8h-1.4zM1823.1,1504.2h2.7v42.8h-2.7zM1827.4,1504.2h1.6v42.8h-1.6zM1830.6,1504.2h1.7v42.8h-1.7zM1835.2,1504.2h2.8v42.8h-2.8zM1842.2,1504.2h6.7v42.8h-6.7zM1852.1,1504.2h2.3v42.8h-2.3zM1855.9,1504.2h1.5v42.8h-1.5zM1858.9,1504.2h2.1v42.8h-2.1zM1862.3,1504.2h3.0v42.8h-3.0zM1868.0,1504.2h2.2v42.8h-2.2zM1874.2,1504.2h2.1v42.8h-2.1zM1878.5,1504.2h1.4v42.8h-1.4zM1881.4,1504.2h2.0v42.8h-2.0zM1885.1,1504.2h2.3v42.8h-2.3zM1889.8,1504.2h2.2v42.8h-2.2zM1896.3,1504.2h2.8v42.8h-2.8zM1902.2,1504.2h1.3v42.8h-1.3zM1904.9,1504.2h1.2v42.8h-1.2zM1908.3,1504.2h1.4v42.8h-1.4zM1912.2,1504.2h3.3v42.8h-3.3zM1916.9,1504.2h2.6v42.8h-2.6zM1921.0,1504.2h1.5v42.8h-1.5zM1923.6,1504.2h2.2v42.8h-2.2zM1930.0,1504.2h1.9v42.8h-1.9zM1933.1,1504.2h2.1v42.8h-2.1zM1937.8,1504.2h1.2v42.8h-1.2zM1940.5,1504.2h2.7v42.8h-2.7zM1947.4,1504.2h1.5v42.8h-1.5zM1950.7,1504.2h1.3v42.8h-1.3zM1953.3,1504.2h2.0v42.8h-2.0zM1958.6,1504.2h4.1v42.8h-4.1zM1964.5,1504.2h1.5v42.8h-1.5zM1967.5,1504.2h2.7v42.8h-2.7zM1973.4,1504.2h1.5v42.8h-1.5zM1976.7,1504.2h1.2v42.8h-1.2zM1979.5,1504.2h1.6v42.8h-1.6zM1982.4,1504.2h1.2v42.8h-1.2zM1988.0,1504.2h2.2v42.8h-2.2zM1992.1,1504.2h2.4v42.8h-2.4zM1996.5,1504.2h2.1v42.8h-2.1zM1999.8,1504.2h2.5v42.8h-2.5zM2004.8,1504.2h1.6v42.8h-1.6zM2008.4,1504.2h3.4v42.8h-3.4zM2014.5,1504.2h1.4v42.8h-1.4zM2018.5,1504.2h1.5v42.8h-1.5zM2021.9,1504.2h2.8v42.8h-2.8zM2027.1,1504.2h2.4v42.8h-2.4zM2030.7,1504.2h4.2v42.8h-4.2zM2036.2,1504.2h2.4v42.8h-2.4zM2040.0,1504.2h5.3v42.8h-5.3zM2047.9,1504.2h3.6v42.8h-3.6zM2055.0,1504.2h2.4v42.8h-2.4zM2060.2,1504.2h2.0v42.8h-2.0z" fill="#000"/>
<path d="M1811.4,1504.2h0.8v42.8h-0.8zM1833.5,1504.2h0.8v42.8h-0.8zM1838.7,1504.2h0.8v42.8h-0.8zM1866.8,1504.2h0.8v42.8h-0.8zM1872.7,1504.2h0.8v42.8h-0.8zM1876.9,1504.2h0.8v42.8h-0.8zM1888.3,1504.2h0.8v42.8h-0.8zM1899.8,1504.2h0.8v42.8h-0.8zM1926.9,1504.2h0.8v42.8h-0.8zM1935.8,1504.2h0.8v42.8h-0.8zM1944.1,1504.2h0.8v42.8h-0.8zM1957.4,1504.2h0.8v42.8h-0.8zM1985.6,1504.2h0.8v42.8h-0.8zM2012.7,1504.2h0.8v42.8h-0.8zM2016.8,1504.2h0.8v42.8h-0.8zM2025.6,1504.2h0.8v42.8h-0.8zM2046.4,1504.2h0.8v42.8h-0.8z" fill="#000" opacity="0.45"/>
<rect x="1762.5" y="1547.0" width="150.8" height="11.0" fill="#f4b6e3" />
<rect x="1913.3" y="1547.0" width="151.2" height="11.0" fill="#3a0ca3" />
<path d="M1767.6,1547.0h0.9v11.0h-0.9zM1769.3,1547.0h0.9v11.0h-0.9zM1771.0,1547.0h0.9v11.0h-0.9zM1772.7,1547.0h0.9v11.0h-0.9zM1774.4,1547.0h0.9v11.0h-0.9zM1776.1,1547.0h0.9v11.0h-0.9zM1777.8,1547.0h0.9v11.0h-0.9zM1779.5,1547.0h0.9v11.0h-0.9zM1781.2,1547.0h0.9v11.0h-0.9zM1782.9,1547.0h0.9v11.0h-0.9zM1784.6,1547.0h0.9v11.0h-0.9zM1788.0,1547.0h0.9v11.0h-0.9zM1789.7,1547.0h0.9v11.0h-0.9zM1793.1,1547.0h0.9v11.0h-0.9zM1794.8,1547.0h0.9v11.0h-0.9zM1798.2,1547.0h0.9v11.0h-0.9zM1805.0,1547.0h0.9v11.0h-0.9zM1808.4,1547.0h0.9v11.0h-0.9zM1810.1,1547.0h0.9v11.0h-0.9zM1813.5,1547.0h0.9v11.0h-0.9zM1815.2,1547.0h0.9v11.0h-0.9zM1816.9,1547.0h0.9v11.0h-0.9zM1822.0,1547.0h0.9v11.0h-0.9zM1825.4,1547.0h0.9v11.0h-0.9zM1827.1,1547.0h0.9v11.0h-0.9zM1828.8,1547.0h0.9v11.0h-0.9zM1832.2,1547.0h0.9v11.0h-0.9zM1833.9,1547.0h0.9v11.0h-0.9zM1835.6,1547.0h0.9v11.0h-0.9zM1837.3,1547.0h0.9v11.0h-0.9zM1839.0,1547.0h0.9v11.0h-0.9zM1844.1,1547.0h0.9v11.0h-0.9zM1845.8,1547.0h0.9v11.0h-0.9zM1847.5,1547.0h0.9v11.0h-0.9zM1849.2,1547.0h0.9v11.0h-0.9zM1854.3,1547.0h0.9v11.0h-0.9zM1856.0,1547.0h0.9v11.0h-0.9zM1862.8,1547.0h0.9v11.0h-0.9zM1871.3,1547.0h0.9v11.0h-0.9zM1874.7,1547.0h0.9v11.0h-0.9zM1876.4,1547.0h0.9v11.0h-0.9zM1878.1,1547.0h0.9v11.0h-0.9zM1893.4,1547.0h0.9v11.0h-0.9zM1896.8,1547.0h0.9v11.0h-0.9zM1898.5,1547.0h0.9v11.0h-0.9zM1900.2,1547.0h0.9v11.0h-0.9zM1903.6,1547.0h0.9v11.0h-0.9zM1908.7,1547.0h0.9v11.0h-0.9zM1910.4,1547.0h0.9v11.0h-0.9z" fill="#5a2a55" opacity="0.22"/>
<rect x="1762.5" y="1547.0" width="15.1" height="11.0" fill="#7a3a6a" opacity="0.13"/>
<polyline points="1762.5,1490.9 1762.7,1490.2 1762.9,1489.0 1763.1,1485.4 1763.3,1485.2 1763.5,1483.4 1763.7,1481.7 1763.8,1478.4 1764.0,1476.6 1764.2,1476.1 1764.4,1475.5 1764.6,1472.5 1764.8,1471.6 1765.0,1469.5 1765.3,1469.4 1765.6,1468.0 1765.8,1464.7 1766.1,1464.8 1766.4,1460.4 1766.7,1460.9 1766.9,1459.5 1767.2,1455.6 1767.5,1455.6 1767.8,1453.5 1768.1,1453.0 1768.3,1449.1 1768.7,1448.5 1769.0,1447.8 1769.4,1445.4 1769.7,1442.8 1770.1,1440.4 1770.4,1441.3 1770.8,1438.3 1771.1,1438.2 1771.5,1433.9 1771.8,1434.3 1772.2,1432.6 1772.5,1431.3 1772.9,1426.9 1773.3,1426.3 1773.8,1423.7 1774.2,1424.1 1774.6,1421.2 1775.0,1421.4 1775.4,1418.0 1775.8,1417.5 1776.2,1416.1 1776.7,1412.6 1777.4,1411.8 1778.1,1411.4 1778.8,1408.4 1779.4,1406.2 1780.1,1404.3 1780.8,1404.2 1781.8,1401.1 1782.8,1401.0 1783.8,1399.5 1784.8,1398.2 1785.8,1395.6 1787.2,1396.0 1788.6,1395.7 1790.0,1392.8 1790.7,1391.3 1791.3,1391.6 1792.0,1389.1 1792.7,1386.7 1793.3,1384.4 1794.7,1387.7 1796.1,1387.6 1797.5,1389.1 1799.2,1387.4 1800.8,1387.3 1802.5,1386.5 1803.2,1383.7 1803.9,1381.5 1804.6,1382.7 1805.3,1381.0 1806.0,1376.8 1806.7,1376.9 1808.1,1378.3 1809.4,1378.6 1810.8,1380.7 1811.9,1382.8 1812.9,1383.2 1814.0,1384.0 1815.0,1384.9 1815.5,1383.5 1816.0,1381.7 1816.4,1380.0 1816.9,1378.8 1817.4,1379.1 1817.9,1376.7 1818.3,1375.9 1820.0,1374.6 1821.7,1372.6 1823.3,1371.1 1825.0,1374.6 1826.7,1372.9 1828.3,1375.8 1830.0,1376.9 1831.7,1377.1 1833.3,1377.4 1835.0,1377.5 1836.7,1378.5 1838.3,1381.2 1839.7,1381.1 1841.0,1382.9 1842.3,1383.1 1843.7,1383.8 1845.0,1385.2 1846.2,1387.8 1847.3,1388.5 1848.5,1389.5 1849.7,1391.1 1850.8,1392.7 1852.1,1390.9 1853.3,1389.0 1854.2,1392.1 1855.0,1393.0 1855.8,1392.9 1856.7,1394.7 1857.5,1395.9 1858.3,1397.9 1859.3,1395.4 1860.3,1396.1 1861.3,1394.0 1862.3,1392.1 1863.3,1392.0 1864.6,1391.4 1865.8,1393.2 1867.1,1395.2 1868.3,1395.2 1869.6,1396.6 1870.8,1397.1 1872.1,1400.2 1873.3,1400.8 1874.4,1400.9 1875.4,1402.5 1876.5,1404.6 1877.5,1405.9 1878.8,1404.7 1880.0,1402.4 1881.2,1402.3 1882.5,1401.4 1883.5,1403.3 1884.6,1404.0 1885.6,1405.7 1886.7,1407.5 1887.8,1408.8 1889.0,1409.8 1890.2,1409.5 1891.3,1411.5 1892.5,1414.8 1893.2,1415.8 1894.0,1416.2 1894.7,1418.5 1895.4,1418.3 1896.1,1419.9 1896.9,1422.1 1897.6,1424.1 1898.3,1423.6 1899.2,1423.2 1900.0,1422.9 1900.8,1420.3 1901.7,1419.8 1902.5,1415.5 1904.2,1416.8 1905.8,1415.5 1907.5,1411.9 1909.0,1414.3 1910.4,1415.8 1911.9,1415.0 1913.3,1417.1 1914.8,1418.6 1916.2,1419.2 1917.7,1419.0 1919.2,1418.7 1920.0,1421.5 1920.8,1421.9 1921.7,1424.4 1922.5,1425.0 1923.3,1426.7 1924.2,1428.7 1925.0,1431.0 1925.8,1432.9 1926.7,1432.6 1927.5,1432.8 1928.3,1436.5 1929.2,1436.7 1930.0,1439.3 1930.8,1441.0 1931.7,1440.1 1932.5,1443.8 1933.3,1444.0 1934.2,1445.7 1935.0,1447.2 1935.8,1449.4 1936.7,1450.1 1937.6,1452.3 1938.6,1453.2 1939.6,1454.3 1940.6,1456.2 1941.5,1459.0 1942.5,1459.4 1944.6,1459.5 1946.7,1460.4 1947.8,1461.2 1948.9,1464.8 1950.0,1465.4 1951.1,1464.8 1952.2,1466.5 1953.3,1468.1 1954.7,1467.0 1956.1,1465.2 1957.5,1464.2 1958.3,1466.5 1959.2,1466.2 1960.0,1469.0 1960.8,1469.4 1961.7,1472.0 1962.5,1472.9 1963.3,1475.9 1964.4,1477.5 1965.6,1479.1 1966.7,1478.9 1967.8,1480.9 1968.9,1481.0 1970.0,1484.0 1971.3,1482.8 1972.7,1480.4 1974.0,1478.8 1975.3,1478.8 1976.7,1477.4 1978.0,1478.6 1979.3,1478.0 1980.7,1478.9 1982.0,1479.9 1983.3,1480.7 1985.0,1481.2 1986.7,1482.6 1988.3,1484.8 1990.0,1485.6 1991.3,1486.0 1992.7,1483.5 1994.0,1481.8 1995.3,1483.1 1996.7,1479.6 1998.0,1479.2 1999.3,1479.3 2000.7,1476.8 2002.0,1477.6 2003.3,1475.7 2005.0,1474.7 2006.7,1476.6 2008.3,1477.1 2009.7,1475.0 2011.1,1473.1 2012.5,1472.1 2013.5,1475.7 2014.4,1477.3 2015.4,1478.0 2016.4,1479.7 2017.4,1481.2 2018.3,1480.9 2019.6,1481.8 2020.8,1484.9 2022.1,1485.8 2023.3,1485.6 2024.6,1486.2 2025.8,1486.7 2027.1,1488.7 2028.3,1491.2 2028.8,1487.4 2029.3,1486.1 2029.8,1483.6 2030.3,1483.5 2030.8,1480.3 2032.0,1483.4 2033.2,1484.0 2034.3,1484.9 2035.5,1485.6 2036.7,1486.9 2037.9,1489.8 2039.2,1491.0 2040.4,1491.6 2041.7,1491.1 2042.9,1492.2 2044.2,1493.8 2045.1,1493.9 2046.1,1492.7 2047.1,1489.2 2048.1,1489.0 2049.0,1486.9 2050.0,1485.7 2051.4,1485.8 2052.8,1488.2 2054.2,1489.2 2056.2,1488.8 2058.3,1486.6 2059.9,1487.9 2061.4,1489.9 2063.0,1490.8" fill="none" stroke="#1cee1c" stroke-width="3.4" stroke-linejoin="round" stroke-linecap="round"/>
<text x="1781.5" y="1464.2" font-size="29.1" font-weight="bold">NES = 3.72</text>
<text x="1781.5" y="1488.3" font-size="29.1" font-weight="bold">FDR q = 0.000</text>
<text x="1768.8" y="1585.2" font-size="29.1">Palbo</text>
<text x="2065.0" y="1585.2" font-size="29.1" text-anchor="end">DMSO</text>
</svg>
</body></html>
